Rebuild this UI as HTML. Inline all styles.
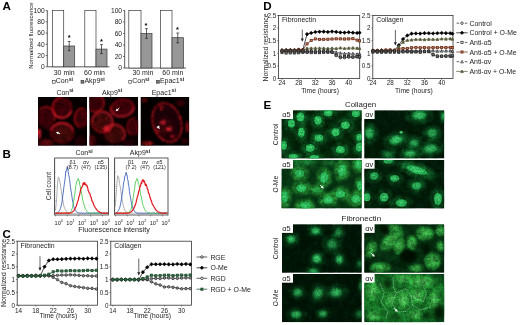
<!DOCTYPE html>
<html lang="en"><head><meta charset="utf-8"><title>Figure</title>
<style>html,body{margin:0;padding:0;background:#fff;overflow:hidden}svg{display:block}body>svg{filter:blur(0.35px)}text{font-family:"Liberation Sans",sans-serif}</style></head><body>
<svg width="520" height="325" viewBox="0 0 520 325">
<defs>
<filter id="b0_5" x="-60%" y="-60%" width="220%" height="220%"><feGaussianBlur stdDeviation="0.5"/></filter>
<filter id="b0_8" x="-60%" y="-60%" width="220%" height="220%"><feGaussianBlur stdDeviation="0.8"/></filter>
<filter id="b1_0" x="-60%" y="-60%" width="220%" height="220%"><feGaussianBlur stdDeviation="1.0"/></filter>
<filter id="b1_2" x="-60%" y="-60%" width="220%" height="220%"><feGaussianBlur stdDeviation="1.2"/></filter>
<filter id="b1_6" x="-60%" y="-60%" width="220%" height="220%"><feGaussianBlur stdDeviation="1.6"/></filter>
<filter id="b2_0" x="-60%" y="-60%" width="220%" height="220%"><feGaussianBlur stdDeviation="2.0"/></filter>
<filter id="b2_5" x="-60%" y="-60%" width="220%" height="220%"><feGaussianBlur stdDeviation="2.5"/></filter>
<filter id="b3_0" x="-60%" y="-60%" width="220%" height="220%"><feGaussianBlur stdDeviation="3.0"/></filter>
<filter id="b4_0" x="-60%" y="-60%" width="220%" height="220%"><feGaussianBlur stdDeviation="4.0"/></filter>
<filter id="nz0" x="0" y="0" width="100%" height="100%"><feTurbulence type="fractalNoise" baseFrequency="0.16" numOctaves="3" seed="3" result="n"/><feColorMatrix in="n" type="matrix" values="0 0 0 0 0  0 0 0 0 0  0 0 0 0 0  2.2 0 0 0 -0.7" result="a"/><feComposite in="SourceGraphic" in2="a" operator="in"/></filter>
<filter id="nz1" x="0" y="0" width="100%" height="100%"><feTurbulence type="fractalNoise" baseFrequency="0.16" numOctaves="3" seed="4" result="n"/><feColorMatrix in="n" type="matrix" values="0 0 0 0 0  0 0 0 0 0  0 0 0 0 0  2.2 0 0 0 -0.7" result="a"/><feComposite in="SourceGraphic" in2="a" operator="in"/></filter>
<filter id="nz2" x="0" y="0" width="100%" height="100%"><feTurbulence type="fractalNoise" baseFrequency="0.16" numOctaves="3" seed="5" result="n"/><feColorMatrix in="n" type="matrix" values="0 0 0 0 0  0 0 0 0 0  0 0 0 0 0  2.2 0 0 0 -0.7" result="a"/><feComposite in="SourceGraphic" in2="a" operator="in"/></filter>
<filter id="nz3" x="0" y="0" width="100%" height="100%"><feTurbulence type="fractalNoise" baseFrequency="0.16" numOctaves="3" seed="6" result="n"/><feColorMatrix in="n" type="matrix" values="0 0 0 0 0  0 0 0 0 0  0 0 0 0 0  2.2 0 0 0 -0.7" result="a"/><feComposite in="SourceGraphic" in2="a" operator="in"/></filter>
<filter id="nz4" x="0" y="0" width="100%" height="100%"><feTurbulence type="fractalNoise" baseFrequency="0.16" numOctaves="3" seed="7" result="n"/><feColorMatrix in="n" type="matrix" values="0 0 0 0 0  0 0 0 0 0  0 0 0 0 0  2.2 0 0 0 -0.7" result="a"/><feComposite in="SourceGraphic" in2="a" operator="in"/></filter>
<filter id="nz5" x="0" y="0" width="100%" height="100%"><feTurbulence type="fractalNoise" baseFrequency="0.16" numOctaves="3" seed="8" result="n"/><feColorMatrix in="n" type="matrix" values="0 0 0 0 0  0 0 0 0 0  0 0 0 0 0  2.2 0 0 0 -0.7" result="a"/><feComposite in="SourceGraphic" in2="a" operator="in"/></filter>
<filter id="nz6" x="0" y="0" width="100%" height="100%"><feTurbulence type="fractalNoise" baseFrequency="0.16" numOctaves="3" seed="9" result="n"/><feColorMatrix in="n" type="matrix" values="0 0 0 0 0  0 0 0 0 0  0 0 0 0 0  2.2 0 0 0 -0.7" result="a"/><feComposite in="SourceGraphic" in2="a" operator="in"/></filter>
<filter id="nz7" x="0" y="0" width="100%" height="100%"><feTurbulence type="fractalNoise" baseFrequency="0.16" numOctaves="3" seed="10" result="n"/><feColorMatrix in="n" type="matrix" values="0 0 0 0 0  0 0 0 0 0  0 0 0 0 0  2.2 0 0 0 -0.7" result="a"/><feComposite in="SourceGraphic" in2="a" operator="in"/></filter>
<filter id="nz8" x="0" y="0" width="100%" height="100%"><feTurbulence type="fractalNoise" baseFrequency="0.16" numOctaves="3" seed="11" result="n"/><feColorMatrix in="n" type="matrix" values="0 0 0 0 0  0 0 0 0 0  0 0 0 0 0  2.2 0 0 0 -0.7" result="a"/><feComposite in="SourceGraphic" in2="a" operator="in"/></filter>
<filter id="nz9" x="0" y="0" width="100%" height="100%"><feTurbulence type="fractalNoise" baseFrequency="0.16" numOctaves="3" seed="12" result="n"/><feColorMatrix in="n" type="matrix" values="0 0 0 0 0  0 0 0 0 0  0 0 0 0 0  2.2 0 0 0 -0.7" result="a"/><feComposite in="SourceGraphic" in2="a" operator="in"/></filter>
<filter id="nz10" x="0" y="0" width="100%" height="100%"><feTurbulence type="fractalNoise" baseFrequency="0.16" numOctaves="3" seed="13" result="n"/><feColorMatrix in="n" type="matrix" values="0 0 0 0 0  0 0 0 0 0  0 0 0 0 0  2.2 0 0 0 -0.7" result="a"/><feComposite in="SourceGraphic" in2="a" operator="in"/></filter>
<filter id="nz11" x="0" y="0" width="100%" height="100%"><feTurbulence type="fractalNoise" baseFrequency="0.16" numOctaves="3" seed="14" result="n"/><feColorMatrix in="n" type="matrix" values="0 0 0 0 0  0 0 0 0 0  0 0 0 0 0  2.2 0 0 0 -0.7" result="a"/><feComposite in="SourceGraphic" in2="a" operator="in"/></filter>
<filter id="nf0" x="0" y="0" width="100%" height="100%"><feTurbulence type="fractalNoise" baseFrequency="0.55" numOctaves="2" seed="31" result="n"/><feColorMatrix in="n" type="matrix" values="0 0 0 0 0  0 0 0 0 0  0 0 0 0 0  2.6 0 0 0 -0.95" result="a"/><feComposite in="SourceGraphic" in2="a" operator="in"/></filter>
<filter id="nf1" x="0" y="0" width="100%" height="100%"><feTurbulence type="fractalNoise" baseFrequency="0.55" numOctaves="2" seed="32" result="n"/><feColorMatrix in="n" type="matrix" values="0 0 0 0 0  0 0 0 0 0  0 0 0 0 0  2.6 0 0 0 -0.95" result="a"/><feComposite in="SourceGraphic" in2="a" operator="in"/></filter>
<filter id="nf2" x="0" y="0" width="100%" height="100%"><feTurbulence type="fractalNoise" baseFrequency="0.55" numOctaves="2" seed="33" result="n"/><feColorMatrix in="n" type="matrix" values="0 0 0 0 0  0 0 0 0 0  0 0 0 0 0  2.6 0 0 0 -0.95" result="a"/><feComposite in="SourceGraphic" in2="a" operator="in"/></filter>
<filter id="nf3" x="0" y="0" width="100%" height="100%"><feTurbulence type="fractalNoise" baseFrequency="0.55" numOctaves="2" seed="34" result="n"/><feColorMatrix in="n" type="matrix" values="0 0 0 0 0  0 0 0 0 0  0 0 0 0 0  2.6 0 0 0 -0.95" result="a"/><feComposite in="SourceGraphic" in2="a" operator="in"/></filter>
<filter id="nf4" x="0" y="0" width="100%" height="100%"><feTurbulence type="fractalNoise" baseFrequency="0.55" numOctaves="2" seed="35" result="n"/><feColorMatrix in="n" type="matrix" values="0 0 0 0 0  0 0 0 0 0  0 0 0 0 0  2.6 0 0 0 -0.95" result="a"/><feComposite in="SourceGraphic" in2="a" operator="in"/></filter>
<filter id="nf5" x="0" y="0" width="100%" height="100%"><feTurbulence type="fractalNoise" baseFrequency="0.55" numOctaves="2" seed="36" result="n"/><feColorMatrix in="n" type="matrix" values="0 0 0 0 0  0 0 0 0 0  0 0 0 0 0  2.6 0 0 0 -0.95" result="a"/><feComposite in="SourceGraphic" in2="a" operator="in"/></filter>
<filter id="nf6" x="0" y="0" width="100%" height="100%"><feTurbulence type="fractalNoise" baseFrequency="0.55" numOctaves="2" seed="37" result="n"/><feColorMatrix in="n" type="matrix" values="0 0 0 0 0  0 0 0 0 0  0 0 0 0 0  2.6 0 0 0 -0.95" result="a"/><feComposite in="SourceGraphic" in2="a" operator="in"/></filter>
<filter id="nf7" x="0" y="0" width="100%" height="100%"><feTurbulence type="fractalNoise" baseFrequency="0.55" numOctaves="2" seed="38" result="n"/><feColorMatrix in="n" type="matrix" values="0 0 0 0 0  0 0 0 0 0  0 0 0 0 0  2.6 0 0 0 -0.95" result="a"/><feComposite in="SourceGraphic" in2="a" operator="in"/></filter>
<filter id="nf8" x="0" y="0" width="100%" height="100%"><feTurbulence type="fractalNoise" baseFrequency="0.55" numOctaves="2" seed="39" result="n"/><feColorMatrix in="n" type="matrix" values="0 0 0 0 0  0 0 0 0 0  0 0 0 0 0  2.6 0 0 0 -0.95" result="a"/><feComposite in="SourceGraphic" in2="a" operator="in"/></filter>
<filter id="nf9" x="0" y="0" width="100%" height="100%"><feTurbulence type="fractalNoise" baseFrequency="0.55" numOctaves="2" seed="40" result="n"/><feColorMatrix in="n" type="matrix" values="0 0 0 0 0  0 0 0 0 0  0 0 0 0 0  2.6 0 0 0 -0.95" result="a"/><feComposite in="SourceGraphic" in2="a" operator="in"/></filter>
<filter id="nf10" x="0" y="0" width="100%" height="100%"><feTurbulence type="fractalNoise" baseFrequency="0.55" numOctaves="2" seed="41" result="n"/><feColorMatrix in="n" type="matrix" values="0 0 0 0 0  0 0 0 0 0  0 0 0 0 0  2.6 0 0 0 -0.95" result="a"/><feComposite in="SourceGraphic" in2="a" operator="in"/></filter>
<filter id="nf11" x="0" y="0" width="100%" height="100%"><feTurbulence type="fractalNoise" baseFrequency="0.55" numOctaves="2" seed="42" result="n"/><feColorMatrix in="n" type="matrix" values="0 0 0 0 0  0 0 0 0 0  0 0 0 0 0  2.6 0 0 0 -0.95" result="a"/><feComposite in="SourceGraphic" in2="a" operator="in"/></filter>
</defs>
<rect width="520" height="325" fill="#fff"/>
<text x="2.40" y="9.90" font-size="11.6" text-anchor="start" font-weight="bold" fill="#000" >A</text>
<text x="2.60" y="158.20" font-size="11.6" text-anchor="start" font-weight="bold" fill="#000" >B</text>
<text x="2.40" y="237.80" font-size="11.6" text-anchor="start" font-weight="bold" fill="#000" >C</text>
<text x="263.20" y="9.70" font-size="11.6" text-anchor="start" font-weight="bold" fill="#000" >D</text>
<text x="263.60" y="108.90" font-size="11.6" text-anchor="start" font-weight="bold" fill="#000" >E</text>
<text transform="translate(33.20,35.60) rotate(-90)" font-size="6.05" text-anchor="middle" fill="#1c1c1c">Normalized fluorescence</text>
<path d="M47.30 10.30V66.80H109.50" fill="none" stroke="#333" stroke-width="0.8"/>
<path d="M45.70 10.60H47.30" stroke="#333" stroke-width="0.7"/>
<text x="44.70" y="13.00" font-size="6.7" text-anchor="end" font-weight="normal" fill="#1c1c1c" >100</text>
<path d="M45.70 21.84H47.30" stroke="#333" stroke-width="0.7"/>
<text x="44.70" y="24.24" font-size="6.7" text-anchor="end" font-weight="normal" fill="#1c1c1c" >80</text>
<path d="M45.70 33.08H47.30" stroke="#333" stroke-width="0.7"/>
<text x="44.70" y="35.48" font-size="6.7" text-anchor="end" font-weight="normal" fill="#1c1c1c" >60</text>
<path d="M45.70 44.32H47.30" stroke="#333" stroke-width="0.7"/>
<text x="44.70" y="46.72" font-size="6.7" text-anchor="end" font-weight="normal" fill="#1c1c1c" >40</text>
<path d="M45.70 55.56H47.30" stroke="#333" stroke-width="0.7"/>
<text x="44.70" y="57.96" font-size="6.7" text-anchor="end" font-weight="normal" fill="#1c1c1c" >20</text>
<path d="M45.70 66.80H47.30" stroke="#333" stroke-width="0.7"/>
<text x="44.70" y="69.20" font-size="6.7" text-anchor="end" font-weight="normal" fill="#1c1c1c" >0</text>
<rect x="52.40" y="10.60" width="11.30" height="56.20" fill="#fff" stroke="#3a3a3a" stroke-width="0.7"/>
<rect x="63.70" y="46.00" width="11.00" height="20.80" fill="#979797" stroke="#3a3a3a" stroke-width="0.7"/>
<path d="M69.20 41.50V50.70M67.80 41.50h2.8M67.80 50.70h2.8" stroke="#222" stroke-width="0.7" fill="none"/>
<text x="69.30" y="40.10" font-size="7.5" text-anchor="middle" font-weight="bold" fill="#000" >*</text>
<rect x="84.80" y="10.60" width="11.20" height="56.20" fill="#fff" stroke="#3a3a3a" stroke-width="0.7"/>
<rect x="96.00" y="49.10" width="11.00" height="17.70" fill="#979797" stroke="#3a3a3a" stroke-width="0.7"/>
<path d="M101.50 44.60V53.60M100.10 44.60h2.8M100.10 53.60h2.8" stroke="#222" stroke-width="0.7" fill="none"/>
<text x="101.50" y="43.80" font-size="7.5" text-anchor="middle" font-weight="bold" fill="#000" >*</text>
<text x="53.70" y="75.00" font-size="7.0" text-anchor="start" font-weight="normal" fill="#1c1c1c" >30 min</text>
<text x="84.00" y="75.00" font-size="7.0" text-anchor="start" font-weight="normal" fill="#1c1c1c" >60 min</text>
<rect x="52.40" y="80.40" width="2.8" height="2.8" fill="#fff" stroke="#333" stroke-width="0.6"/>
<text x="55.80" y="83.40" font-size="7.0" text-anchor="start" font-weight="normal" fill="#1c1c1c" >Con<tspan font-size="5.2" dy="-2.4" font-weight="bold">si</tspan></text>
<rect x="81.00" y="80.40" width="2.8" height="2.8" fill="#777" stroke="#333" stroke-width="0.6"/>
<text x="84.40" y="83.40" font-size="7.0" text-anchor="start" font-weight="normal" fill="#1c1c1c" >Akp9<tspan font-size="5.2" dy="-2.4" font-weight="bold">si</tspan></text>
<path d="M124.70 10.20V68.00H186.00" fill="none" stroke="#333" stroke-width="0.8"/>
<path d="M123.10 10.50H124.70" stroke="#333" stroke-width="0.7"/>
<text x="122.10" y="12.90" font-size="6.7" text-anchor="end" font-weight="normal" fill="#1c1c1c" >100</text>
<path d="M123.10 22.00H124.70" stroke="#333" stroke-width="0.7"/>
<text x="122.10" y="24.40" font-size="6.7" text-anchor="end" font-weight="normal" fill="#1c1c1c" >80</text>
<path d="M123.10 33.50H124.70" stroke="#333" stroke-width="0.7"/>
<text x="122.10" y="35.90" font-size="6.7" text-anchor="end" font-weight="normal" fill="#1c1c1c" >60</text>
<path d="M123.10 45.00H124.70" stroke="#333" stroke-width="0.7"/>
<text x="122.10" y="47.40" font-size="6.7" text-anchor="end" font-weight="normal" fill="#1c1c1c" >40</text>
<path d="M123.10 56.50H124.70" stroke="#333" stroke-width="0.7"/>
<text x="122.10" y="58.90" font-size="6.7" text-anchor="end" font-weight="normal" fill="#1c1c1c" >20</text>
<path d="M123.10 68.00H124.70" stroke="#333" stroke-width="0.7"/>
<text x="122.10" y="70.40" font-size="6.7" text-anchor="end" font-weight="normal" fill="#1c1c1c" >0</text>
<rect x="128.80" y="10.50" width="12.20" height="57.50" fill="#fff" stroke="#3a3a3a" stroke-width="0.7"/>
<rect x="141.00" y="33.50" width="11.00" height="34.50" fill="#979797" stroke="#3a3a3a" stroke-width="0.7"/>
<path d="M146.50 28.60V38.40M145.10 28.60h2.8M145.10 38.40h2.8" stroke="#222" stroke-width="0.7" fill="none"/>
<text x="145.90" y="28.40" font-size="7.5" text-anchor="middle" font-weight="bold" fill="#000" >*</text>
<rect x="160.40" y="10.50" width="11.60" height="57.50" fill="#fff" stroke="#3a3a3a" stroke-width="0.7"/>
<rect x="172.00" y="37.70" width="11.50" height="30.30" fill="#979797" stroke="#3a3a3a" stroke-width="0.7"/>
<path d="M177.75 33.00V42.80M176.35 33.00h2.8M176.35 42.80h2.8" stroke="#222" stroke-width="0.7" fill="none"/>
<text x="177.50" y="32.10" font-size="7.5" text-anchor="middle" font-weight="bold" fill="#000" >*</text>
<text x="132.40" y="75.00" font-size="7.0" text-anchor="start" font-weight="normal" fill="#1c1c1c" >30 min</text>
<text x="162.30" y="75.00" font-size="7.0" text-anchor="start" font-weight="normal" fill="#1c1c1c" >60 min</text>
<rect x="128.80" y="80.40" width="2.8" height="2.8" fill="#fff" stroke="#333" stroke-width="0.6"/>
<text x="132.20" y="83.40" font-size="7.0" text-anchor="start" font-weight="normal" fill="#1c1c1c" >Con<tspan font-size="5.2" dy="-2.4" font-weight="bold">si</tspan></text>
<rect x="156.50" y="80.40" width="2.8" height="2.8" fill="#777" stroke="#333" stroke-width="0.6"/>
<text x="159.90" y="83.40" font-size="7.0" text-anchor="start" font-weight="normal" fill="#1c1c1c" >Epac1<tspan font-size="5.2" dy="-2.4" font-weight="bold">si</tspan></text>
<text x="56.40" y="94.70" font-size="7.0" text-anchor="start" font-weight="normal" fill="#1c1c1c" >Con<tspan font-size="5.2" dy="-2.4" font-weight="bold">si</tspan></text>
<text x="101.90" y="94.70" font-size="7.0" text-anchor="start" font-weight="normal" fill="#1c1c1c" >Akp9<tspan font-size="5.2" dy="-2.4" font-weight="bold">si</tspan></text>
<text x="151.70" y="94.70" font-size="7.0" text-anchor="start" font-weight="normal" fill="#1c1c1c" >Epac1<tspan font-size="5.2" dy="-2.4" font-weight="bold">si</tspan></text>
<svg x="38.00" y="97.00" width="49.00" height="48.80" viewBox="0 0 49.00 48.80" overflow="hidden">
<rect width="49.00" height="48.80" fill="#0a0102"/>
<ellipse cx="24" cy="10.8" rx="9.6" ry="10" fill="#50060b" opacity="0.95" transform="rotate(0 24 10.8)" filter="url(#b1_2)"/>
<ellipse cx="24" cy="10.8" rx="9.6" ry="10" fill="none" stroke="#8c0a12" stroke-width="1.2" opacity="0.9" transform="rotate(0 24 10.8)" filter="url(#b0_8)"/>
<ellipse cx="24" cy="36" rx="11.5" ry="10" fill="#56070c" opacity="0.95" transform="rotate(0 24 36)" filter="url(#b1_2)"/>
<ellipse cx="24" cy="36" rx="11.5" ry="10" fill="none" stroke="#8c0a12" stroke-width="1.2" opacity="0.9" transform="rotate(0 24 36)" filter="url(#b0_8)"/>
<ellipse cx="43.7" cy="21" rx="7" ry="9.5" fill="#5a060c" opacity="0.9" transform="rotate(10 43.7 21)" filter="url(#b1_2)"/>
<ellipse cx="43.7" cy="21" rx="7" ry="9.5" fill="none" stroke="#8c0a12" stroke-width="1.0" opacity="0.8" transform="rotate(10 43.7 21)" filter="url(#b0_8)"/>
<ellipse cx="8" cy="20" rx="9" ry="11" fill="#52060c" opacity="0.9" transform="rotate(0 8 20)" filter="url(#b1_6)"/>
<ellipse cx="1.2" cy="37" rx="2.2" ry="5.5" fill="#ff2838" opacity="0.95" transform="rotate(0 1.2 37)" filter="url(#b1_0)"/>
<ellipse cx="8" cy="46" rx="8" ry="4" fill="#8c0a12" opacity="0.75" transform="rotate(0 8 46)" filter="url(#b1_6)"/>
<ellipse cx="42" cy="44" rx="6" ry="5" fill="#3a0408" opacity="0.7" transform="rotate(0 42 44)" filter="url(#b1_6)"/>
<ellipse cx="13" cy="30" rx="4" ry="4" fill="#5a060c" opacity="0.7" transform="rotate(0 13 30)" filter="url(#b1_6)"/>
<rect width="49.00" height="48.80" fill="#000" opacity="0.35" filter="url(#nz0)"/>
<rect width="49.00" height="48.80" fill="#000" opacity="0.3" filter="url(#nf0)"/>
<path d="M33.02 14.22A9.6 10 0 0 1 15.69 15.80" fill="none" stroke="#ff2838" stroke-width="1.5" stroke-linecap="round" opacity="0.95" filter="url(#b0_8)" transform="rotate(0 24 10.8)"/><path d="M15.69 15.80A9.6 10 0 0 1 22.33 0.95" fill="none" stroke="#c8141e" stroke-width="1.2" stroke-linecap="round" opacity="0.8" filter="url(#b0_8)" transform="rotate(0 24 10.8)"/><path d="M12.89 33.41A11.5 10 0 0 1 35.11 33.41" fill="none" stroke="#ff2838" stroke-width="1.3" stroke-linecap="round" opacity="0.9" filter="url(#b0_8)" transform="rotate(0 24 36)"/><path d="M2.21 12.34A9 10 0 0 1 16.46 23.42" fill="none" stroke="#c8141e" stroke-width="1.4" stroke-linecap="round" opacity="0.8" filter="url(#b0_8)" transform="rotate(0 8 20)"/><path d="M41.31 29.93A7 9.5 0 0 1 44.92 11.64" fill="none" stroke="#c8141e" stroke-width="1.2" stroke-linecap="round" opacity="0.85" filter="url(#b0_8)" transform="rotate(0 43.7 21)"/><g transform="translate(18.0,35.0) rotate(205)"><path d="M-4.5 0H-1.5" stroke="#fff" stroke-width="0.9"/><path d="M0 0L-2.6 -1.4V1.4Z" fill="#fff"/></g>
</svg>
<svg x="89.30" y="97.00" width="48.90" height="48.80" viewBox="0 0 48.90 48.80" overflow="hidden">
<rect width="48.90" height="48.80" fill="#0d0102"/>
<ellipse cx="33" cy="11" rx="11.5" ry="8.5" fill="#52060c" opacity="0.95" transform="rotate(-10 33 11)" filter="url(#b1_2)"/>
<ellipse cx="13" cy="25" rx="10.5" ry="10.5" fill="#58070d" opacity="0.95" transform="rotate(0 13 25)" filter="url(#b1_2)"/>
<ellipse cx="25" cy="37" rx="10.5" ry="9.5" fill="#58070d" opacity="0.95" transform="rotate(0 25 37)" filter="url(#b1_2)"/>
<ellipse cx="6" cy="6" rx="9" ry="9" fill="#50060b" opacity="0.9" transform="rotate(0 6 6)" filter="url(#b1_2)"/>
<ellipse cx="45" cy="30" rx="7" ry="9" fill="#5a060c" opacity="0.85" transform="rotate(0 45 30)" filter="url(#b1_2)"/>
<ellipse cx="2" cy="44" rx="4" ry="6" fill="#8c0a12" opacity="0.7" transform="rotate(0 2 44)" filter="url(#b1_6)"/>
<ellipse cx="40" cy="46" rx="6" ry="4" fill="#3a0408" opacity="0.7" transform="rotate(0 40 46)" filter="url(#b1_6)"/>
<ellipse cx="17" cy="31.4" rx="2.4" ry="2.4" fill="#ff3c50" opacity="1" transform="rotate(0 17 31.4)" filter="url(#b0_8)"/>
<ellipse cx="17" cy="31.4" rx="4.5" ry="4.5" fill="#c8141e" opacity="0.6" transform="rotate(0 17 31.4)" filter="url(#b1_6)"/>
<rect width="48.90" height="48.80" fill="#000" opacity="0.35" filter="url(#nz1)"/>
<rect width="48.90" height="48.80" fill="#000" opacity="0.3" filter="url(#nf1)"/>
<path d="M44.33 12.48A11.5 8.5 0 1 1 22.19 8.09" fill="none" stroke="#ff2838" stroke-width="1.4" stroke-linecap="round" opacity="0.9" filter="url(#b0_8)" transform="rotate(-10 33 11)"/><path d="M22.19 8.09A11.5 8.5 0 0 1 44.33 12.48" fill="none" stroke="#c8141e" stroke-width="1.1" stroke-linecap="round" opacity="0.8" filter="url(#b0_8)" transform="rotate(-10 33 11)"/><path d="M2.50 25.00A10.5 10.5 0 1 1 18.25 34.09" fill="none" stroke="#ff2838" stroke-width="1.3" stroke-linecap="round" opacity="0.85" filter="url(#b0_8)" transform="rotate(0 13 25)"/><path d="M18.25 34.09A10.5 10.5 0 0 1 2.50 25.00" fill="none" stroke="#c8141e" stroke-width="1.1" stroke-linecap="round" opacity="0.8" filter="url(#b0_8)" transform="rotate(0 13 25)"/><path d="M15.13 33.75A10.5 9.5 0 1 1 33.04 43.11" fill="none" stroke="#ff2838" stroke-width="1.3" stroke-linecap="round" opacity="0.85" filter="url(#b0_8)" transform="rotate(0 25 37)"/><path d="M10.50 -1.79A9 9 0 0 1 1.50 13.79" fill="none" stroke="#c8141e" stroke-width="1.3" stroke-linecap="round" opacity="0.85" filter="url(#b0_8)" transform="rotate(0 6 6)"/><path d="M41.50 37.79A7 9 0 0 1 45.00 21.00" fill="none" stroke="#c8141e" stroke-width="1.1" stroke-linecap="round" opacity="0.8" filter="url(#b0_8)" transform="rotate(0 45 30)"/><g transform="translate(26.3,14.2) rotate(140)"><path d="M-4.8 0H-1.5" stroke="#fff" stroke-width="0.9"/><path d="M0 0L-2.6 -1.4V1.4Z" fill="#fff"/></g>
</svg>
<svg x="140.50" y="97.00" width="48.80" height="48.80" viewBox="0 0 48.80 48.80" overflow="hidden">
<rect width="48.80" height="48.80" fill="#070001"/>
<ellipse cx="26.5" cy="25.5" rx="14" ry="20" fill="#2c0307" opacity="0.85" transform="rotate(-18 26.5 25.5)" filter="url(#b1_6)"/>
<ellipse cx="25" cy="30" rx="8" ry="8" fill="#5a070d" opacity="0.6" transform="rotate(0 25 30)" filter="url(#b2_0)"/>
<ellipse cx="22.5" cy="25.5" rx="2.8" ry="2.2" fill="#ff2838" opacity="0.9" transform="rotate(0 22.5 25.5)" filter="url(#b1_0)"/>
<ellipse cx="28.5" cy="32" rx="3.0" ry="2.4" fill="#ff2838" opacity="0.85" transform="rotate(0 28.5 32)" filter="url(#b1_0)"/>
<ellipse cx="32" cy="39.5" rx="2.2" ry="2.0" fill="#c8141e" opacity="0.8" transform="rotate(0 32 39.5)" filter="url(#b1_0)"/>
<ellipse cx="17" cy="34" rx="2.0" ry="2.0" fill="#c8141e" opacity="0.8" transform="rotate(0 17 34)" filter="url(#b1_0)"/>
<ellipse cx="21" cy="11" rx="2.0" ry="3.0" fill="#c8141e" opacity="0.7" transform="rotate(0 21 11)" filter="url(#b1_0)"/>
<ellipse cx="46.8" cy="30" rx="1.6" ry="6" fill="#c8141e" opacity="0.95" transform="rotate(0 46.8 30)" filter="url(#b1_0)"/>
<ellipse cx="7" cy="46.5" rx="6" ry="2.2" fill="#c8141e" opacity="0.9" transform="rotate(0 7 46.5)" filter="url(#b1_2)"/>
<ellipse cx="4" cy="3" rx="3" ry="2.5" fill="#8c0a12" opacity="0.8" transform="rotate(0 4 3)" filter="url(#b1_2)"/>
<ellipse cx="40" cy="6" rx="5" ry="3" fill="#5a060c" opacity="0.8" transform="rotate(0 40 6)" filter="url(#b1_6)"/>
<ellipse cx="44" cy="44" rx="4" ry="3" fill="#5a060c" opacity="0.6" transform="rotate(0 44 44)" filter="url(#b1_6)"/>
<rect width="48.80" height="48.80" fill="#000" opacity="0.3" filter="url(#nz2)"/>
<rect width="48.80" height="48.80" fill="#000" opacity="0.3" filter="url(#nf2)"/>
<ellipse cx="26.5" cy="25.5" rx="14" ry="20" fill="none" stroke="#c8141e" stroke-width="1.2" opacity="0.7" transform="rotate(-18 26.5 25.5)" filter="url(#b0_8)"/><ellipse cx="26.5" cy="25.5" rx="14" ry="20" fill="none" stroke="#ff2838" stroke-width="1.5" stroke-dasharray="1.6 2.9 1.1 3.7 2.0 2.3" opacity="0.85" transform="rotate(-18 26.5 25.5)" filter="url(#b0_8)"/><g transform="translate(19.0,32.2) rotate(60)"><path d="M0 0L-3.4 -1.7V1.7Z" fill="#fff"/></g>
</svg>
<text transform="translate(51.00,186.00) rotate(-90)" font-size="6.3" text-anchor="middle" fill="#1c1c1c">Cell count</text>
<rect x="54.60" y="158.00" width="53.90" height="57.00" fill="#fff" stroke="#333" stroke-width="0.8"/>
<path d="M54.60 160.04h0.9M54.60 162.07h0.9M54.60 164.11h0.9M54.60 166.14h0.9M54.60 168.18h0.9M54.60 170.21h0.9M54.60 172.25h1.6M54.60 174.29h0.9M54.60 176.32h0.9M54.60 178.36h0.9M54.60 180.39h0.9M54.60 182.43h0.9M54.60 184.46h0.9M54.60 186.50h1.6M54.60 188.54h0.9M54.60 190.57h0.9M54.60 192.61h0.9M54.60 194.64h0.9M54.60 196.68h0.9M54.60 198.71h0.9M54.60 200.75h1.6M54.60 202.79h0.9M54.60 204.82h0.9M54.60 206.86h0.9M54.60 208.89h0.9M54.60 210.93h0.9M54.60 212.96h0.9" stroke="#333" stroke-width="0.35"/>
<path d="M55.20 210.68L55.68 208.59L56.16 204.72L56.64 198.87L57.12 190.39L57.60 182.76L58.07 178.42L58.55 176.97L59.03 178.71L59.51 180.05L59.99 182.16L60.47 185.09L60.95 188.78L61.43 191.22L61.91 195.65L62.39 198.18L62.87 200.78L63.34 203.14L63.82 205.72L64.30 207.42L64.78 208.44L65.26 209.79L65.74 210.48L66.22 211.20L66.70 211.88L67.18 212.27L67.66 212.42L68.14 212.75L68.61 212.86L69.09 213.11L69.57 213.20L70.05 213.20L70.53 213.29L71.01 213.00L71.49 213.44L71.97 213.01L72.45 213.36L72.93 213.12L73.41 212.96L73.88 213.54L74.36 213.37L74.84 213.30L75.32 213.52L75.80 213.02L76.28 213.15L76.76 212.99L77.24 213.35L77.72 213.29L78.20 213.45L78.68 213.44L79.15 213.11L79.63 213.21L80.11 213.53L80.59 213.28L81.07 213.52L81.55 213.09L82.03 213.48L82.51 213.06L82.99 212.94L83.47 213.16L83.95 213.29L84.42 213.41L84.90 213.08L85.38 213.18L85.86 213.02L86.34 212.95L86.82 212.95L87.30 213.32L87.78 213.03L88.26 213.03L88.74 213.32L89.22 213.39L89.69 213.36L90.17 213.21L90.65 213.27L91.13 213.38L91.61 213.48L92.09 213.22L92.57 213.01L93.05 212.94L93.53 212.97L94.01 213.46L94.49 213.24L94.96 212.97L95.44 212.91L95.92 213.47L96.40 212.98L96.88 213.27L97.36 213.25L97.84 213.35L98.32 213.27L98.80 213.34L99.28 212.99L99.76 213.09L100.23 213.49L100.71 213.41L101.19 213.37L101.67 213.05L102.15 213.27L102.63 213.31L103.11 213.03L103.59 213.08L104.07 213.48L104.55 213.26L105.03 213.10L105.50 213.39L105.98 213.46L106.46 213.42L106.94 212.90L107.42 212.99L107.90 213.47" fill="none" stroke="#8c8c8c" stroke-width="0.7" stroke-linejoin="round"/>
<path d="M55.20 213.30L55.68 213.23L56.16 213.10L56.64 212.98L57.12 212.69L57.60 212.52L58.07 212.26L58.55 211.69L59.03 211.13L59.51 210.53L59.99 209.68L60.47 208.33L60.95 206.71L61.43 204.87L61.91 202.62L62.39 198.63L62.87 195.21L63.34 192.07L63.82 187.62L64.30 184.25L64.78 181.08L65.26 177.35L65.74 171.19L66.22 171.58L66.70 170.21L67.18 166.86L67.66 167.36L68.14 171.24L68.61 174.54L69.09 176.93L69.57 178.72L70.05 183.73L70.53 187.29L71.01 190.73L71.49 193.19L71.97 196.91L72.45 199.96L72.93 202.40L73.41 205.21L73.88 206.91L74.36 208.55L74.84 209.24L75.32 210.42L75.80 211.22L76.28 211.57L76.76 211.98L77.24 212.27L77.72 212.58L78.20 212.85L78.68 212.96L79.15 212.92L79.63 213.17L80.11 212.92L80.59 213.29L81.07 213.02L81.55 213.05L82.03 213.49L82.51 213.52L82.99 213.21L83.47 212.95L83.95 213.22L84.42 213.44L84.90 213.39L85.38 213.23L85.86 213.48L86.34 213.16L86.82 213.18L87.30 213.44L87.78 213.06L88.26 213.51L88.74 213.15L89.22 213.48L89.69 213.03L90.17 213.21L90.65 213.49L91.13 213.49L91.61 213.07L92.09 212.94L92.57 213.16L93.05 213.44L93.53 213.03L94.01 213.39L94.49 213.03L94.96 213.46L95.44 213.37L95.92 213.21L96.40 213.02L96.88 213.31L97.36 213.20L97.84 213.02L98.32 212.98L98.80 213.04L99.28 213.36L99.76 213.17L100.23 212.94L100.71 213.37L101.19 213.31L101.67 213.48L102.15 213.24L102.63 213.44L103.11 213.09L103.59 213.36L104.07 213.04L104.55 212.97L105.03 213.42L105.50 213.32L105.98 213.01L106.46 213.16L106.94 213.33L107.42 213.26L107.90 213.01" fill="none" stroke="#2a4fb4" stroke-width="0.8" stroke-linejoin="round"/>
<path d="M55.20 213.25L55.68 213.36L56.16 213.04L56.64 212.94L57.12 213.28L57.60 212.88L58.07 213.08L58.55 213.47L59.03 212.92L59.51 213.12L59.99 213.15L60.47 213.10L60.95 213.21L61.43 213.00L61.91 213.52L62.39 213.16L62.87 213.18L63.34 213.03L63.82 213.18L64.30 213.25L64.78 213.17L65.26 213.42L65.74 213.05L66.22 212.96L66.70 213.34L67.18 212.89L67.66 212.99L68.14 212.90L68.61 213.12L69.09 212.97L69.57 212.66L70.05 212.31L70.53 211.83L71.01 211.23L71.49 210.36L71.97 209.03L72.45 207.49L72.93 205.43L73.41 202.73L73.88 200.11L74.36 196.66L74.84 193.98L75.32 189.59L75.80 185.53L76.28 184.42L76.76 181.01L77.24 180.62L77.72 180.36L78.20 178.47L78.68 180.43L79.15 180.38L79.63 184.93L80.11 185.50L80.59 189.09L81.07 190.38L81.55 193.06L82.03 195.29L82.51 198.98L82.99 200.98L83.47 202.60L83.95 204.70L84.42 205.86L84.90 207.55L85.38 208.96L85.86 209.53L86.34 210.46L86.82 211.27L87.30 211.62L87.78 212.07L88.26 212.39L88.74 212.63L89.22 212.88L89.69 212.95L90.17 212.95L90.65 213.10L91.13 212.96L91.61 212.89L92.09 213.35L92.57 213.53L93.05 213.19L93.53 213.27L94.01 213.25L94.49 213.05L94.96 213.27L95.44 213.03L95.92 213.24L96.40 213.13L96.88 213.36L97.36 212.92L97.84 213.03L98.32 213.43L98.80 213.33L99.28 213.29L99.76 213.25L100.23 213.03L100.71 213.00L101.19 213.01L101.67 213.50L102.15 213.22L102.63 213.07L103.11 213.24L103.59 213.30L104.07 212.93L104.55 213.04L105.03 213.21L105.50 213.38L105.98 213.16L106.46 213.10L106.94 213.15L107.42 213.36L107.90 213.06" fill="none" stroke="#35c23c" stroke-width="0.8" stroke-linejoin="round"/>
<path d="M55.20 213.08L55.68 213.40L56.16 213.40L56.64 213.12L57.12 213.13L57.60 213.20L58.07 212.96L58.55 213.33L59.03 213.10L59.51 213.21L59.99 212.90L60.47 213.27L60.95 213.49L61.43 212.90L61.91 213.04L62.39 213.13L62.87 213.25L63.34 213.25L63.82 212.93L64.30 212.92L64.78 213.08L65.26 213.25L65.74 212.90L66.22 213.23L66.70 212.92L67.18 213.07L67.66 213.21L68.14 213.41L68.61 212.95L69.09 213.30L69.57 213.15L70.05 213.01L70.53 212.93L71.01 212.70L71.49 212.52L71.97 212.26L72.45 211.84L72.93 211.53L73.41 211.12L73.88 210.50L74.36 209.80L74.84 209.14L75.32 208.01L75.80 206.97L76.28 206.20L76.76 204.79L77.24 202.58L77.72 201.18L78.20 200.26L78.68 197.81L79.15 196.19L79.63 194.56L80.11 192.75L80.59 189.71L81.07 189.16L81.55 187.52L82.03 186.97L82.51 186.40L82.99 183.31L83.47 184.34L83.95 182.61L84.42 184.36L84.90 182.57L85.38 184.64L85.86 184.56L86.34 185.76L86.82 185.21L87.30 186.72L87.78 188.25L88.26 190.83L88.74 191.39L89.22 193.16L89.69 193.12L90.17 194.67L90.65 196.81L91.13 197.24L91.61 199.78L92.09 201.23L92.57 201.37L93.05 202.70L93.53 204.48L94.01 205.59L94.49 206.02L94.96 207.28L95.44 207.83L95.92 208.74L96.40 209.05L96.88 209.88L97.36 210.49L97.84 210.92L98.32 211.22L98.80 211.53L99.28 211.79L99.76 212.23L100.23 212.44L100.71 212.55L101.19 212.67L101.67 212.86L102.15 212.99L102.63 213.08L103.11 213.15L103.59 213.12L104.07 213.30L104.55 213.09L105.03 213.40L105.50 213.20L105.98 213.35L106.46 213.07L106.94 212.94L107.42 213.07L107.90 213.42" fill="none" stroke="#e0181e" stroke-width="1.2" stroke-linejoin="round"/>
<path d="M55.50 215.00v1.4" stroke="#333" stroke-width="0.5"/>
<text x="54.60" y="224.70" font-size="5.6" text-anchor="start" font-weight="normal" fill="#1c1c1c" >10<tspan font-size="3.7" dy="-2.5">0</tspan></text>
<path d="M67.20 215.00v1.4" stroke="#333" stroke-width="0.5"/>
<text x="66.30" y="224.70" font-size="5.6" text-anchor="start" font-weight="normal" fill="#1c1c1c" >10<tspan font-size="3.7" dy="-2.5">1</tspan></text>
<path d="M78.90 215.00v1.4" stroke="#333" stroke-width="0.5"/>
<text x="78.00" y="224.70" font-size="5.6" text-anchor="start" font-weight="normal" fill="#1c1c1c" >10<tspan font-size="3.7" dy="-2.5">2</tspan></text>
<path d="M90.60 215.00v1.4" stroke="#333" stroke-width="0.5"/>
<text x="89.70" y="224.70" font-size="5.6" text-anchor="start" font-weight="normal" fill="#1c1c1c" >10<tspan font-size="3.7" dy="-2.5">3</tspan></text>
<path d="M102.30 215.00v1.4" stroke="#333" stroke-width="0.5"/>
<text x="101.40" y="224.70" font-size="5.6" text-anchor="start" font-weight="normal" fill="#1c1c1c" >10<tspan font-size="3.7" dy="-2.5">4</tspan></text>
<text x="84.00" y="154.90" font-size="7.0" text-anchor="middle" font-weight="normal" fill="#1c1c1c" >Con<tspan font-size="5.2" dy="-2.4" font-weight="bold">si</tspan></text>
<text x="72.60" y="163.90" font-size="5.4" text-anchor="middle" font-weight="normal" fill="#1c1c1c" >β1</text>
<text x="72.60" y="168.50" font-size="5.4" text-anchor="middle" font-weight="normal" fill="#1c1c1c" >(8.7)</text>
<text x="86.00" y="163.90" font-size="5.4" text-anchor="middle" font-weight="normal" fill="#1c1c1c" >αv</text>
<text x="86.00" y="168.50" font-size="5.4" text-anchor="middle" font-weight="normal" fill="#1c1c1c" >(47)</text>
<text x="100.80" y="163.90" font-size="5.4" text-anchor="middle" font-weight="normal" fill="#1c1c1c" >α5</text>
<text x="100.80" y="168.50" font-size="5.4" text-anchor="middle" font-weight="normal" fill="#1c1c1c" >(135)</text>
<rect x="114.60" y="158.00" width="53.40" height="57.00" fill="#fff" stroke="#333" stroke-width="0.8"/>
<path d="M114.60 160.04h0.9M114.60 162.07h0.9M114.60 164.11h0.9M114.60 166.14h0.9M114.60 168.18h0.9M114.60 170.21h0.9M114.60 172.25h1.6M114.60 174.29h0.9M114.60 176.32h0.9M114.60 178.36h0.9M114.60 180.39h0.9M114.60 182.43h0.9M114.60 184.46h0.9M114.60 186.50h1.6M114.60 188.54h0.9M114.60 190.57h0.9M114.60 192.61h0.9M114.60 194.64h0.9M114.60 196.68h0.9M114.60 198.71h0.9M114.60 200.75h1.6M114.60 202.79h0.9M114.60 204.82h0.9M114.60 206.86h0.9M114.60 208.89h0.9M114.60 210.93h0.9M114.60 212.96h0.9" stroke="#333" stroke-width="0.35"/>
<path d="M115.20 206.47L115.67 201.35L116.15 194.16L116.62 187.75L117.10 181.29L117.57 175.61L118.05 176.54L118.52 176.94L119.00 179.20L119.47 183.25L119.95 185.71L120.42 187.44L120.89 191.29L121.37 195.27L121.84 197.72L122.32 201.29L122.79 203.74L123.27 205.37L123.74 207.02L124.22 208.94L124.69 210.03L125.17 210.70L125.64 211.37L126.11 211.76L126.59 212.10L127.06 212.48L127.54 212.76L128.01 212.92L128.49 213.07L128.96 213.16L129.44 213.33L129.91 213.14L130.39 213.13L130.86 213.14L131.33 213.48L131.81 213.06L132.28 213.02L132.76 213.14L133.23 213.22L133.71 213.38L134.18 213.22L134.66 213.30L135.13 213.22L135.61 213.06L136.08 213.23L136.55 213.32L137.03 213.53L137.50 213.15L137.98 213.06L138.45 212.99L138.93 213.35L139.40 213.13L139.88 212.92L140.35 213.11L140.83 213.52L141.30 213.39L141.77 213.23L142.25 213.21L142.72 213.39L143.20 213.20L143.67 213.42L144.15 213.19L144.62 213.52L145.10 213.40L145.57 213.46L146.05 213.27L146.52 213.00L146.99 213.47L147.47 213.31L147.94 213.49L148.42 213.48L148.89 213.24L149.37 212.89L149.84 213.05L150.32 213.40L150.79 212.96L151.27 212.95L151.74 213.04L152.21 212.89L152.69 212.94L153.16 213.01L153.64 213.52L154.11 212.99L154.59 213.37L155.06 213.25L155.54 213.31L156.01 213.51L156.49 213.34L156.96 213.05L157.43 213.28L157.91 212.90L158.38 213.13L158.86 213.25L159.33 213.19L159.81 213.30L160.28 212.92L160.76 213.41L161.23 213.41L161.71 213.10L162.18 212.98L162.65 213.51L163.13 213.46L163.60 213.51L164.08 212.91L164.55 213.46L165.03 212.96L165.50 213.11L165.98 213.13L166.45 213.15L166.93 213.37L167.40 213.36" fill="none" stroke="#8c8c8c" stroke-width="0.7" stroke-linejoin="round"/>
<path d="M115.20 213.07L115.67 212.97L116.15 212.78L116.62 212.59L117.10 212.34L117.57 211.90L118.05 211.27L118.52 210.59L119.00 209.55L119.47 208.49L119.95 206.95L120.42 204.72L120.89 202.59L121.37 199.38L121.84 196.55L122.32 193.23L122.79 190.34L123.27 185.79L123.74 181.98L124.22 180.91L124.69 176.68L125.17 175.87L125.64 174.58L126.11 172.30L126.59 174.98L127.06 174.80L127.54 179.58L128.01 179.95L128.49 185.12L128.96 186.21L129.44 191.53L129.91 194.58L130.39 196.82L130.86 199.32L131.33 202.70L131.81 204.90L132.28 206.03L132.76 207.82L133.23 209.24L133.71 210.07L134.18 210.91L134.66 211.62L135.13 211.88L135.61 212.27L136.08 212.55L136.55 212.75L137.03 212.94L137.50 213.12L137.98 213.21L138.45 213.24L138.93 213.44L139.40 213.30L139.88 213.47L140.35 213.07L140.83 213.46L141.30 213.09L141.77 213.15L142.25 213.46L142.72 213.51L143.20 213.20L143.67 213.10L144.15 213.41L144.62 213.15L145.10 213.00L145.57 213.26L146.05 213.53L146.52 213.27L146.99 213.43L147.47 213.26L147.94 213.38L148.42 213.15L148.89 213.51L149.37 213.19L149.84 213.07L150.32 213.33L150.79 213.02L151.27 213.50L151.74 213.28L152.21 213.15L152.69 213.29L153.16 212.96L153.64 213.02L154.11 212.93L154.59 213.00L155.06 213.25L155.54 213.51L156.01 213.53L156.49 212.89L156.96 213.08L157.43 213.19L157.91 213.24L158.38 213.52L158.86 213.29L159.33 213.48L159.81 213.25L160.28 213.36L160.76 213.11L161.23 213.50L161.71 213.24L162.18 213.47L162.65 213.14L163.13 212.92L163.60 213.14L164.08 213.22L164.55 213.27L165.03 213.13L165.50 212.96L165.98 212.90L166.45 213.23L166.93 213.20L167.40 212.99" fill="none" stroke="#2a4fb4" stroke-width="0.8" stroke-linejoin="round"/>
<path d="M115.20 213.47L115.67 213.31L116.15 212.90L116.62 213.17L117.10 213.19L117.57 213.37L118.05 213.20L118.52 213.40L119.00 213.37L119.47 213.24L119.95 213.29L120.42 213.08L120.89 213.20L121.37 213.02L121.84 213.41L122.32 213.16L122.79 212.92L123.27 213.12L123.74 212.93L124.22 213.07L124.69 213.46L125.17 213.33L125.64 212.97L126.11 213.38L126.59 213.28L127.06 213.32L127.54 212.89L128.01 212.97L128.49 212.72L128.96 212.49L129.44 212.06L129.91 211.38L130.39 210.35L130.86 209.49L131.33 208.14L131.81 205.89L132.28 203.95L132.76 200.41L133.23 197.69L133.71 193.62L134.18 191.00L134.66 188.32L135.13 184.12L135.61 181.53L136.08 180.49L136.55 180.67L137.03 178.44L137.50 179.18L137.98 180.96L138.45 183.68L138.93 184.49L139.40 187.26L139.88 189.61L140.35 192.86L140.83 194.86L141.30 196.88L141.77 199.45L142.25 202.11L142.72 204.16L143.20 205.43L143.67 206.72L144.15 208.26L144.62 209.19L145.10 210.17L145.57 210.84L146.05 211.38L146.52 211.87L146.99 212.30L147.47 212.46L147.94 212.67L148.42 212.88L148.89 213.10L149.37 213.20L149.84 213.09L150.32 213.16L150.79 213.47L151.27 213.49L151.74 212.89L152.21 213.47L152.69 213.50L153.16 213.00L153.64 212.97L154.11 212.99L154.59 213.18L155.06 212.97L155.54 213.50L156.01 213.06L156.49 213.24L156.96 213.07L157.43 213.23L157.91 213.48L158.38 212.98L158.86 213.16L159.33 213.15L159.81 212.98L160.28 213.47L160.76 212.98L161.23 213.17L161.71 212.99L162.18 213.10L162.65 213.45L163.13 213.04L163.60 213.31L164.08 213.30L164.55 213.52L165.03 213.08L165.50 213.00L165.98 213.43L166.45 213.40L166.93 213.38L167.40 213.26" fill="none" stroke="#35c23c" stroke-width="0.8" stroke-linejoin="round"/>
<path d="M115.20 212.90L115.67 213.47L116.15 213.28L116.62 213.26L117.10 212.96L117.57 213.43L118.05 213.06L118.52 213.04L119.00 213.42L119.47 212.98L119.95 212.96L120.42 213.22L120.89 212.94L121.37 213.09L121.84 213.24L122.32 213.38L122.79 213.30L123.27 213.40L123.74 213.08L124.22 212.92L124.69 213.19L125.17 213.18L125.64 212.96L126.11 213.42L126.59 213.13L127.06 212.91L127.54 213.28L128.01 213.18L128.49 213.00L128.96 212.97L129.44 212.73L129.91 212.49L130.39 212.25L130.86 211.96L131.33 211.72L131.81 211.24L132.28 210.64L132.76 209.91L133.23 209.32L133.71 208.43L134.18 207.19L134.66 206.75L135.13 205.15L135.61 204.04L136.08 202.56L136.55 199.84L137.03 198.60L137.50 196.07L137.98 195.48L138.45 192.87L138.93 190.66L139.40 190.17L139.88 186.79L140.35 186.71L140.83 184.82L141.30 182.38L141.77 183.29L142.25 180.21L142.72 180.18L143.20 179.78L143.67 181.77L144.15 180.84L144.62 181.85L145.10 184.47L145.57 185.49L146.05 184.20L146.52 185.61L146.99 187.11L147.47 189.39L147.94 189.53L148.42 192.94L148.89 193.31L149.37 194.54L149.84 196.83L150.32 197.68L150.79 199.99L151.27 200.41L151.74 202.09L152.21 203.65L152.69 204.81L153.16 205.17L153.64 206.05L154.11 206.95L154.59 207.92L155.06 208.57L155.54 209.48L156.01 210.02L156.49 210.62L156.96 210.78L157.43 211.36L157.91 211.72L158.38 211.89L158.86 212.03L159.33 212.26L159.81 212.50L160.28 212.64L160.76 212.85L161.23 212.98L161.71 213.10L162.18 213.11L162.65 213.20L163.13 213.12L163.60 213.36L164.08 213.24L164.55 212.96L165.03 213.11L165.50 213.05L165.98 213.07L166.45 213.01L166.93 212.95L167.40 213.00" fill="none" stroke="#e0181e" stroke-width="1.2" stroke-linejoin="round"/>
<path d="M115.50 215.00v1.4" stroke="#333" stroke-width="0.5"/>
<text x="114.60" y="224.70" font-size="5.6" text-anchor="start" font-weight="normal" fill="#1c1c1c" >10<tspan font-size="3.7" dy="-2.5">0</tspan></text>
<path d="M127.20 215.00v1.4" stroke="#333" stroke-width="0.5"/>
<text x="126.30" y="224.70" font-size="5.6" text-anchor="start" font-weight="normal" fill="#1c1c1c" >10<tspan font-size="3.7" dy="-2.5">1</tspan></text>
<path d="M138.90 215.00v1.4" stroke="#333" stroke-width="0.5"/>
<text x="138.00" y="224.70" font-size="5.6" text-anchor="start" font-weight="normal" fill="#1c1c1c" >10<tspan font-size="3.7" dy="-2.5">2</tspan></text>
<path d="M150.60 215.00v1.4" stroke="#333" stroke-width="0.5"/>
<text x="149.70" y="224.70" font-size="5.6" text-anchor="start" font-weight="normal" fill="#1c1c1c" >10<tspan font-size="3.7" dy="-2.5">3</tspan></text>
<path d="M162.30 215.00v1.4" stroke="#333" stroke-width="0.5"/>
<text x="161.40" y="224.70" font-size="5.6" text-anchor="start" font-weight="normal" fill="#1c1c1c" >10<tspan font-size="3.7" dy="-2.5">4</tspan></text>
<text x="140.00" y="154.90" font-size="7.0" text-anchor="middle" font-weight="normal" fill="#1c1c1c" >Akp9<tspan font-size="5.2" dy="-2.4" font-weight="bold">si</tspan></text>
<text x="131.00" y="163.90" font-size="5.4" text-anchor="middle" font-weight="normal" fill="#1c1c1c" >β1</text>
<text x="131.00" y="168.50" font-size="5.4" text-anchor="middle" font-weight="normal" fill="#1c1c1c" >(7.2)</text>
<text x="145.00" y="163.90" font-size="5.4" text-anchor="middle" font-weight="normal" fill="#1c1c1c" >αv</text>
<text x="145.00" y="168.50" font-size="5.4" text-anchor="middle" font-weight="normal" fill="#1c1c1c" >(47)</text>
<text x="159.50" y="163.90" font-size="5.4" text-anchor="middle" font-weight="normal" fill="#1c1c1c" >α5</text>
<text x="159.50" y="168.50" font-size="5.4" text-anchor="middle" font-weight="normal" fill="#1c1c1c" >(121)</text>
<text x="114.00" y="232.00" font-size="7.2" text-anchor="middle" font-weight="normal" fill="#1c1c1c" >Fluorescence intensity</text>
<text transform="translate(6.30,273.00) rotate(-90)" font-size="6.9" text-anchor="middle" fill="#1c1c1c">Normalized resistance</text>
<rect x="17.20" y="241.20" width="80.20" height="64.00" fill="#fff" stroke="#333" stroke-width="0.8"/>
<path d="M15.90 241.20H17.20" stroke="#333" stroke-width="0.6"/>
<text x="14.90" y="243.50" font-size="6.3" text-anchor="end" font-weight="normal" fill="#1c1c1c" >2.5</text>
<path d="M15.90 254.00H17.20" stroke="#333" stroke-width="0.6"/>
<text x="14.90" y="256.30" font-size="6.3" text-anchor="end" font-weight="normal" fill="#1c1c1c" >2</text>
<path d="M15.90 266.80H17.20" stroke="#333" stroke-width="0.6"/>
<text x="14.90" y="269.10" font-size="6.3" text-anchor="end" font-weight="normal" fill="#1c1c1c" >1.5</text>
<path d="M15.90 279.60H17.20" stroke="#333" stroke-width="0.6"/>
<text x="14.90" y="281.90" font-size="6.3" text-anchor="end" font-weight="normal" fill="#1c1c1c" >1</text>
<path d="M15.90 292.40H17.20" stroke="#333" stroke-width="0.6"/>
<text x="14.90" y="294.70" font-size="6.3" text-anchor="end" font-weight="normal" fill="#1c1c1c" >0.5</text>
<path d="M15.90 305.20H17.20" stroke="#333" stroke-width="0.6"/>
<text x="14.90" y="307.50" font-size="6.3" text-anchor="end" font-weight="normal" fill="#1c1c1c" >0</text>
<path d="M18.60 305.20v1.3" stroke="#333" stroke-width="0.6"/>
<text x="18.60" y="312.60" font-size="6.3" text-anchor="middle" font-weight="normal" fill="#1c1c1c" >14</text>
<path d="M35.88 305.20v1.3" stroke="#333" stroke-width="0.6"/>
<text x="35.88" y="312.60" font-size="6.3" text-anchor="middle" font-weight="normal" fill="#1c1c1c" >18</text>
<path d="M53.16 305.20v1.3" stroke="#333" stroke-width="0.6"/>
<text x="53.16" y="312.60" font-size="6.3" text-anchor="middle" font-weight="normal" fill="#1c1c1c" >22</text>
<path d="M70.44 305.20v1.3" stroke="#333" stroke-width="0.6"/>
<text x="70.44" y="312.60" font-size="6.3" text-anchor="middle" font-weight="normal" fill="#1c1c1c" >26</text>
<path d="M87.72 305.20v1.3" stroke="#333" stroke-width="0.6"/>
<text x="87.72" y="312.60" font-size="6.3" text-anchor="middle" font-weight="normal" fill="#1c1c1c" >30</text>
<text x="20.60" y="247.60" font-size="6.9" text-anchor="start" font-weight="normal" fill="#1c1c1c" >Fibronectin</text>
<text x="58.30" y="318.00" font-size="6.7" text-anchor="middle" font-weight="normal" fill="#1c1c1c" >Time (hours)</text>
<path d="M40.00 256.20V269.80" stroke="#222" stroke-width="0.7"/>
<path d="M38.50 267.60L40.00 270.80L41.50 267.60Z" fill="#222"/>
<path d="M18.60 275.86L22.92 275.98L27.24 275.51L31.56 275.79L35.88 275.53L40.20 275.92L44.52 266.74L48.84 260.51L53.16 259.26L57.48 259.29L61.80 259.13L66.12 258.85L70.44 258.65L74.76 258.63L79.08 258.53L83.40 258.74L87.72 258.40L92.04 258.49L96.36 258.67" fill="none" stroke="#000" stroke-width="0.7"/>
<path d="M18.60 274.84V276.89M22.92 274.96V277.01M27.24 274.49V276.53M31.56 274.76V276.81M35.88 274.50V276.55M40.20 274.90V276.95M44.52 265.72V267.76M48.84 259.48V261.53M53.16 258.24V260.29M57.48 258.26V260.31M61.80 258.11V260.16M66.12 257.82V259.87M70.44 257.62V259.67M74.76 257.60V259.65M79.08 257.50V259.55M83.40 257.72V259.77M87.72 257.38V259.43M92.04 257.47V259.52M96.36 257.65V259.70" stroke="#000" stroke-width="0.6" fill="none"/>
<path d="M18.60 274.06L20.40 275.86L18.60 277.66L16.80 275.86Z" fill="#000" stroke="#000" stroke-width="0.5"/>
<path d="M22.92 274.18L24.72 275.98L22.92 277.78L21.12 275.98Z" fill="#000" stroke="#000" stroke-width="0.5"/>
<path d="M27.24 273.71L29.04 275.51L27.24 277.31L25.44 275.51Z" fill="#000" stroke="#000" stroke-width="0.5"/>
<path d="M31.56 273.99L33.36 275.79L31.56 277.59L29.76 275.79Z" fill="#000" stroke="#000" stroke-width="0.5"/>
<path d="M35.88 273.73L37.68 275.53L35.88 277.33L34.08 275.53Z" fill="#000" stroke="#000" stroke-width="0.5"/>
<path d="M40.20 274.12L42.00 275.92L40.20 277.72L38.40 275.92Z" fill="#000" stroke="#000" stroke-width="0.5"/>
<path d="M44.52 264.94L46.32 266.74L44.52 268.54L42.72 266.74Z" fill="#000" stroke="#000" stroke-width="0.5"/>
<path d="M48.84 258.71L50.64 260.51L48.84 262.31L47.04 260.51Z" fill="#000" stroke="#000" stroke-width="0.5"/>
<path d="M53.16 257.46L54.96 259.26L53.16 261.06L51.36 259.26Z" fill="#000" stroke="#000" stroke-width="0.5"/>
<path d="M57.48 257.49L59.28 259.29L57.48 261.09L55.68 259.29Z" fill="#000" stroke="#000" stroke-width="0.5"/>
<path d="M61.80 257.33L63.60 259.13L61.80 260.93L60.00 259.13Z" fill="#000" stroke="#000" stroke-width="0.5"/>
<path d="M66.12 257.05L67.92 258.85L66.12 260.65L64.32 258.85Z" fill="#000" stroke="#000" stroke-width="0.5"/>
<path d="M70.44 256.85L72.24 258.65L70.44 260.45L68.64 258.65Z" fill="#000" stroke="#000" stroke-width="0.5"/>
<path d="M74.76 256.83L76.56 258.63L74.76 260.43L72.96 258.63Z" fill="#000" stroke="#000" stroke-width="0.5"/>
<path d="M79.08 256.73L80.88 258.53L79.08 260.33L77.28 258.53Z" fill="#000" stroke="#000" stroke-width="0.5"/>
<path d="M83.40 256.94L85.20 258.74L83.40 260.54L81.60 258.74Z" fill="#000" stroke="#000" stroke-width="0.5"/>
<path d="M87.72 256.60L89.52 258.40L87.72 260.20L85.92 258.40Z" fill="#000" stroke="#000" stroke-width="0.5"/>
<path d="M92.04 256.69L93.84 258.49L92.04 260.29L90.24 258.49Z" fill="#000" stroke="#000" stroke-width="0.5"/>
<path d="M96.36 256.87L98.16 258.67L96.36 260.47L94.56 258.67Z" fill="#000" stroke="#000" stroke-width="0.5"/>
<path d="M18.60 275.64L22.92 275.64L27.24 275.73L31.56 275.74L35.88 275.79L40.20 275.70L44.52 275.68L48.84 275.54L53.16 277.27L57.48 279.66L61.80 282.45L66.12 283.67L70.44 285.74L74.76 286.49L79.08 287.08L83.40 287.65L87.72 288.33L92.04 288.40L96.36 289.05" fill="none" stroke="#222" stroke-width="0.7"/>
<path d="M18.60 274.61V276.66M22.92 274.62V276.67M27.24 274.71V276.76M31.56 274.72V276.76M35.88 274.77V276.82M40.20 274.67V276.72M44.52 274.66V276.71M48.84 274.51V276.56M53.16 276.24V278.29M57.48 278.63V280.68M61.80 281.43V283.47M66.12 282.65V284.70M70.44 284.71V286.76M74.76 285.47V287.52M79.08 286.06V288.11M83.40 286.62V288.67M87.72 287.30V289.35M92.04 287.37V289.42M96.36 288.03V290.08" stroke="#222" stroke-width="0.6" fill="none"/>
<circle cx="18.60" cy="275.64" r="1.25" fill="rgba(255,255,255,0.3)" stroke="#222" stroke-width="0.8"/>
<circle cx="22.92" cy="275.64" r="1.25" fill="rgba(255,255,255,0.3)" stroke="#222" stroke-width="0.8"/>
<circle cx="27.24" cy="275.73" r="1.25" fill="rgba(255,255,255,0.3)" stroke="#222" stroke-width="0.8"/>
<circle cx="31.56" cy="275.74" r="1.25" fill="rgba(255,255,255,0.3)" stroke="#222" stroke-width="0.8"/>
<circle cx="35.88" cy="275.79" r="1.25" fill="rgba(255,255,255,0.3)" stroke="#222" stroke-width="0.8"/>
<circle cx="40.20" cy="275.70" r="1.25" fill="rgba(255,255,255,0.3)" stroke="#222" stroke-width="0.8"/>
<circle cx="44.52" cy="275.68" r="1.25" fill="rgba(255,255,255,0.3)" stroke="#222" stroke-width="0.8"/>
<circle cx="48.84" cy="275.54" r="1.25" fill="rgba(255,255,255,0.3)" stroke="#222" stroke-width="0.8"/>
<circle cx="53.16" cy="277.27" r="1.25" fill="rgba(255,255,255,0.3)" stroke="#222" stroke-width="0.8"/>
<circle cx="57.48" cy="279.66" r="1.25" fill="rgba(255,255,255,0.3)" stroke="#222" stroke-width="0.8"/>
<circle cx="61.80" cy="282.45" r="1.25" fill="rgba(255,255,255,0.3)" stroke="#222" stroke-width="0.8"/>
<circle cx="66.12" cy="283.67" r="1.25" fill="rgba(255,255,255,0.3)" stroke="#222" stroke-width="0.8"/>
<circle cx="70.44" cy="285.74" r="1.25" fill="rgba(255,255,255,0.3)" stroke="#222" stroke-width="0.8"/>
<circle cx="74.76" cy="286.49" r="1.25" fill="rgba(255,255,255,0.3)" stroke="#222" stroke-width="0.8"/>
<circle cx="79.08" cy="287.08" r="1.25" fill="rgba(255,255,255,0.3)" stroke="#222" stroke-width="0.8"/>
<circle cx="83.40" cy="287.65" r="1.25" fill="rgba(255,255,255,0.3)" stroke="#222" stroke-width="0.8"/>
<circle cx="87.72" cy="288.33" r="1.25" fill="rgba(255,255,255,0.3)" stroke="#222" stroke-width="0.8"/>
<circle cx="92.04" cy="288.40" r="1.25" fill="rgba(255,255,255,0.3)" stroke="#222" stroke-width="0.8"/>
<circle cx="96.36" cy="289.05" r="1.25" fill="rgba(255,255,255,0.3)" stroke="#222" stroke-width="0.8"/>
<path d="M18.60 276.05L22.92 275.86L27.24 275.92L31.56 275.81L35.88 275.51L40.20 275.55L44.52 275.82L48.84 275.80L53.16 275.55L57.48 275.37L61.80 275.06L66.12 275.08L70.44 274.83L74.76 275.06L79.08 275.35L83.40 275.72L87.72 275.71L92.04 276.14L96.36 275.98" fill="none" stroke="#222" stroke-width="0.7"/>
<path d="M18.60 275.03V277.08M22.92 274.83V276.88M27.24 274.90V276.95M31.56 274.78V276.83M35.88 274.49V276.54M40.20 274.52V276.57M44.52 274.80V276.84M48.84 274.78V276.82M53.16 274.53V276.58M57.48 274.35V276.40M61.80 274.04V276.09M66.12 274.06V276.11M70.44 273.81V275.86M74.76 274.04V276.09M79.08 274.33V276.38M83.40 274.70V276.75M87.72 274.69V276.74M92.04 275.12V277.16M96.36 274.95V277.00" stroke="#222" stroke-width="0.6" fill="none"/>
<circle cx="18.60" cy="276.05" r="1.25" fill="rgba(255,255,255,0.3)" stroke="#222" stroke-width="0.8"/>
<circle cx="22.92" cy="275.86" r="1.25" fill="rgba(255,255,255,0.3)" stroke="#222" stroke-width="0.8"/>
<circle cx="27.24" cy="275.92" r="1.25" fill="rgba(255,255,255,0.3)" stroke="#222" stroke-width="0.8"/>
<circle cx="31.56" cy="275.81" r="1.25" fill="rgba(255,255,255,0.3)" stroke="#222" stroke-width="0.8"/>
<circle cx="35.88" cy="275.51" r="1.25" fill="rgba(255,255,255,0.3)" stroke="#222" stroke-width="0.8"/>
<circle cx="40.20" cy="275.55" r="1.25" fill="rgba(255,255,255,0.3)" stroke="#222" stroke-width="0.8"/>
<circle cx="44.52" cy="275.82" r="1.25" fill="rgba(255,255,255,0.3)" stroke="#222" stroke-width="0.8"/>
<circle cx="48.84" cy="275.80" r="1.25" fill="rgba(255,255,255,0.3)" stroke="#222" stroke-width="0.8"/>
<circle cx="53.16" cy="275.55" r="1.25" fill="rgba(255,255,255,0.3)" stroke="#222" stroke-width="0.8"/>
<circle cx="57.48" cy="275.37" r="1.25" fill="rgba(255,255,255,0.3)" stroke="#222" stroke-width="0.8"/>
<circle cx="61.80" cy="275.06" r="1.25" fill="rgba(255,255,255,0.3)" stroke="#222" stroke-width="0.8"/>
<circle cx="66.12" cy="275.08" r="1.25" fill="rgba(255,255,255,0.3)" stroke="#222" stroke-width="0.8"/>
<circle cx="70.44" cy="274.83" r="1.25" fill="rgba(255,255,255,0.3)" stroke="#222" stroke-width="0.8"/>
<circle cx="74.76" cy="275.06" r="1.25" fill="rgba(255,255,255,0.3)" stroke="#222" stroke-width="0.8"/>
<circle cx="79.08" cy="275.35" r="1.25" fill="rgba(255,255,255,0.3)" stroke="#222" stroke-width="0.8"/>
<circle cx="83.40" cy="275.72" r="1.25" fill="rgba(255,255,255,0.3)" stroke="#222" stroke-width="0.8"/>
<circle cx="87.72" cy="275.71" r="1.25" fill="rgba(255,255,255,0.3)" stroke="#222" stroke-width="0.8"/>
<circle cx="92.04" cy="276.14" r="1.25" fill="rgba(255,255,255,0.3)" stroke="#222" stroke-width="0.8"/>
<circle cx="96.36" cy="275.98" r="1.25" fill="rgba(255,255,255,0.3)" stroke="#222" stroke-width="0.8"/>
<path d="M18.60 275.67L22.92 276.03L27.24 276.03L31.56 275.90L35.88 276.03L40.20 275.57L44.52 275.20L48.84 274.17L53.16 271.83L57.48 270.76L61.80 271.05L66.12 270.92L70.44 270.71L74.76 270.81L79.08 270.79L83.40 270.68L87.72 270.26L92.04 270.57L96.36 270.24" fill="none" stroke="#1f4a2c" stroke-width="0.7"/>
<path d="M18.60 274.64V276.69M22.92 275.01V277.05M27.24 275.01V277.06M31.56 274.87V276.92M35.88 275.01V277.05M40.20 274.55V276.60M44.52 274.17V276.22M48.84 273.15V275.20M53.16 270.81V272.85M57.48 269.73V271.78M61.80 270.02V272.07M66.12 269.89V271.94M70.44 269.69V271.73M74.76 269.78V271.83M79.08 269.76V271.81M83.40 269.66V271.71M87.72 269.23V271.28M92.04 269.55V271.60M96.36 269.21V271.26" stroke="#1f4a2c" stroke-width="0.6" fill="none"/>
<rect x="17.50" y="274.57" width="2.20" height="2.20" fill="#32704a" stroke="#1f4a2c" stroke-width="0.75"/>
<rect x="21.82" y="274.93" width="2.20" height="2.20" fill="#32704a" stroke="#1f4a2c" stroke-width="0.75"/>
<rect x="26.14" y="274.93" width="2.20" height="2.20" fill="#32704a" stroke="#1f4a2c" stroke-width="0.75"/>
<rect x="30.46" y="274.80" width="2.20" height="2.20" fill="#32704a" stroke="#1f4a2c" stroke-width="0.75"/>
<rect x="34.78" y="274.93" width="2.20" height="2.20" fill="#32704a" stroke="#1f4a2c" stroke-width="0.75"/>
<rect x="39.10" y="274.47" width="2.20" height="2.20" fill="#32704a" stroke="#1f4a2c" stroke-width="0.75"/>
<rect x="43.42" y="274.10" width="2.20" height="2.20" fill="#32704a" stroke="#1f4a2c" stroke-width="0.75"/>
<rect x="47.74" y="273.07" width="2.20" height="2.20" fill="#32704a" stroke="#1f4a2c" stroke-width="0.75"/>
<rect x="52.06" y="270.73" width="2.20" height="2.20" fill="#32704a" stroke="#1f4a2c" stroke-width="0.75"/>
<rect x="56.38" y="269.66" width="2.20" height="2.20" fill="#32704a" stroke="#1f4a2c" stroke-width="0.75"/>
<rect x="60.70" y="269.95" width="2.20" height="2.20" fill="#32704a" stroke="#1f4a2c" stroke-width="0.75"/>
<rect x="65.02" y="269.82" width="2.20" height="2.20" fill="#32704a" stroke="#1f4a2c" stroke-width="0.75"/>
<rect x="69.34" y="269.61" width="2.20" height="2.20" fill="#32704a" stroke="#1f4a2c" stroke-width="0.75"/>
<rect x="73.66" y="269.71" width="2.20" height="2.20" fill="#32704a" stroke="#1f4a2c" stroke-width="0.75"/>
<rect x="77.98" y="269.69" width="2.20" height="2.20" fill="#32704a" stroke="#1f4a2c" stroke-width="0.75"/>
<rect x="82.30" y="269.58" width="2.20" height="2.20" fill="#32704a" stroke="#1f4a2c" stroke-width="0.75"/>
<rect x="86.62" y="269.16" width="2.20" height="2.20" fill="#32704a" stroke="#1f4a2c" stroke-width="0.75"/>
<rect x="90.94" y="269.47" width="2.20" height="2.20" fill="#32704a" stroke="#1f4a2c" stroke-width="0.75"/>
<rect x="95.26" y="269.14" width="2.20" height="2.20" fill="#32704a" stroke="#1f4a2c" stroke-width="0.75"/>
<rect x="110.80" y="241.20" width="80.70" height="64.00" fill="#fff" stroke="#333" stroke-width="0.8"/>
<path d="M109.50 241.20H110.80" stroke="#333" stroke-width="0.6"/>
<text x="108.50" y="243.50" font-size="6.3" text-anchor="end" font-weight="normal" fill="#1c1c1c" >2.5</text>
<path d="M109.50 254.00H110.80" stroke="#333" stroke-width="0.6"/>
<text x="108.50" y="256.30" font-size="6.3" text-anchor="end" font-weight="normal" fill="#1c1c1c" >2</text>
<path d="M109.50 266.80H110.80" stroke="#333" stroke-width="0.6"/>
<text x="108.50" y="269.10" font-size="6.3" text-anchor="end" font-weight="normal" fill="#1c1c1c" >1.5</text>
<path d="M109.50 279.60H110.80" stroke="#333" stroke-width="0.6"/>
<text x="108.50" y="281.90" font-size="6.3" text-anchor="end" font-weight="normal" fill="#1c1c1c" >1</text>
<path d="M109.50 292.40H110.80" stroke="#333" stroke-width="0.6"/>
<text x="108.50" y="294.70" font-size="6.3" text-anchor="end" font-weight="normal" fill="#1c1c1c" >0.5</text>
<path d="M109.50 305.20H110.80" stroke="#333" stroke-width="0.6"/>
<text x="108.50" y="307.50" font-size="6.3" text-anchor="end" font-weight="normal" fill="#1c1c1c" >0</text>
<path d="M112.80 305.20v1.3" stroke="#333" stroke-width="0.6"/>
<text x="112.80" y="312.60" font-size="6.3" text-anchor="middle" font-weight="normal" fill="#1c1c1c" >14</text>
<path d="M130.00 305.20v1.3" stroke="#333" stroke-width="0.6"/>
<text x="130.00" y="312.60" font-size="6.3" text-anchor="middle" font-weight="normal" fill="#1c1c1c" >18</text>
<path d="M147.20 305.20v1.3" stroke="#333" stroke-width="0.6"/>
<text x="147.20" y="312.60" font-size="6.3" text-anchor="middle" font-weight="normal" fill="#1c1c1c" >22</text>
<path d="M164.40 305.20v1.3" stroke="#333" stroke-width="0.6"/>
<text x="164.40" y="312.60" font-size="6.3" text-anchor="middle" font-weight="normal" fill="#1c1c1c" >26</text>
<path d="M181.60 305.20v1.3" stroke="#333" stroke-width="0.6"/>
<text x="181.60" y="312.60" font-size="6.3" text-anchor="middle" font-weight="normal" fill="#1c1c1c" >30</text>
<text x="114.20" y="247.60" font-size="6.9" text-anchor="start" font-weight="normal" fill="#1c1c1c" >Collagen</text>
<text x="152.15" y="318.00" font-size="6.7" text-anchor="middle" font-weight="normal" fill="#1c1c1c" >Time (hours)</text>
<path d="M138.80 258.50V274.40" stroke="#222" stroke-width="0.7"/>
<path d="M137.30 272.20L138.80 275.40L140.30 272.20Z" fill="#222"/>
<path d="M112.80 279.79L117.10 279.84L121.40 279.69L125.70 279.57L130.00 279.62L134.30 279.47L138.60 279.90L142.90 272.15L147.20 267.28L151.50 264.18L155.80 264.28L160.10 264.27L164.40 264.15L168.70 264.36L173.00 264.42L177.30 263.96L181.60 264.35L185.90 263.95L190.20 264.38" fill="none" stroke="#000" stroke-width="0.7"/>
<path d="M112.80 278.76V280.81M117.10 278.82V280.87M121.40 278.67V280.72M125.70 278.54V280.59M130.00 278.60V280.64M134.30 278.44V280.49M138.60 278.88V280.92M142.90 271.13V273.17M147.20 266.26V268.31M151.50 263.16V265.21M155.80 263.26V265.31M160.10 263.24V265.29M164.40 263.12V265.17M168.70 263.33V265.38M173.00 263.40V265.44M177.30 262.94V264.98M181.60 263.32V265.37M185.90 262.93V264.97M190.20 263.36V265.40" stroke="#000" stroke-width="0.6" fill="none"/>
<path d="M112.80 277.99L114.60 279.79L112.80 281.59L111.00 279.79Z" fill="#000" stroke="#000" stroke-width="0.5"/>
<path d="M117.10 278.04L118.90 279.84L117.10 281.64L115.30 279.84Z" fill="#000" stroke="#000" stroke-width="0.5"/>
<path d="M121.40 277.89L123.20 279.69L121.40 281.49L119.60 279.69Z" fill="#000" stroke="#000" stroke-width="0.5"/>
<path d="M125.70 277.77L127.50 279.57L125.70 281.37L123.90 279.57Z" fill="#000" stroke="#000" stroke-width="0.5"/>
<path d="M130.00 277.82L131.80 279.62L130.00 281.42L128.20 279.62Z" fill="#000" stroke="#000" stroke-width="0.5"/>
<path d="M134.30 277.67L136.10 279.47L134.30 281.27L132.50 279.47Z" fill="#000" stroke="#000" stroke-width="0.5"/>
<path d="M138.60 278.10L140.40 279.90L138.60 281.70L136.80 279.90Z" fill="#000" stroke="#000" stroke-width="0.5"/>
<path d="M142.90 270.35L144.70 272.15L142.90 273.95L141.10 272.15Z" fill="#000" stroke="#000" stroke-width="0.5"/>
<path d="M147.20 265.48L149.00 267.28L147.20 269.08L145.40 267.28Z" fill="#000" stroke="#000" stroke-width="0.5"/>
<path d="M151.50 262.38L153.30 264.18L151.50 265.98L149.70 264.18Z" fill="#000" stroke="#000" stroke-width="0.5"/>
<path d="M155.80 262.48L157.60 264.28L155.80 266.08L154.00 264.28Z" fill="#000" stroke="#000" stroke-width="0.5"/>
<path d="M160.10 262.47L161.90 264.27L160.10 266.07L158.30 264.27Z" fill="#000" stroke="#000" stroke-width="0.5"/>
<path d="M164.40 262.35L166.20 264.15L164.40 265.95L162.60 264.15Z" fill="#000" stroke="#000" stroke-width="0.5"/>
<path d="M168.70 262.56L170.50 264.36L168.70 266.16L166.90 264.36Z" fill="#000" stroke="#000" stroke-width="0.5"/>
<path d="M173.00 262.62L174.80 264.42L173.00 266.22L171.20 264.42Z" fill="#000" stroke="#000" stroke-width="0.5"/>
<path d="M177.30 262.16L179.10 263.96L177.30 265.76L175.50 263.96Z" fill="#000" stroke="#000" stroke-width="0.5"/>
<path d="M181.60 262.55L183.40 264.35L181.60 266.15L179.80 264.35Z" fill="#000" stroke="#000" stroke-width="0.5"/>
<path d="M185.90 262.15L187.70 263.95L185.90 265.75L184.10 263.95Z" fill="#000" stroke="#000" stroke-width="0.5"/>
<path d="M190.20 262.58L192.00 264.38L190.20 266.18L188.40 264.38Z" fill="#000" stroke="#000" stroke-width="0.5"/>
<path d="M112.80 279.45L117.10 279.53L121.40 279.59L125.70 279.55L130.00 279.41L134.30 279.79L138.60 279.56L142.90 279.62L147.20 279.71L151.50 281.86L155.80 283.83L160.10 285.04L164.40 287.01L168.70 286.82L173.00 287.30L177.30 288.05L181.60 288.77L185.90 288.61L190.20 288.58" fill="none" stroke="#222" stroke-width="0.7"/>
<path d="M112.80 278.42V280.47M117.10 278.51V280.56M121.40 278.57V280.62M125.70 278.52V280.57M130.00 278.39V280.44M134.30 278.77V280.82M138.60 278.54V280.59M142.90 278.59V280.64M147.20 278.68V280.73M151.50 280.84V282.89M155.80 282.81V284.85M160.10 284.02V286.06M164.40 285.99V288.04M168.70 285.79V287.84M173.00 286.27V288.32M177.30 287.03V289.08M181.60 287.74V289.79M185.90 287.59V289.64M190.20 287.55V289.60" stroke="#222" stroke-width="0.6" fill="none"/>
<circle cx="112.80" cy="279.45" r="1.25" fill="rgba(255,255,255,0.3)" stroke="#222" stroke-width="0.8"/>
<circle cx="117.10" cy="279.53" r="1.25" fill="rgba(255,255,255,0.3)" stroke="#222" stroke-width="0.8"/>
<circle cx="121.40" cy="279.59" r="1.25" fill="rgba(255,255,255,0.3)" stroke="#222" stroke-width="0.8"/>
<circle cx="125.70" cy="279.55" r="1.25" fill="rgba(255,255,255,0.3)" stroke="#222" stroke-width="0.8"/>
<circle cx="130.00" cy="279.41" r="1.25" fill="rgba(255,255,255,0.3)" stroke="#222" stroke-width="0.8"/>
<circle cx="134.30" cy="279.79" r="1.25" fill="rgba(255,255,255,0.3)" stroke="#222" stroke-width="0.8"/>
<circle cx="138.60" cy="279.56" r="1.25" fill="rgba(255,255,255,0.3)" stroke="#222" stroke-width="0.8"/>
<circle cx="142.90" cy="279.62" r="1.25" fill="rgba(255,255,255,0.3)" stroke="#222" stroke-width="0.8"/>
<circle cx="147.20" cy="279.71" r="1.25" fill="rgba(255,255,255,0.3)" stroke="#222" stroke-width="0.8"/>
<circle cx="151.50" cy="281.86" r="1.25" fill="rgba(255,255,255,0.3)" stroke="#222" stroke-width="0.8"/>
<circle cx="155.80" cy="283.83" r="1.25" fill="rgba(255,255,255,0.3)" stroke="#222" stroke-width="0.8"/>
<circle cx="160.10" cy="285.04" r="1.25" fill="rgba(255,255,255,0.3)" stroke="#222" stroke-width="0.8"/>
<circle cx="164.40" cy="287.01" r="1.25" fill="rgba(255,255,255,0.3)" stroke="#222" stroke-width="0.8"/>
<circle cx="168.70" cy="286.82" r="1.25" fill="rgba(255,255,255,0.3)" stroke="#222" stroke-width="0.8"/>
<circle cx="173.00" cy="287.30" r="1.25" fill="rgba(255,255,255,0.3)" stroke="#222" stroke-width="0.8"/>
<circle cx="177.30" cy="288.05" r="1.25" fill="rgba(255,255,255,0.3)" stroke="#222" stroke-width="0.8"/>
<circle cx="181.60" cy="288.77" r="1.25" fill="rgba(255,255,255,0.3)" stroke="#222" stroke-width="0.8"/>
<circle cx="185.90" cy="288.61" r="1.25" fill="rgba(255,255,255,0.3)" stroke="#222" stroke-width="0.8"/>
<circle cx="190.20" cy="288.58" r="1.25" fill="rgba(255,255,255,0.3)" stroke="#222" stroke-width="0.8"/>
<path d="M112.80 279.31L117.10 279.45L121.40 279.24L125.70 279.52L130.00 279.47L134.30 279.40L138.60 279.23L142.90 279.20L147.20 279.30L151.50 278.53L155.80 278.48L160.10 278.50L164.40 278.00L168.70 277.96L173.00 278.43L177.30 278.39L181.60 278.09L185.90 277.90L190.20 277.84" fill="none" stroke="#222" stroke-width="0.7"/>
<path d="M112.80 278.28V280.33M117.10 278.43V280.47M121.40 278.21V280.26M125.70 278.50V280.54M130.00 278.45V280.50M134.30 278.38V280.42M138.60 278.20V280.25M142.90 278.17V280.22M147.20 278.28V280.33M151.50 277.51V279.55M155.80 277.45V279.50M160.10 277.47V279.52M164.40 276.97V279.02M168.70 276.93V278.98M173.00 277.40V279.45M177.30 277.37V279.42M181.60 277.06V279.11M185.90 276.87V278.92M190.20 276.81V278.86" stroke="#222" stroke-width="0.6" fill="none"/>
<circle cx="112.80" cy="279.31" r="1.25" fill="rgba(255,255,255,0.3)" stroke="#222" stroke-width="0.8"/>
<circle cx="117.10" cy="279.45" r="1.25" fill="rgba(255,255,255,0.3)" stroke="#222" stroke-width="0.8"/>
<circle cx="121.40" cy="279.24" r="1.25" fill="rgba(255,255,255,0.3)" stroke="#222" stroke-width="0.8"/>
<circle cx="125.70" cy="279.52" r="1.25" fill="rgba(255,255,255,0.3)" stroke="#222" stroke-width="0.8"/>
<circle cx="130.00" cy="279.47" r="1.25" fill="rgba(255,255,255,0.3)" stroke="#222" stroke-width="0.8"/>
<circle cx="134.30" cy="279.40" r="1.25" fill="rgba(255,255,255,0.3)" stroke="#222" stroke-width="0.8"/>
<circle cx="138.60" cy="279.23" r="1.25" fill="rgba(255,255,255,0.3)" stroke="#222" stroke-width="0.8"/>
<circle cx="142.90" cy="279.20" r="1.25" fill="rgba(255,255,255,0.3)" stroke="#222" stroke-width="0.8"/>
<circle cx="147.20" cy="279.30" r="1.25" fill="rgba(255,255,255,0.3)" stroke="#222" stroke-width="0.8"/>
<circle cx="151.50" cy="278.53" r="1.25" fill="rgba(255,255,255,0.3)" stroke="#222" stroke-width="0.8"/>
<circle cx="155.80" cy="278.48" r="1.25" fill="rgba(255,255,255,0.3)" stroke="#222" stroke-width="0.8"/>
<circle cx="160.10" cy="278.50" r="1.25" fill="rgba(255,255,255,0.3)" stroke="#222" stroke-width="0.8"/>
<circle cx="164.40" cy="278.00" r="1.25" fill="rgba(255,255,255,0.3)" stroke="#222" stroke-width="0.8"/>
<circle cx="168.70" cy="277.96" r="1.25" fill="rgba(255,255,255,0.3)" stroke="#222" stroke-width="0.8"/>
<circle cx="173.00" cy="278.43" r="1.25" fill="rgba(255,255,255,0.3)" stroke="#222" stroke-width="0.8"/>
<circle cx="177.30" cy="278.39" r="1.25" fill="rgba(255,255,255,0.3)" stroke="#222" stroke-width="0.8"/>
<circle cx="181.60" cy="278.09" r="1.25" fill="rgba(255,255,255,0.3)" stroke="#222" stroke-width="0.8"/>
<circle cx="185.90" cy="277.90" r="1.25" fill="rgba(255,255,255,0.3)" stroke="#222" stroke-width="0.8"/>
<circle cx="190.20" cy="277.84" r="1.25" fill="rgba(255,255,255,0.3)" stroke="#222" stroke-width="0.8"/>
<path d="M112.80 279.80L117.10 279.39L121.40 279.37L125.70 279.67L130.00 279.63L134.30 279.66L138.60 279.67L142.90 278.42L147.20 276.94L151.50 275.21L155.80 275.74L160.10 275.52L164.40 275.16L168.70 275.17L173.00 275.60L177.30 275.25L181.60 275.10L185.90 275.27L190.20 275.00" fill="none" stroke="#1f4a2c" stroke-width="0.7"/>
<path d="M112.80 278.78V280.83M117.10 278.37V280.41M121.40 278.35V280.40M125.70 278.65V280.70M130.00 278.61V280.66M134.30 278.63V280.68M138.60 278.64V280.69M142.90 277.40V279.45M147.20 275.92V277.97M151.50 274.19V276.23M155.80 274.72V276.77M160.10 274.49V276.54M164.40 274.14V276.19M168.70 274.14V276.19M173.00 274.57V276.62M177.30 274.22V276.27M181.60 274.08V276.12M185.90 274.24V276.29M190.20 273.97V276.02" stroke="#1f4a2c" stroke-width="0.6" fill="none"/>
<rect x="111.70" y="278.70" width="2.20" height="2.20" fill="#32704a" stroke="#1f4a2c" stroke-width="0.75"/>
<rect x="116.00" y="278.29" width="2.20" height="2.20" fill="#32704a" stroke="#1f4a2c" stroke-width="0.75"/>
<rect x="120.30" y="278.27" width="2.20" height="2.20" fill="#32704a" stroke="#1f4a2c" stroke-width="0.75"/>
<rect x="124.60" y="278.57" width="2.20" height="2.20" fill="#32704a" stroke="#1f4a2c" stroke-width="0.75"/>
<rect x="128.90" y="278.53" width="2.20" height="2.20" fill="#32704a" stroke="#1f4a2c" stroke-width="0.75"/>
<rect x="133.20" y="278.56" width="2.20" height="2.20" fill="#32704a" stroke="#1f4a2c" stroke-width="0.75"/>
<rect x="137.50" y="278.57" width="2.20" height="2.20" fill="#32704a" stroke="#1f4a2c" stroke-width="0.75"/>
<rect x="141.80" y="277.32" width="2.20" height="2.20" fill="#32704a" stroke="#1f4a2c" stroke-width="0.75"/>
<rect x="146.10" y="275.84" width="2.20" height="2.20" fill="#32704a" stroke="#1f4a2c" stroke-width="0.75"/>
<rect x="150.40" y="274.11" width="2.20" height="2.20" fill="#32704a" stroke="#1f4a2c" stroke-width="0.75"/>
<rect x="154.70" y="274.64" width="2.20" height="2.20" fill="#32704a" stroke="#1f4a2c" stroke-width="0.75"/>
<rect x="159.00" y="274.42" width="2.20" height="2.20" fill="#32704a" stroke="#1f4a2c" stroke-width="0.75"/>
<rect x="163.30" y="274.06" width="2.20" height="2.20" fill="#32704a" stroke="#1f4a2c" stroke-width="0.75"/>
<rect x="167.60" y="274.07" width="2.20" height="2.20" fill="#32704a" stroke="#1f4a2c" stroke-width="0.75"/>
<rect x="171.90" y="274.50" width="2.20" height="2.20" fill="#32704a" stroke="#1f4a2c" stroke-width="0.75"/>
<rect x="176.20" y="274.15" width="2.20" height="2.20" fill="#32704a" stroke="#1f4a2c" stroke-width="0.75"/>
<rect x="180.50" y="274.00" width="2.20" height="2.20" fill="#32704a" stroke="#1f4a2c" stroke-width="0.75"/>
<rect x="184.80" y="274.17" width="2.20" height="2.20" fill="#32704a" stroke="#1f4a2c" stroke-width="0.75"/>
<rect x="189.10" y="273.90" width="2.20" height="2.20" fill="#32704a" stroke="#1f4a2c" stroke-width="0.75"/>
<path d="M196.5 257.0H207.3" stroke="#222" stroke-width="0.7"/>
<circle cx="201.90" cy="257.00" r="1.25" fill="#fff" stroke="#222" stroke-width="0.8"/>
<text x="210.40" y="259.50" font-size="6.9" text-anchor="start" font-weight="normal" fill="#1c1c1c" >RGE</text>
<path d="M196.5 267.8H207.3" stroke="#000" stroke-width="0.7"/>
<path d="M201.90 266.00L203.70 267.80L201.90 269.60L200.10 267.80Z" fill="#000" stroke="#000" stroke-width="0.5"/>
<text x="210.40" y="270.30" font-size="6.9" text-anchor="start" font-weight="normal" fill="#1c1c1c" >O-Me</text>
<path d="M196.5 278.3H207.3" stroke="#222" stroke-width="0.7"/>
<circle cx="201.90" cy="278.30" r="1.25" fill="#fff" stroke="#222" stroke-width="0.8"/>
<text x="210.40" y="280.80" font-size="6.9" text-anchor="start" font-weight="normal" fill="#1c1c1c" >RGD</text>
<path d="M196.5 289.2H207.3" stroke="#1f4a2c" stroke-width="0.7"/>
<rect x="200.80" y="288.10" width="2.20" height="2.20" fill="#32704a" stroke="#1f4a2c" stroke-width="0.75"/>
<text x="210.40" y="291.70" font-size="6.9" text-anchor="start" font-weight="normal" fill="#1c1c1c" >RGD + O-Me</text>
<text transform="translate(267.80,47.50) rotate(-90)" font-size="6.9" text-anchor="middle" fill="#1c1c1c">Normalized resistance</text>
<rect x="278.50" y="15.40" width="81.20" height="63.10" fill="#fff" stroke="#333" stroke-width="0.8"/>
<path d="M277.20 15.40H278.50" stroke="#333" stroke-width="0.6"/>
<text x="276.20" y="17.70" font-size="6.3" text-anchor="end" font-weight="normal" fill="#1c1c1c" >2.5</text>
<path d="M277.20 28.02H278.50" stroke="#333" stroke-width="0.6"/>
<text x="276.20" y="30.32" font-size="6.3" text-anchor="end" font-weight="normal" fill="#1c1c1c" >2</text>
<path d="M277.20 40.64H278.50" stroke="#333" stroke-width="0.6"/>
<text x="276.20" y="42.94" font-size="6.3" text-anchor="end" font-weight="normal" fill="#1c1c1c" >1.5</text>
<path d="M277.20 53.26H278.50" stroke="#333" stroke-width="0.6"/>
<text x="276.20" y="55.56" font-size="6.3" text-anchor="end" font-weight="normal" fill="#1c1c1c" >1</text>
<path d="M277.20 65.88H278.50" stroke="#333" stroke-width="0.6"/>
<text x="276.20" y="68.18" font-size="6.3" text-anchor="end" font-weight="normal" fill="#1c1c1c" >0.5</text>
<path d="M277.20 78.50H278.50" stroke="#333" stroke-width="0.6"/>
<text x="276.20" y="80.80" font-size="6.3" text-anchor="end" font-weight="normal" fill="#1c1c1c" >0</text>
<path d="M282.00 78.50v1.3" stroke="#333" stroke-width="0.6"/>
<text x="282.00" y="84.60" font-size="6.3" text-anchor="middle" font-weight="normal" fill="#1c1c1c" >24</text>
<path d="M298.68 78.50v1.3" stroke="#333" stroke-width="0.6"/>
<text x="298.68" y="84.60" font-size="6.3" text-anchor="middle" font-weight="normal" fill="#1c1c1c" >28</text>
<path d="M315.36 78.50v1.3" stroke="#333" stroke-width="0.6"/>
<text x="315.36" y="84.60" font-size="6.3" text-anchor="middle" font-weight="normal" fill="#1c1c1c" >32</text>
<path d="M332.04 78.50v1.3" stroke="#333" stroke-width="0.6"/>
<text x="332.04" y="84.60" font-size="6.3" text-anchor="middle" font-weight="normal" fill="#1c1c1c" >36</text>
<path d="M348.72 78.50v1.3" stroke="#333" stroke-width="0.6"/>
<text x="348.72" y="84.60" font-size="6.3" text-anchor="middle" font-weight="normal" fill="#1c1c1c" >40</text>
<text x="281.90" y="21.80" font-size="6.9" text-anchor="start" font-weight="normal" fill="#1c1c1c" >Fibronectin</text>
<text x="320.10" y="92.60" font-size="6.7" text-anchor="middle" font-weight="normal" fill="#1c1c1c" >Time (hours)</text>
<path d="M302.30 29.60V40.80" stroke="#222" stroke-width="0.7"/>
<path d="M300.80 38.60L302.30 41.80L303.80 38.60Z" fill="#222"/>
<path d="M282.00 50.39L286.17 50.16L290.34 49.98L294.51 50.08L298.68 49.64L302.85 49.80L307.02 34.17L311.19 32.95L315.36 32.03L319.53 31.72L323.70 31.65L327.87 31.96L332.04 31.53L336.21 31.88L340.38 32.45L344.55 32.60L348.72 32.30L352.89 32.66L357.06 32.99L359.56 32.73" fill="none" stroke="#000" stroke-width="0.7"/>
<path d="M282.00 49.38V51.40M286.17 49.15V51.17M290.34 48.97V50.99M294.51 49.07V51.09M298.68 48.63V50.65M302.85 48.79V50.81M307.02 33.16V35.18M311.19 31.94V33.96M315.36 31.02V33.04M319.53 30.71V32.73M323.70 30.64V32.66M327.87 30.95V32.97M332.04 30.52V32.54M336.21 30.87V32.89M340.38 31.44V33.46M344.55 31.59V33.61M348.72 31.29V33.31M352.89 31.65V33.67M357.06 31.98V34.00M359.56 31.72V33.74" stroke="#000" stroke-width="0.6" fill="none"/>
<path d="M282.00 48.59L283.80 50.39L282.00 52.19L280.20 50.39Z" fill="#000" stroke="#000" stroke-width="0.5"/>
<path d="M286.17 48.36L287.97 50.16L286.17 51.96L284.37 50.16Z" fill="#000" stroke="#000" stroke-width="0.5"/>
<path d="M290.34 48.18L292.14 49.98L290.34 51.78L288.54 49.98Z" fill="#000" stroke="#000" stroke-width="0.5"/>
<path d="M294.51 48.28L296.31 50.08L294.51 51.88L292.71 50.08Z" fill="#000" stroke="#000" stroke-width="0.5"/>
<path d="M298.68 47.84L300.48 49.64L298.68 51.44L296.88 49.64Z" fill="#000" stroke="#000" stroke-width="0.5"/>
<path d="M302.85 48.00L304.65 49.80L302.85 51.60L301.05 49.80Z" fill="#000" stroke="#000" stroke-width="0.5"/>
<path d="M307.02 32.37L308.82 34.17L307.02 35.97L305.22 34.17Z" fill="#000" stroke="#000" stroke-width="0.5"/>
<path d="M311.19 31.15L312.99 32.95L311.19 34.75L309.39 32.95Z" fill="#000" stroke="#000" stroke-width="0.5"/>
<path d="M315.36 30.23L317.16 32.03L315.36 33.83L313.56 32.03Z" fill="#000" stroke="#000" stroke-width="0.5"/>
<path d="M319.53 29.92L321.33 31.72L319.53 33.52L317.73 31.72Z" fill="#000" stroke="#000" stroke-width="0.5"/>
<path d="M323.70 29.85L325.50 31.65L323.70 33.45L321.90 31.65Z" fill="#000" stroke="#000" stroke-width="0.5"/>
<path d="M327.87 30.16L329.67 31.96L327.87 33.76L326.07 31.96Z" fill="#000" stroke="#000" stroke-width="0.5"/>
<path d="M332.04 29.73L333.84 31.53L332.04 33.33L330.24 31.53Z" fill="#000" stroke="#000" stroke-width="0.5"/>
<path d="M336.21 30.08L338.01 31.88L336.21 33.68L334.41 31.88Z" fill="#000" stroke="#000" stroke-width="0.5"/>
<path d="M340.38 30.65L342.18 32.45L340.38 34.25L338.58 32.45Z" fill="#000" stroke="#000" stroke-width="0.5"/>
<path d="M344.55 30.80L346.35 32.60L344.55 34.40L342.75 32.60Z" fill="#000" stroke="#000" stroke-width="0.5"/>
<path d="M348.72 30.50L350.52 32.30L348.72 34.10L346.92 32.30Z" fill="#000" stroke="#000" stroke-width="0.5"/>
<path d="M352.89 30.86L354.69 32.66L352.89 34.46L351.09 32.66Z" fill="#000" stroke="#000" stroke-width="0.5"/>
<path d="M357.06 31.19L358.86 32.99L357.06 34.79L355.26 32.99Z" fill="#000" stroke="#000" stroke-width="0.5"/>
<path d="M359.56 30.93L361.36 32.73L359.56 34.53L357.76 32.73Z" fill="#000" stroke="#000" stroke-width="0.5"/>
<path d="M282.00 50.24L286.17 50.17L290.34 50.25L294.51 50.04L298.68 50.28L302.85 50.52L307.02 48.33L311.19 48.20L315.36 48.20L319.53 48.13L323.70 48.24L327.87 48.50L332.04 48.23L336.21 48.48L340.38 47.91L344.55 48.38L348.72 48.09L352.89 47.94L357.06 48.17L359.56 48.34" fill="none" stroke="#58583a" stroke-width="0.7"/>
<path d="M282.00 49.23V51.25M286.17 49.16V51.18M290.34 49.24V51.25M294.51 49.03V51.05M298.68 49.27V51.29M302.85 49.51V51.53M307.02 47.32V49.34M311.19 47.19V49.20M315.36 47.19V49.21M319.53 47.12V49.14M323.70 47.23V49.25M327.87 47.49V49.51M332.04 47.22V49.24M336.21 47.47V49.49M340.38 46.90V48.92M344.55 47.37V49.39M348.72 47.08V49.10M352.89 46.93V48.95M357.06 47.16V49.18M359.56 47.33V49.35" stroke="#58583a" stroke-width="0.6" fill="none"/>
<path d="M282.00 48.84L283.40 51.44H280.60Z" fill="#58583a" stroke="#58583a" stroke-width="0.7"/>
<path d="M286.17 48.77L287.57 51.37H284.77Z" fill="#58583a" stroke="#58583a" stroke-width="0.7"/>
<path d="M290.34 48.85L291.74 51.45H288.94Z" fill="#58583a" stroke="#58583a" stroke-width="0.7"/>
<path d="M294.51 48.64L295.91 51.24H293.11Z" fill="#58583a" stroke="#58583a" stroke-width="0.7"/>
<path d="M298.68 48.88L300.08 51.48H297.28Z" fill="#58583a" stroke="#58583a" stroke-width="0.7"/>
<path d="M302.85 49.12L304.25 51.72H301.45Z" fill="#58583a" stroke="#58583a" stroke-width="0.7"/>
<path d="M307.02 46.93L308.42 49.53H305.62Z" fill="#58583a" stroke="#58583a" stroke-width="0.7"/>
<path d="M311.19 46.80L312.59 49.40H309.79Z" fill="#58583a" stroke="#58583a" stroke-width="0.7"/>
<path d="M315.36 46.80L316.76 49.40H313.96Z" fill="#58583a" stroke="#58583a" stroke-width="0.7"/>
<path d="M319.53 46.73L320.93 49.33H318.13Z" fill="#58583a" stroke="#58583a" stroke-width="0.7"/>
<path d="M323.70 46.84L325.10 49.44H322.30Z" fill="#58583a" stroke="#58583a" stroke-width="0.7"/>
<path d="M327.87 47.10L329.27 49.70H326.47Z" fill="#58583a" stroke="#58583a" stroke-width="0.7"/>
<path d="M332.04 46.83L333.44 49.43H330.64Z" fill="#58583a" stroke="#58583a" stroke-width="0.7"/>
<path d="M336.21 47.08L337.61 49.68H334.81Z" fill="#58583a" stroke="#58583a" stroke-width="0.7"/>
<path d="M340.38 46.51L341.78 49.11H338.98Z" fill="#58583a" stroke="#58583a" stroke-width="0.7"/>
<path d="M344.55 46.98L345.95 49.58H343.15Z" fill="#58583a" stroke="#58583a" stroke-width="0.7"/>
<path d="M348.72 46.69L350.12 49.29H347.32Z" fill="#58583a" stroke="#58583a" stroke-width="0.7"/>
<path d="M352.89 46.54L354.29 49.14H351.49Z" fill="#58583a" stroke="#58583a" stroke-width="0.7"/>
<path d="M357.06 46.77L358.46 49.37H355.66Z" fill="#58583a" stroke="#58583a" stroke-width="0.7"/>
<path d="M359.56 46.94L360.96 49.54H358.16Z" fill="#58583a" stroke="#58583a" stroke-width="0.7"/>
<path d="M282.00 50.92L286.17 50.54L290.34 50.42L294.51 50.35L298.68 50.04L302.85 50.02L307.02 43.87L311.19 40.44L315.36 38.93L319.53 39.36L323.70 39.36L327.87 39.23L332.04 39.00L336.21 38.84L340.38 38.88L344.55 39.03L348.72 38.91L352.89 38.67L357.06 40.08L359.56 40.82" fill="none" stroke="#6a2a18" stroke-width="0.7"/>
<path d="M282.00 49.91V51.93M286.17 49.53V51.55M290.34 49.41V51.43M294.51 49.34V51.36M298.68 49.03V51.05M302.85 49.01V51.03M307.02 42.86V44.88M311.19 39.43V41.45M315.36 37.92V39.94M319.53 38.35V40.37M323.70 38.35V40.37M327.87 38.22V40.24M332.04 37.99V40.01M336.21 37.83V39.85M340.38 37.88V39.89M344.55 38.02V40.04M348.72 37.90V39.92M352.89 37.66V39.68M357.06 39.07V41.09M359.56 39.81V41.83" stroke="#6a2a18" stroke-width="0.6" fill="none"/>
<rect x="280.90" y="49.82" width="2.20" height="2.20" fill="#c58058" stroke="#6a2a18" stroke-width="0.75"/>
<rect x="285.07" y="49.44" width="2.20" height="2.20" fill="#c58058" stroke="#6a2a18" stroke-width="0.75"/>
<rect x="289.24" y="49.32" width="2.20" height="2.20" fill="#c58058" stroke="#6a2a18" stroke-width="0.75"/>
<rect x="293.41" y="49.25" width="2.20" height="2.20" fill="#c58058" stroke="#6a2a18" stroke-width="0.75"/>
<rect x="297.58" y="48.94" width="2.20" height="2.20" fill="#c58058" stroke="#6a2a18" stroke-width="0.75"/>
<rect x="301.75" y="48.92" width="2.20" height="2.20" fill="#c58058" stroke="#6a2a18" stroke-width="0.75"/>
<rect x="305.92" y="42.77" width="2.20" height="2.20" fill="#c58058" stroke="#6a2a18" stroke-width="0.75"/>
<rect x="310.09" y="39.34" width="2.20" height="2.20" fill="#c58058" stroke="#6a2a18" stroke-width="0.75"/>
<rect x="314.26" y="37.83" width="2.20" height="2.20" fill="#c58058" stroke="#6a2a18" stroke-width="0.75"/>
<rect x="318.43" y="38.26" width="2.20" height="2.20" fill="#c58058" stroke="#6a2a18" stroke-width="0.75"/>
<rect x="322.60" y="38.26" width="2.20" height="2.20" fill="#c58058" stroke="#6a2a18" stroke-width="0.75"/>
<rect x="326.77" y="38.13" width="2.20" height="2.20" fill="#c58058" stroke="#6a2a18" stroke-width="0.75"/>
<rect x="330.94" y="37.90" width="2.20" height="2.20" fill="#c58058" stroke="#6a2a18" stroke-width="0.75"/>
<rect x="335.11" y="37.74" width="2.20" height="2.20" fill="#c58058" stroke="#6a2a18" stroke-width="0.75"/>
<rect x="339.28" y="37.78" width="2.20" height="2.20" fill="#c58058" stroke="#6a2a18" stroke-width="0.75"/>
<rect x="343.45" y="37.93" width="2.20" height="2.20" fill="#c58058" stroke="#6a2a18" stroke-width="0.75"/>
<rect x="347.62" y="37.81" width="2.20" height="2.20" fill="#c58058" stroke="#6a2a18" stroke-width="0.75"/>
<rect x="351.79" y="37.57" width="2.20" height="2.20" fill="#c58058" stroke="#6a2a18" stroke-width="0.75"/>
<rect x="355.96" y="38.98" width="2.20" height="2.20" fill="#c58058" stroke="#6a2a18" stroke-width="0.75"/>
<rect x="358.46" y="39.72" width="2.20" height="2.20" fill="#c58058" stroke="#6a2a18" stroke-width="0.75"/>
<path d="M282.00 52.58L286.17 53.03L290.34 52.87L294.51 52.97L298.68 52.76L302.85 52.37L307.02 52.52L311.19 52.69L315.36 52.61L319.53 52.66L323.70 52.31L327.87 52.37L332.04 52.43L336.21 54.92L340.38 56.87L344.55 56.64L348.72 56.54L352.89 57.05L357.06 56.64L359.56 57.07" fill="none" stroke="#222" stroke-width="0.7" stroke-dasharray="1.2 0.8"/>
<path d="M282.00 51.58V53.59M286.17 52.02V54.04M290.34 51.86V53.88M294.51 51.96V53.98M298.68 51.75V53.77M302.85 51.36V53.38M307.02 51.51V53.53M311.19 51.68V53.70M315.36 51.61V53.62M319.53 51.65V53.67M323.70 51.30V53.32M327.87 51.36V53.38M332.04 51.42V53.44M336.21 53.91V55.93M340.38 55.86V57.88M344.55 55.63V57.65M348.72 55.53V57.55M352.89 56.04V58.06M357.06 55.63V57.65M359.56 56.06V58.08" stroke="#222" stroke-width="0.6" fill="none"/>
<rect x="280.90" y="51.48" width="2.20" height="2.20" fill="rgba(255,255,255,0.3)" stroke="#222" stroke-width="0.75"/>
<rect x="285.07" y="51.93" width="2.20" height="2.20" fill="rgba(255,255,255,0.3)" stroke="#222" stroke-width="0.75"/>
<rect x="289.24" y="51.77" width="2.20" height="2.20" fill="rgba(255,255,255,0.3)" stroke="#222" stroke-width="0.75"/>
<rect x="293.41" y="51.87" width="2.20" height="2.20" fill="rgba(255,255,255,0.3)" stroke="#222" stroke-width="0.75"/>
<rect x="297.58" y="51.66" width="2.20" height="2.20" fill="rgba(255,255,255,0.3)" stroke="#222" stroke-width="0.75"/>
<rect x="301.75" y="51.27" width="2.20" height="2.20" fill="rgba(255,255,255,0.3)" stroke="#222" stroke-width="0.75"/>
<rect x="305.92" y="51.42" width="2.20" height="2.20" fill="rgba(255,255,255,0.3)" stroke="#222" stroke-width="0.75"/>
<rect x="310.09" y="51.59" width="2.20" height="2.20" fill="rgba(255,255,255,0.3)" stroke="#222" stroke-width="0.75"/>
<rect x="314.26" y="51.51" width="2.20" height="2.20" fill="rgba(255,255,255,0.3)" stroke="#222" stroke-width="0.75"/>
<rect x="318.43" y="51.56" width="2.20" height="2.20" fill="rgba(255,255,255,0.3)" stroke="#222" stroke-width="0.75"/>
<rect x="322.60" y="51.21" width="2.20" height="2.20" fill="rgba(255,255,255,0.3)" stroke="#222" stroke-width="0.75"/>
<rect x="326.77" y="51.27" width="2.20" height="2.20" fill="rgba(255,255,255,0.3)" stroke="#222" stroke-width="0.75"/>
<rect x="330.94" y="51.33" width="2.20" height="2.20" fill="rgba(255,255,255,0.3)" stroke="#222" stroke-width="0.75"/>
<rect x="335.11" y="53.82" width="2.20" height="2.20" fill="rgba(255,255,255,0.3)" stroke="#222" stroke-width="0.75"/>
<rect x="339.28" y="55.77" width="2.20" height="2.20" fill="rgba(255,255,255,0.3)" stroke="#222" stroke-width="0.75"/>
<rect x="343.45" y="55.54" width="2.20" height="2.20" fill="rgba(255,255,255,0.3)" stroke="#222" stroke-width="0.75"/>
<rect x="347.62" y="55.44" width="2.20" height="2.20" fill="rgba(255,255,255,0.3)" stroke="#222" stroke-width="0.75"/>
<rect x="351.79" y="55.95" width="2.20" height="2.20" fill="rgba(255,255,255,0.3)" stroke="#222" stroke-width="0.75"/>
<rect x="355.96" y="55.54" width="2.20" height="2.20" fill="rgba(255,255,255,0.3)" stroke="#222" stroke-width="0.75"/>
<rect x="358.46" y="55.97" width="2.20" height="2.20" fill="rgba(255,255,255,0.3)" stroke="#222" stroke-width="0.75"/>
<path d="M282.00 51.33L286.17 51.69L290.34 51.74L294.51 51.61L298.68 51.42L302.85 51.87L307.02 51.74L311.19 51.46L315.36 51.94L319.53 51.51L323.70 51.60L327.87 51.71L332.04 52.02L336.21 55.50L340.38 57.60L344.55 57.64L348.72 57.16L352.89 57.15L357.06 56.85L359.56 56.64" fill="none" stroke="#222" stroke-width="0.7" stroke-dasharray="1.2 0.8"/>
<path d="M282.00 50.32V52.34M286.17 50.68V52.69M290.34 50.73V52.75M294.51 50.60V52.62M298.68 50.41V52.43M302.85 50.86V52.88M307.02 50.73V52.75M311.19 50.45V52.47M315.36 50.93V52.95M319.53 50.50V52.52M323.70 50.59V52.61M327.87 50.70V52.72M332.04 51.01V53.02M336.21 54.49V56.51M340.38 56.59V58.61M344.55 56.63V58.65M348.72 56.15V58.17M352.89 56.14V58.16M357.06 55.84V57.86M359.56 55.63V57.65" stroke="#222" stroke-width="0.6" fill="none"/>
<circle cx="282.00" cy="51.33" r="1.25" fill="rgba(255,255,255,0.3)" stroke="#222" stroke-width="0.8"/>
<circle cx="286.17" cy="51.69" r="1.25" fill="rgba(255,255,255,0.3)" stroke="#222" stroke-width="0.8"/>
<circle cx="290.34" cy="51.74" r="1.25" fill="rgba(255,255,255,0.3)" stroke="#222" stroke-width="0.8"/>
<circle cx="294.51" cy="51.61" r="1.25" fill="rgba(255,255,255,0.3)" stroke="#222" stroke-width="0.8"/>
<circle cx="298.68" cy="51.42" r="1.25" fill="rgba(255,255,255,0.3)" stroke="#222" stroke-width="0.8"/>
<circle cx="302.85" cy="51.87" r="1.25" fill="rgba(255,255,255,0.3)" stroke="#222" stroke-width="0.8"/>
<circle cx="307.02" cy="51.74" r="1.25" fill="rgba(255,255,255,0.3)" stroke="#222" stroke-width="0.8"/>
<circle cx="311.19" cy="51.46" r="1.25" fill="rgba(255,255,255,0.3)" stroke="#222" stroke-width="0.8"/>
<circle cx="315.36" cy="51.94" r="1.25" fill="rgba(255,255,255,0.3)" stroke="#222" stroke-width="0.8"/>
<circle cx="319.53" cy="51.51" r="1.25" fill="rgba(255,255,255,0.3)" stroke="#222" stroke-width="0.8"/>
<circle cx="323.70" cy="51.60" r="1.25" fill="rgba(255,255,255,0.3)" stroke="#222" stroke-width="0.8"/>
<circle cx="327.87" cy="51.71" r="1.25" fill="rgba(255,255,255,0.3)" stroke="#222" stroke-width="0.8"/>
<circle cx="332.04" cy="52.02" r="1.25" fill="rgba(255,255,255,0.3)" stroke="#222" stroke-width="0.8"/>
<circle cx="336.21" cy="55.50" r="1.25" fill="rgba(255,255,255,0.3)" stroke="#222" stroke-width="0.8"/>
<circle cx="340.38" cy="57.60" r="1.25" fill="rgba(255,255,255,0.3)" stroke="#222" stroke-width="0.8"/>
<circle cx="344.55" cy="57.64" r="1.25" fill="rgba(255,255,255,0.3)" stroke="#222" stroke-width="0.8"/>
<circle cx="348.72" cy="57.16" r="1.25" fill="rgba(255,255,255,0.3)" stroke="#222" stroke-width="0.8"/>
<circle cx="352.89" cy="57.15" r="1.25" fill="rgba(255,255,255,0.3)" stroke="#222" stroke-width="0.8"/>
<circle cx="357.06" cy="56.85" r="1.25" fill="rgba(255,255,255,0.3)" stroke="#222" stroke-width="0.8"/>
<circle cx="359.56" cy="56.64" r="1.25" fill="rgba(255,255,255,0.3)" stroke="#222" stroke-width="0.8"/>
<path d="M282.00 50.09L286.17 50.09L290.34 50.08L294.51 50.45L298.68 50.57L302.85 50.60L307.02 50.34L311.19 50.62L315.36 50.87L319.53 50.63L323.70 50.42L327.87 50.39L332.04 51.03L336.21 52.24L340.38 53.08L344.55 53.53L348.72 53.38L352.89 53.72L357.06 54.15L359.56 53.91" fill="none" stroke="#222" stroke-width="0.7" stroke-dasharray="1.2 0.8"/>
<path d="M282.00 49.08V51.10M286.17 49.08V51.10M290.34 49.08V51.09M294.51 49.44V51.46M298.68 49.56V51.58M302.85 49.59V51.61M307.02 49.33V51.35M311.19 49.61V51.63M315.36 49.86V51.88M319.53 49.62V51.64M323.70 49.41V51.43M327.87 49.38V51.40M332.04 50.02V52.04M336.21 51.23V53.25M340.38 52.07V54.08M344.55 52.52V54.54M348.72 52.37V54.39M352.89 52.71V54.73M357.06 53.14V55.16M359.56 52.90V54.91" stroke="#222" stroke-width="0.6" fill="none"/>
<path d="M282.00 48.69L283.40 51.29H280.60Z" fill="rgba(255,255,255,0.3)" stroke="#222" stroke-width="0.7"/>
<path d="M286.17 48.69L287.57 51.29H284.77Z" fill="rgba(255,255,255,0.3)" stroke="#222" stroke-width="0.7"/>
<path d="M290.34 48.68L291.74 51.28H288.94Z" fill="rgba(255,255,255,0.3)" stroke="#222" stroke-width="0.7"/>
<path d="M294.51 49.05L295.91 51.65H293.11Z" fill="rgba(255,255,255,0.3)" stroke="#222" stroke-width="0.7"/>
<path d="M298.68 49.17L300.08 51.77H297.28Z" fill="rgba(255,255,255,0.3)" stroke="#222" stroke-width="0.7"/>
<path d="M302.85 49.20L304.25 51.80H301.45Z" fill="rgba(255,255,255,0.3)" stroke="#222" stroke-width="0.7"/>
<path d="M307.02 48.94L308.42 51.54H305.62Z" fill="rgba(255,255,255,0.3)" stroke="#222" stroke-width="0.7"/>
<path d="M311.19 49.22L312.59 51.82H309.79Z" fill="rgba(255,255,255,0.3)" stroke="#222" stroke-width="0.7"/>
<path d="M315.36 49.47L316.76 52.07H313.96Z" fill="rgba(255,255,255,0.3)" stroke="#222" stroke-width="0.7"/>
<path d="M319.53 49.23L320.93 51.83H318.13Z" fill="rgba(255,255,255,0.3)" stroke="#222" stroke-width="0.7"/>
<path d="M323.70 49.02L325.10 51.62H322.30Z" fill="rgba(255,255,255,0.3)" stroke="#222" stroke-width="0.7"/>
<path d="M327.87 48.99L329.27 51.59H326.47Z" fill="rgba(255,255,255,0.3)" stroke="#222" stroke-width="0.7"/>
<path d="M332.04 49.63L333.44 52.23H330.64Z" fill="rgba(255,255,255,0.3)" stroke="#222" stroke-width="0.7"/>
<path d="M336.21 50.84L337.61 53.44H334.81Z" fill="rgba(255,255,255,0.3)" stroke="#222" stroke-width="0.7"/>
<path d="M340.38 51.68L341.78 54.28H338.98Z" fill="rgba(255,255,255,0.3)" stroke="#222" stroke-width="0.7"/>
<path d="M344.55 52.13L345.95 54.73H343.15Z" fill="rgba(255,255,255,0.3)" stroke="#222" stroke-width="0.7"/>
<path d="M348.72 51.98L350.12 54.58H347.32Z" fill="rgba(255,255,255,0.3)" stroke="#222" stroke-width="0.7"/>
<path d="M352.89 52.32L354.29 54.92H351.49Z" fill="rgba(255,255,255,0.3)" stroke="#222" stroke-width="0.7"/>
<path d="M357.06 52.75L358.46 55.35H355.66Z" fill="rgba(255,255,255,0.3)" stroke="#222" stroke-width="0.7"/>
<path d="M359.56 52.51L360.96 55.11H358.16Z" fill="rgba(255,255,255,0.3)" stroke="#222" stroke-width="0.7"/>
<rect x="372.80" y="15.40" width="80.20" height="63.10" fill="#fff" stroke="#333" stroke-width="0.8"/>
<path d="M371.50 15.40H372.80" stroke="#333" stroke-width="0.6"/>
<text x="370.50" y="17.70" font-size="6.3" text-anchor="end" font-weight="normal" fill="#1c1c1c" >2.5</text>
<path d="M371.50 28.02H372.80" stroke="#333" stroke-width="0.6"/>
<text x="370.50" y="30.32" font-size="6.3" text-anchor="end" font-weight="normal" fill="#1c1c1c" >2</text>
<path d="M371.50 40.64H372.80" stroke="#333" stroke-width="0.6"/>
<text x="370.50" y="42.94" font-size="6.3" text-anchor="end" font-weight="normal" fill="#1c1c1c" >1.5</text>
<path d="M371.50 53.26H372.80" stroke="#333" stroke-width="0.6"/>
<text x="370.50" y="55.56" font-size="6.3" text-anchor="end" font-weight="normal" fill="#1c1c1c" >1</text>
<path d="M371.50 65.88H372.80" stroke="#333" stroke-width="0.6"/>
<text x="370.50" y="68.18" font-size="6.3" text-anchor="end" font-weight="normal" fill="#1c1c1c" >0.5</text>
<path d="M371.50 78.50H372.80" stroke="#333" stroke-width="0.6"/>
<text x="370.50" y="80.80" font-size="6.3" text-anchor="end" font-weight="normal" fill="#1c1c1c" >0</text>
<path d="M373.00 78.50v1.3" stroke="#333" stroke-width="0.6"/>
<text x="373.00" y="84.60" font-size="6.3" text-anchor="middle" font-weight="normal" fill="#1c1c1c" >24</text>
<path d="M390.16 78.50v1.3" stroke="#333" stroke-width="0.6"/>
<text x="390.16" y="84.60" font-size="6.3" text-anchor="middle" font-weight="normal" fill="#1c1c1c" >28</text>
<path d="M407.32 78.50v1.3" stroke="#333" stroke-width="0.6"/>
<text x="407.32" y="84.60" font-size="6.3" text-anchor="middle" font-weight="normal" fill="#1c1c1c" >32</text>
<path d="M424.48 78.50v1.3" stroke="#333" stroke-width="0.6"/>
<text x="424.48" y="84.60" font-size="6.3" text-anchor="middle" font-weight="normal" fill="#1c1c1c" >36</text>
<path d="M441.64 78.50v1.3" stroke="#333" stroke-width="0.6"/>
<text x="441.64" y="84.60" font-size="6.3" text-anchor="middle" font-weight="normal" fill="#1c1c1c" >40</text>
<text x="376.20" y="21.80" font-size="6.9" text-anchor="start" font-weight="normal" fill="#1c1c1c" >Collagen</text>
<text x="413.90" y="92.60" font-size="6.7" text-anchor="middle" font-weight="normal" fill="#1c1c1c" >Time (hours)</text>
<path d="M395.40 30.00V44.40" stroke="#222" stroke-width="0.7"/>
<path d="M393.90 42.20L395.40 45.40L396.90 42.20Z" fill="#222"/>
<path d="M373.00 50.53L377.29 50.60L381.58 50.28L385.87 50.36L390.16 50.30L394.45 50.53L398.74 45.28L403.03 39.12L407.32 35.49L411.61 33.67L415.90 33.43L420.19 33.60L424.48 33.14L428.77 33.27L433.06 33.43L437.35 33.18L441.64 32.96L445.93 33.16L450.22 33.23L452.37 33.69" fill="none" stroke="#000" stroke-width="0.7"/>
<path d="M373.00 49.52V51.54M377.29 49.59V51.61M381.58 49.27V51.29M385.87 49.35V51.37M390.16 49.29V51.31M394.45 49.52V51.53M398.74 44.27V46.28M403.03 38.11V40.13M407.32 34.48V36.50M411.61 32.66V34.68M415.90 32.42V34.44M420.19 32.59V34.61M424.48 32.13V34.15M428.77 32.26V34.28M433.06 32.42V34.44M437.35 32.17V34.19M441.64 31.95V33.97M445.93 32.15V34.17M450.22 32.22V34.24M452.37 32.68V34.70" stroke="#000" stroke-width="0.6" fill="none"/>
<path d="M373.00 48.73L374.80 50.53L373.00 52.33L371.20 50.53Z" fill="#000" stroke="#000" stroke-width="0.5"/>
<path d="M377.29 48.80L379.09 50.60L377.29 52.40L375.49 50.60Z" fill="#000" stroke="#000" stroke-width="0.5"/>
<path d="M381.58 48.48L383.38 50.28L381.58 52.08L379.78 50.28Z" fill="#000" stroke="#000" stroke-width="0.5"/>
<path d="M385.87 48.56L387.67 50.36L385.87 52.16L384.07 50.36Z" fill="#000" stroke="#000" stroke-width="0.5"/>
<path d="M390.16 48.50L391.96 50.30L390.16 52.10L388.36 50.30Z" fill="#000" stroke="#000" stroke-width="0.5"/>
<path d="M394.45 48.73L396.25 50.53L394.45 52.33L392.65 50.53Z" fill="#000" stroke="#000" stroke-width="0.5"/>
<path d="M398.74 43.48L400.54 45.28L398.74 47.08L396.94 45.28Z" fill="#000" stroke="#000" stroke-width="0.5"/>
<path d="M403.03 37.32L404.83 39.12L403.03 40.92L401.23 39.12Z" fill="#000" stroke="#000" stroke-width="0.5"/>
<path d="M407.32 33.69L409.12 35.49L407.32 37.29L405.52 35.49Z" fill="#000" stroke="#000" stroke-width="0.5"/>
<path d="M411.61 31.87L413.41 33.67L411.61 35.47L409.81 33.67Z" fill="#000" stroke="#000" stroke-width="0.5"/>
<path d="M415.90 31.63L417.70 33.43L415.90 35.23L414.10 33.43Z" fill="#000" stroke="#000" stroke-width="0.5"/>
<path d="M420.19 31.80L421.99 33.60L420.19 35.40L418.39 33.60Z" fill="#000" stroke="#000" stroke-width="0.5"/>
<path d="M424.48 31.34L426.28 33.14L424.48 34.94L422.68 33.14Z" fill="#000" stroke="#000" stroke-width="0.5"/>
<path d="M428.77 31.47L430.57 33.27L428.77 35.07L426.97 33.27Z" fill="#000" stroke="#000" stroke-width="0.5"/>
<path d="M433.06 31.63L434.86 33.43L433.06 35.23L431.26 33.43Z" fill="#000" stroke="#000" stroke-width="0.5"/>
<path d="M437.35 31.38L439.15 33.18L437.35 34.98L435.55 33.18Z" fill="#000" stroke="#000" stroke-width="0.5"/>
<path d="M441.64 31.16L443.44 32.96L441.64 34.76L439.84 32.96Z" fill="#000" stroke="#000" stroke-width="0.5"/>
<path d="M445.93 31.36L447.73 33.16L445.93 34.96L444.13 33.16Z" fill="#000" stroke="#000" stroke-width="0.5"/>
<path d="M450.22 31.43L452.02 33.23L450.22 35.03L448.42 33.23Z" fill="#000" stroke="#000" stroke-width="0.5"/>
<path d="M452.37 31.89L454.17 33.69L452.37 35.49L450.56 33.69Z" fill="#000" stroke="#000" stroke-width="0.5"/>
<path d="M373.00 50.89L377.29 50.63L381.58 50.57L385.87 50.48L390.16 50.55L394.45 50.27L398.74 46.51L403.03 42.13L407.32 40.17L411.61 39.91L415.90 39.41L420.19 39.30L424.48 39.52L428.77 39.20L433.06 39.34L437.35 39.30L441.64 38.82L445.93 38.97L450.22 38.71L452.37 38.99" fill="none" stroke="#58583a" stroke-width="0.7"/>
<path d="M373.00 49.88V51.90M377.29 49.62V51.64M381.58 49.56V51.58M385.87 49.47V51.49M390.16 49.54V51.56M394.45 49.26V51.28M398.74 45.50V47.52M403.03 41.12V43.14M407.32 39.16V41.18M411.61 38.90V40.92M415.90 38.40V40.42M420.19 38.30V40.31M424.48 38.51V40.53M428.77 38.19V40.21M433.06 38.33V40.35M437.35 38.29V40.31M441.64 37.81V39.83M445.93 37.96V39.98M450.22 37.70V39.72M452.37 37.98V40.00" stroke="#58583a" stroke-width="0.6" fill="none"/>
<path d="M373.00 49.49L374.40 52.09H371.60Z" fill="#58583a" stroke="#58583a" stroke-width="0.7"/>
<path d="M377.29 49.23L378.69 51.83H375.89Z" fill="#58583a" stroke="#58583a" stroke-width="0.7"/>
<path d="M381.58 49.17L382.98 51.77H380.18Z" fill="#58583a" stroke="#58583a" stroke-width="0.7"/>
<path d="M385.87 49.08L387.27 51.68H384.47Z" fill="#58583a" stroke="#58583a" stroke-width="0.7"/>
<path d="M390.16 49.15L391.56 51.75H388.76Z" fill="#58583a" stroke="#58583a" stroke-width="0.7"/>
<path d="M394.45 48.87L395.85 51.47H393.05Z" fill="#58583a" stroke="#58583a" stroke-width="0.7"/>
<path d="M398.74 45.11L400.14 47.71H397.34Z" fill="#58583a" stroke="#58583a" stroke-width="0.7"/>
<path d="M403.03 40.73L404.43 43.33H401.63Z" fill="#58583a" stroke="#58583a" stroke-width="0.7"/>
<path d="M407.32 38.77L408.72 41.37H405.92Z" fill="#58583a" stroke="#58583a" stroke-width="0.7"/>
<path d="M411.61 38.51L413.01 41.11H410.21Z" fill="#58583a" stroke="#58583a" stroke-width="0.7"/>
<path d="M415.90 38.01L417.30 40.61H414.50Z" fill="#58583a" stroke="#58583a" stroke-width="0.7"/>
<path d="M420.19 37.90L421.59 40.50H418.79Z" fill="#58583a" stroke="#58583a" stroke-width="0.7"/>
<path d="M424.48 38.12L425.88 40.72H423.08Z" fill="#58583a" stroke="#58583a" stroke-width="0.7"/>
<path d="M428.77 37.80L430.17 40.40H427.37Z" fill="#58583a" stroke="#58583a" stroke-width="0.7"/>
<path d="M433.06 37.94L434.46 40.54H431.66Z" fill="#58583a" stroke="#58583a" stroke-width="0.7"/>
<path d="M437.35 37.90L438.75 40.50H435.95Z" fill="#58583a" stroke="#58583a" stroke-width="0.7"/>
<path d="M441.64 37.42L443.04 40.02H440.24Z" fill="#58583a" stroke="#58583a" stroke-width="0.7"/>
<path d="M445.93 37.57L447.33 40.17H444.53Z" fill="#58583a" stroke="#58583a" stroke-width="0.7"/>
<path d="M450.22 37.31L451.62 39.91H448.82Z" fill="#58583a" stroke="#58583a" stroke-width="0.7"/>
<path d="M452.37 37.59L453.76 40.19H450.97Z" fill="#58583a" stroke="#58583a" stroke-width="0.7"/>
<path d="M373.00 50.58L377.29 50.67L381.58 50.49L385.87 50.15L390.16 50.05L394.45 50.36L398.74 49.53L403.03 48.52L407.32 48.46L411.61 47.75L415.90 47.45L420.19 47.74L424.48 47.61L428.77 47.87L433.06 47.53L437.35 47.65L441.64 47.51L445.93 47.56L450.22 47.44L452.37 47.64" fill="none" stroke="#6a2a18" stroke-width="0.7"/>
<path d="M373.00 49.57V51.59M377.29 49.66V51.68M381.58 49.48V51.50M385.87 49.14V51.16M390.16 49.05V51.06M394.45 49.35V51.37M398.74 48.52V50.54M403.03 47.51V49.53M407.32 47.45V49.47M411.61 46.74V48.76M415.90 46.44V48.46M420.19 46.73V48.75M424.48 46.60V48.62M428.77 46.86V48.88M433.06 46.52V48.54M437.35 46.64V48.66M441.64 46.50V48.52M445.93 46.55V48.57M450.22 46.43V48.45M452.37 46.63V48.65" stroke="#6a2a18" stroke-width="0.6" fill="none"/>
<rect x="371.90" y="49.48" width="2.20" height="2.20" fill="#c58058" stroke="#6a2a18" stroke-width="0.75"/>
<rect x="376.19" y="49.57" width="2.20" height="2.20" fill="#c58058" stroke="#6a2a18" stroke-width="0.75"/>
<rect x="380.48" y="49.39" width="2.20" height="2.20" fill="#c58058" stroke="#6a2a18" stroke-width="0.75"/>
<rect x="384.77" y="49.05" width="2.20" height="2.20" fill="#c58058" stroke="#6a2a18" stroke-width="0.75"/>
<rect x="389.06" y="48.95" width="2.20" height="2.20" fill="#c58058" stroke="#6a2a18" stroke-width="0.75"/>
<rect x="393.35" y="49.26" width="2.20" height="2.20" fill="#c58058" stroke="#6a2a18" stroke-width="0.75"/>
<rect x="397.64" y="48.43" width="2.20" height="2.20" fill="#c58058" stroke="#6a2a18" stroke-width="0.75"/>
<rect x="401.93" y="47.42" width="2.20" height="2.20" fill="#c58058" stroke="#6a2a18" stroke-width="0.75"/>
<rect x="406.22" y="47.36" width="2.20" height="2.20" fill="#c58058" stroke="#6a2a18" stroke-width="0.75"/>
<rect x="410.51" y="46.65" width="2.20" height="2.20" fill="#c58058" stroke="#6a2a18" stroke-width="0.75"/>
<rect x="414.80" y="46.35" width="2.20" height="2.20" fill="#c58058" stroke="#6a2a18" stroke-width="0.75"/>
<rect x="419.09" y="46.64" width="2.20" height="2.20" fill="#c58058" stroke="#6a2a18" stroke-width="0.75"/>
<rect x="423.38" y="46.51" width="2.20" height="2.20" fill="#c58058" stroke="#6a2a18" stroke-width="0.75"/>
<rect x="427.67" y="46.77" width="2.20" height="2.20" fill="#c58058" stroke="#6a2a18" stroke-width="0.75"/>
<rect x="431.96" y="46.43" width="2.20" height="2.20" fill="#c58058" stroke="#6a2a18" stroke-width="0.75"/>
<rect x="436.25" y="46.55" width="2.20" height="2.20" fill="#c58058" stroke="#6a2a18" stroke-width="0.75"/>
<rect x="440.54" y="46.41" width="2.20" height="2.20" fill="#c58058" stroke="#6a2a18" stroke-width="0.75"/>
<rect x="444.83" y="46.46" width="2.20" height="2.20" fill="#c58058" stroke="#6a2a18" stroke-width="0.75"/>
<rect x="449.12" y="46.34" width="2.20" height="2.20" fill="#c58058" stroke="#6a2a18" stroke-width="0.75"/>
<rect x="451.27" y="46.54" width="2.20" height="2.20" fill="#c58058" stroke="#6a2a18" stroke-width="0.75"/>
<path d="M373.00 52.01L377.29 52.16L381.58 52.23L385.87 52.21L390.16 52.21L394.45 52.19L398.74 52.38L403.03 51.92L407.32 51.85L411.61 52.08L415.90 51.98L420.19 52.30L424.48 51.76L428.77 51.71L433.06 54.91L437.35 56.58L441.64 56.31L445.93 56.25L450.22 56.50L452.37 56.18" fill="none" stroke="#222" stroke-width="0.7" stroke-dasharray="1.2 0.8"/>
<path d="M373.00 51.00V53.02M377.29 51.15V53.17M381.58 51.22V53.24M385.87 51.20V53.22M390.16 51.20V53.22M394.45 51.18V53.20M398.74 51.37V53.39M403.03 50.91V52.93M407.32 50.84V52.86M411.61 51.07V53.09M415.90 50.97V52.99M420.19 51.29V53.31M424.48 50.75V52.77M428.77 50.70V52.72M433.06 53.90V55.92M437.35 55.57V57.59M441.64 55.30V57.32M445.93 55.24V57.26M450.22 55.49V57.51M452.37 55.17V57.18" stroke="#222" stroke-width="0.6" fill="none"/>
<rect x="371.90" y="50.91" width="2.20" height="2.20" fill="rgba(255,255,255,0.3)" stroke="#222" stroke-width="0.75"/>
<rect x="376.19" y="51.06" width="2.20" height="2.20" fill="rgba(255,255,255,0.3)" stroke="#222" stroke-width="0.75"/>
<rect x="380.48" y="51.13" width="2.20" height="2.20" fill="rgba(255,255,255,0.3)" stroke="#222" stroke-width="0.75"/>
<rect x="384.77" y="51.11" width="2.20" height="2.20" fill="rgba(255,255,255,0.3)" stroke="#222" stroke-width="0.75"/>
<rect x="389.06" y="51.11" width="2.20" height="2.20" fill="rgba(255,255,255,0.3)" stroke="#222" stroke-width="0.75"/>
<rect x="393.35" y="51.09" width="2.20" height="2.20" fill="rgba(255,255,255,0.3)" stroke="#222" stroke-width="0.75"/>
<rect x="397.64" y="51.28" width="2.20" height="2.20" fill="rgba(255,255,255,0.3)" stroke="#222" stroke-width="0.75"/>
<rect x="401.93" y="50.82" width="2.20" height="2.20" fill="rgba(255,255,255,0.3)" stroke="#222" stroke-width="0.75"/>
<rect x="406.22" y="50.75" width="2.20" height="2.20" fill="rgba(255,255,255,0.3)" stroke="#222" stroke-width="0.75"/>
<rect x="410.51" y="50.98" width="2.20" height="2.20" fill="rgba(255,255,255,0.3)" stroke="#222" stroke-width="0.75"/>
<rect x="414.80" y="50.88" width="2.20" height="2.20" fill="rgba(255,255,255,0.3)" stroke="#222" stroke-width="0.75"/>
<rect x="419.09" y="51.20" width="2.20" height="2.20" fill="rgba(255,255,255,0.3)" stroke="#222" stroke-width="0.75"/>
<rect x="423.38" y="50.66" width="2.20" height="2.20" fill="rgba(255,255,255,0.3)" stroke="#222" stroke-width="0.75"/>
<rect x="427.67" y="50.61" width="2.20" height="2.20" fill="rgba(255,255,255,0.3)" stroke="#222" stroke-width="0.75"/>
<rect x="431.96" y="53.81" width="2.20" height="2.20" fill="rgba(255,255,255,0.3)" stroke="#222" stroke-width="0.75"/>
<rect x="436.25" y="55.48" width="2.20" height="2.20" fill="rgba(255,255,255,0.3)" stroke="#222" stroke-width="0.75"/>
<rect x="440.54" y="55.21" width="2.20" height="2.20" fill="rgba(255,255,255,0.3)" stroke="#222" stroke-width="0.75"/>
<rect x="444.83" y="55.15" width="2.20" height="2.20" fill="rgba(255,255,255,0.3)" stroke="#222" stroke-width="0.75"/>
<rect x="449.12" y="55.40" width="2.20" height="2.20" fill="rgba(255,255,255,0.3)" stroke="#222" stroke-width="0.75"/>
<rect x="451.27" y="55.08" width="2.20" height="2.20" fill="rgba(255,255,255,0.3)" stroke="#222" stroke-width="0.75"/>
<path d="M373.00 51.51L377.29 51.40L381.58 51.43L385.87 51.46L390.16 51.20L394.45 51.33L398.74 51.41L403.03 51.23L407.32 51.33L411.61 51.32L415.90 51.39L420.19 51.07L424.48 51.27L428.77 51.17L433.06 54.33L437.35 55.70L441.64 55.98L445.93 55.70L450.22 55.31L452.37 55.27" fill="none" stroke="#222" stroke-width="0.7" stroke-dasharray="1.2 0.8"/>
<path d="M373.00 50.50V52.52M377.29 50.39V52.41M381.58 50.42V52.44M385.87 50.45V52.47M390.16 50.19V52.21M394.45 50.32V52.34M398.74 50.40V52.42M403.03 50.22V52.24M407.32 50.32V52.34M411.61 50.31V52.32M415.90 50.38V52.40M420.19 50.06V52.08M424.48 50.26V52.28M428.77 50.16V52.18M433.06 53.32V55.34M437.35 54.69V56.71M441.64 54.97V56.99M445.93 54.69V56.71M450.22 54.30V56.32M452.37 54.26V56.28" stroke="#222" stroke-width="0.6" fill="none"/>
<circle cx="373.00" cy="51.51" r="1.25" fill="rgba(255,255,255,0.3)" stroke="#222" stroke-width="0.8"/>
<circle cx="377.29" cy="51.40" r="1.25" fill="rgba(255,255,255,0.3)" stroke="#222" stroke-width="0.8"/>
<circle cx="381.58" cy="51.43" r="1.25" fill="rgba(255,255,255,0.3)" stroke="#222" stroke-width="0.8"/>
<circle cx="385.87" cy="51.46" r="1.25" fill="rgba(255,255,255,0.3)" stroke="#222" stroke-width="0.8"/>
<circle cx="390.16" cy="51.20" r="1.25" fill="rgba(255,255,255,0.3)" stroke="#222" stroke-width="0.8"/>
<circle cx="394.45" cy="51.33" r="1.25" fill="rgba(255,255,255,0.3)" stroke="#222" stroke-width="0.8"/>
<circle cx="398.74" cy="51.41" r="1.25" fill="rgba(255,255,255,0.3)" stroke="#222" stroke-width="0.8"/>
<circle cx="403.03" cy="51.23" r="1.25" fill="rgba(255,255,255,0.3)" stroke="#222" stroke-width="0.8"/>
<circle cx="407.32" cy="51.33" r="1.25" fill="rgba(255,255,255,0.3)" stroke="#222" stroke-width="0.8"/>
<circle cx="411.61" cy="51.32" r="1.25" fill="rgba(255,255,255,0.3)" stroke="#222" stroke-width="0.8"/>
<circle cx="415.90" cy="51.39" r="1.25" fill="rgba(255,255,255,0.3)" stroke="#222" stroke-width="0.8"/>
<circle cx="420.19" cy="51.07" r="1.25" fill="rgba(255,255,255,0.3)" stroke="#222" stroke-width="0.8"/>
<circle cx="424.48" cy="51.27" r="1.25" fill="rgba(255,255,255,0.3)" stroke="#222" stroke-width="0.8"/>
<circle cx="428.77" cy="51.17" r="1.25" fill="rgba(255,255,255,0.3)" stroke="#222" stroke-width="0.8"/>
<circle cx="433.06" cy="54.33" r="1.25" fill="rgba(255,255,255,0.3)" stroke="#222" stroke-width="0.8"/>
<circle cx="437.35" cy="55.70" r="1.25" fill="rgba(255,255,255,0.3)" stroke="#222" stroke-width="0.8"/>
<circle cx="441.64" cy="55.98" r="1.25" fill="rgba(255,255,255,0.3)" stroke="#222" stroke-width="0.8"/>
<circle cx="445.93" cy="55.70" r="1.25" fill="rgba(255,255,255,0.3)" stroke="#222" stroke-width="0.8"/>
<circle cx="450.22" cy="55.31" r="1.25" fill="rgba(255,255,255,0.3)" stroke="#222" stroke-width="0.8"/>
<circle cx="452.37" cy="55.27" r="1.25" fill="rgba(255,255,255,0.3)" stroke="#222" stroke-width="0.8"/>
<path d="M373.00 50.54L377.29 50.47L381.58 50.97L385.87 51.00L390.16 50.69L394.45 50.57L398.74 50.80L403.03 50.97L407.32 50.59L411.61 50.74L415.90 50.93L420.19 50.63L424.48 50.88L428.77 51.05L433.06 50.65L437.35 51.16L441.64 50.94L445.93 50.95L450.22 50.86L452.37 51.26" fill="none" stroke="#222" stroke-width="0.7" stroke-dasharray="1.2 0.8"/>
<path d="M373.00 49.53V51.55M377.29 49.46V51.48M381.58 49.96V51.98M385.87 49.99V52.01M390.16 49.69V51.70M394.45 49.57V51.58M398.74 49.79V51.81M403.03 49.96V51.98M407.32 49.58V51.60M411.61 49.73V51.75M415.90 49.92V51.94M420.19 49.62V51.64M424.48 49.87V51.89M428.77 50.04V52.05M433.06 49.64V51.66M437.35 50.15V52.17M441.64 49.93V51.95M445.93 49.94V51.96M450.22 49.85V51.87M452.37 50.25V52.27" stroke="#222" stroke-width="0.6" fill="none"/>
<path d="M373.00 49.14L374.40 51.74H371.60Z" fill="rgba(255,255,255,0.3)" stroke="#222" stroke-width="0.7"/>
<path d="M377.29 49.07L378.69 51.67H375.89Z" fill="rgba(255,255,255,0.3)" stroke="#222" stroke-width="0.7"/>
<path d="M381.58 49.57L382.98 52.17H380.18Z" fill="rgba(255,255,255,0.3)" stroke="#222" stroke-width="0.7"/>
<path d="M385.87 49.60L387.27 52.20H384.47Z" fill="rgba(255,255,255,0.3)" stroke="#222" stroke-width="0.7"/>
<path d="M390.16 49.29L391.56 51.89H388.76Z" fill="rgba(255,255,255,0.3)" stroke="#222" stroke-width="0.7"/>
<path d="M394.45 49.17L395.85 51.77H393.05Z" fill="rgba(255,255,255,0.3)" stroke="#222" stroke-width="0.7"/>
<path d="M398.74 49.40L400.14 52.00H397.34Z" fill="rgba(255,255,255,0.3)" stroke="#222" stroke-width="0.7"/>
<path d="M403.03 49.57L404.43 52.17H401.63Z" fill="rgba(255,255,255,0.3)" stroke="#222" stroke-width="0.7"/>
<path d="M407.32 49.19L408.72 51.79H405.92Z" fill="rgba(255,255,255,0.3)" stroke="#222" stroke-width="0.7"/>
<path d="M411.61 49.34L413.01 51.94H410.21Z" fill="rgba(255,255,255,0.3)" stroke="#222" stroke-width="0.7"/>
<path d="M415.90 49.53L417.30 52.13H414.50Z" fill="rgba(255,255,255,0.3)" stroke="#222" stroke-width="0.7"/>
<path d="M420.19 49.23L421.59 51.83H418.79Z" fill="rgba(255,255,255,0.3)" stroke="#222" stroke-width="0.7"/>
<path d="M424.48 49.48L425.88 52.08H423.08Z" fill="rgba(255,255,255,0.3)" stroke="#222" stroke-width="0.7"/>
<path d="M428.77 49.65L430.17 52.25H427.37Z" fill="rgba(255,255,255,0.3)" stroke="#222" stroke-width="0.7"/>
<path d="M433.06 49.25L434.46 51.85H431.66Z" fill="rgba(255,255,255,0.3)" stroke="#222" stroke-width="0.7"/>
<path d="M437.35 49.76L438.75 52.36H435.95Z" fill="rgba(255,255,255,0.3)" stroke="#222" stroke-width="0.7"/>
<path d="M441.64 49.54L443.04 52.14H440.24Z" fill="rgba(255,255,255,0.3)" stroke="#222" stroke-width="0.7"/>
<path d="M445.93 49.55L447.33 52.15H444.53Z" fill="rgba(255,255,255,0.3)" stroke="#222" stroke-width="0.7"/>
<path d="M450.22 49.46L451.62 52.06H448.82Z" fill="rgba(255,255,255,0.3)" stroke="#222" stroke-width="0.7"/>
<path d="M452.37 49.86L453.76 52.46H450.97Z" fill="rgba(255,255,255,0.3)" stroke="#222" stroke-width="0.7"/>
<path d="M456.6 23.2h2.6M464.8 23.2h2.6" stroke="#222" stroke-width="0.7"/>
<circle cx="462.00" cy="23.20" r="1.25" fill="#fff" stroke="#222" stroke-width="0.8"/>
<text x="469.50" y="25.70" font-size="6.9" text-anchor="start" font-weight="normal" fill="#1c1c1c" >Control</text>
<path d="M456.2 32.8H467.7" stroke="#000" stroke-width="0.7"/>
<path d="M462.00 31.00L463.80 32.80L462.00 34.60L460.20 32.80Z" fill="#000" stroke="#000" stroke-width="0.5"/>
<text x="469.50" y="35.30" font-size="6.9" text-anchor="start" font-weight="normal" fill="#1c1c1c" >Control + O-Me</text>
<path d="M456.6 42.4h2.6M464.8 42.4h2.6" stroke="#222" stroke-width="0.7"/>
<rect x="460.90" y="41.30" width="2.20" height="2.20" fill="#fff" stroke="#222" stroke-width="0.75"/>
<text x="469.50" y="44.90" font-size="6.9" text-anchor="start" font-weight="normal" fill="#1c1c1c" >Anti-α5</text>
<path d="M456.2 52.0H467.7" stroke="#6a2a18" stroke-width="0.7"/>
<rect x="460.90" y="50.90" width="2.20" height="2.20" fill="#c58058" stroke="#6a2a18" stroke-width="0.75"/>
<text x="469.50" y="54.50" font-size="6.9" text-anchor="start" font-weight="normal" fill="#1c1c1c" >Anti-α5 + O-Me</text>
<path d="M456.6 61.7h2.6M464.8 61.7h2.6" stroke="#222" stroke-width="0.7"/>
<path d="M462.00 60.30L463.40 62.90H460.60Z" fill="#fff" stroke="#222" stroke-width="0.7"/>
<text x="469.50" y="64.20" font-size="6.9" text-anchor="start" font-weight="normal" fill="#1c1c1c" >Anti-αv</text>
<path d="M456.2 71.4H467.7" stroke="#58583a" stroke-width="0.7"/>
<path d="M462.00 70.00L463.40 72.60H460.60Z" fill="#58583a" stroke="#58583a" stroke-width="0.7"/>
<text x="469.50" y="73.90" font-size="6.9" text-anchor="start" font-weight="normal" fill="#1c1c1c" >Anti-αv + O-Me</text>
<text x="360.60" y="106.60" font-size="7.9" text-anchor="middle" font-weight="normal" fill="#1c1c1c" >Collagen</text>
<text x="361.30" y="221.20" font-size="8.0" text-anchor="middle" font-weight="normal" fill="#1c1c1c" >Fibronectin</text>
<text transform="translate(277.60,134.40) rotate(-90)" font-size="6.7" text-anchor="middle" fill="#1c1c1c">Control</text>
<text transform="translate(277.60,184.20) rotate(-90)" font-size="6.7" text-anchor="middle" fill="#1c1c1c">O-Me</text>
<text transform="translate(277.60,248.50) rotate(-90)" font-size="6.7" text-anchor="middle" fill="#1c1c1c">Control</text>
<text transform="translate(277.60,298.00) rotate(-90)" font-size="6.7" text-anchor="middle" fill="#1c1c1c">O-Me</text>
<svg x="281.40" y="110.30" width="80.40" height="48.20" viewBox="0 0 80.40 48.20" overflow="hidden">
<rect width="80.40" height="48.20" fill="#07300f"/>
<ellipse cx="19" cy="6.7" rx="7.9799999999999995" ry="8.64" fill="#17863a" opacity="0.6" transform="rotate(0 19 6.7)" filter="url(#b1_6)"/>
<ellipse cx="10" cy="13.2" rx="7.22" ry="7.5600000000000005" fill="#17863a" opacity="0.6" transform="rotate(0 10 13.2)" filter="url(#b1_6)"/>
<ellipse cx="36.5" cy="10" rx="7.22" ry="8.28" fill="#17863a" opacity="0.6" transform="rotate(0 36.5 10)" filter="url(#b1_6)"/>
<ellipse cx="46.8" cy="2.6" rx="8.549999999999999" ry="6.3" fill="#17863a" opacity="0.6" transform="rotate(0 46.8 2.6)" filter="url(#b1_6)"/>
<ellipse cx="19.9" cy="22.2" rx="6.84" ry="9.0" fill="#17863a" opacity="0.6" transform="rotate(0 19.9 22.2)" filter="url(#b1_6)"/>
<ellipse cx="37.5" cy="27.6" rx="8.739999999999998" ry="6.48" fill="#17863a" opacity="0.6" transform="rotate(0 37.5 27.6)" filter="url(#b1_6)"/>
<ellipse cx="54.2" cy="21.9" rx="7.9799999999999995" ry="7.5600000000000005" fill="#17863a" opacity="0.6" transform="rotate(0 54.2 21.9)" filter="url(#b1_6)"/>
<ellipse cx="64" cy="14.9" rx="9.12" ry="7.2" fill="#17863a" opacity="0.6" transform="rotate(0 64 14.9)" filter="url(#b1_6)"/>
<ellipse cx="28.8" cy="37.7" rx="8.739999999999998" ry="7.2" fill="#17863a" opacity="0.6" transform="rotate(0 28.8 37.7)" filter="url(#b1_6)"/>
<ellipse cx="59" cy="39.4" rx="8.739999999999998" ry="7.2" fill="#17863a" opacity="0.6" transform="rotate(0 59 39.4)" filter="url(#b1_6)"/>
<ellipse cx="74.6" cy="3.4" rx="7.9799999999999995" ry="6.48" fill="#17863a" opacity="0.6" transform="rotate(0 74.6 3.4)" filter="url(#b1_6)"/>
<ellipse cx="77.9" cy="36.9" rx="6.6499999999999995" ry="8.28" fill="#17863a" opacity="0.6" transform="rotate(0 77.9 36.9)" filter="url(#b1_6)"/>
<ellipse cx="2.7" cy="35.3" rx="5.699999999999999" ry="8.1" fill="#17863a" opacity="0.6" transform="rotate(0 2.7 35.3)" filter="url(#b1_6)"/>
<ellipse cx="77.9" cy="27" rx="6.08" ry="6.3" fill="#17863a" opacity="0.6" transform="rotate(0 77.9 27)" filter="url(#b1_6)"/>
<ellipse cx="33" cy="47" rx="9.5" ry="4.5" fill="#17863a" opacity="0.6" transform="rotate(0 33 47)" filter="url(#b1_6)"/>
<ellipse cx="12" cy="46" rx="9.5" ry="4.5" fill="#17863a" opacity="0.6" transform="rotate(0 12 46)" filter="url(#b1_6)"/>
<rect width="80.40" height="48.20" fill="#021206" opacity="0.6" filter="url(#nz3)"/>
<ellipse cx="19" cy="6.7" rx="3.9899999999999998" ry="4.56" fill="#2cc65e" opacity="0.97" transform="rotate(0 19 6.7)" filter="url(#b0_5)"/>
<ellipse cx="18.8" cy="6.5" rx="2.3100000000000005" ry="2.64" fill="#5cee8c" opacity="0.6" transform="rotate(0 18.8 6.5)" filter="url(#b0_8)"/>
<ellipse cx="10" cy="13.2" rx="3.61" ry="3.9899999999999998" fill="#2cc65e" opacity="0.97" transform="rotate(0 10 13.2)" filter="url(#b0_5)"/>
<ellipse cx="9.8" cy="13.0" rx="2.09" ry="2.3100000000000005" fill="#5cee8c" opacity="0.6" transform="rotate(0 9.8 13.0)" filter="url(#b0_8)"/>
<ellipse cx="36.5" cy="10" rx="3.61" ry="4.369999999999999" fill="#2cc65e" opacity="0.97" transform="rotate(0 36.5 10)" filter="url(#b0_5)"/>
<ellipse cx="36.3" cy="9.8" rx="2.09" ry="2.53" fill="#5cee8c" opacity="0.6" transform="rotate(0 36.3 9.8)" filter="url(#b0_8)"/>
<ellipse cx="46.8" cy="2.6" rx="4.2749999999999995" ry="3.3249999999999997" fill="#2cc65e" opacity="0.97" transform="rotate(0 46.8 2.6)" filter="url(#b0_5)"/>
<ellipse cx="46.599999999999994" cy="2.4" rx="2.475" ry="1.9250000000000003" fill="#5cee8c" opacity="0.6" transform="rotate(0 46.599999999999994 2.4)" filter="url(#b0_8)"/>
<ellipse cx="19.9" cy="22.2" rx="3.42" ry="4.75" fill="#2cc65e" opacity="0.97" transform="rotate(0 19.9 22.2)" filter="url(#b0_5)"/>
<ellipse cx="19.7" cy="22.0" rx="1.9800000000000002" ry="2.75" fill="#5cee8c" opacity="0.6" transform="rotate(0 19.7 22.0)" filter="url(#b0_8)"/>
<ellipse cx="37.5" cy="27.6" rx="4.369999999999999" ry="3.42" fill="#2cc65e" opacity="0.97" transform="rotate(0 37.5 27.6)" filter="url(#b0_5)"/>
<ellipse cx="37.3" cy="27.400000000000002" rx="2.53" ry="1.9800000000000002" fill="#5cee8c" opacity="0.6" transform="rotate(0 37.3 27.400000000000002)" filter="url(#b0_8)"/>
<ellipse cx="54.2" cy="21.9" rx="3.9899999999999998" ry="3.9899999999999998" fill="#2cc65e" opacity="0.97" transform="rotate(0 54.2 21.9)" filter="url(#b0_5)"/>
<ellipse cx="54.0" cy="21.7" rx="2.3100000000000005" ry="2.3100000000000005" fill="#5cee8c" opacity="0.6" transform="rotate(0 54.0 21.7)" filter="url(#b0_8)"/>
<ellipse cx="64" cy="14.9" rx="4.56" ry="3.8" fill="#2cc65e" opacity="0.97" transform="rotate(0 64 14.9)" filter="url(#b0_5)"/>
<ellipse cx="63.8" cy="14.700000000000001" rx="2.64" ry="2.2" fill="#5cee8c" opacity="0.6" transform="rotate(0 63.8 14.700000000000001)" filter="url(#b0_8)"/>
<ellipse cx="28.8" cy="37.7" rx="4.369999999999999" ry="3.8" fill="#2cc65e" opacity="0.97" transform="rotate(0 28.8 37.7)" filter="url(#b0_5)"/>
<ellipse cx="28.6" cy="37.5" rx="2.53" ry="2.2" fill="#5cee8c" opacity="0.6" transform="rotate(0 28.6 37.5)" filter="url(#b0_8)"/>
<ellipse cx="59" cy="39.4" rx="4.369999999999999" ry="3.8" fill="#2cc65e" opacity="0.97" transform="rotate(0 59 39.4)" filter="url(#b0_5)"/>
<ellipse cx="58.8" cy="39.199999999999996" rx="2.53" ry="2.2" fill="#5cee8c" opacity="0.6" transform="rotate(0 58.8 39.199999999999996)" filter="url(#b0_8)"/>
<ellipse cx="74.6" cy="3.4" rx="3.9899999999999998" ry="3.42" fill="#2cc65e" opacity="0.97" transform="rotate(0 74.6 3.4)" filter="url(#b0_5)"/>
<ellipse cx="74.39999999999999" cy="3.1999999999999997" rx="2.3100000000000005" ry="1.9800000000000002" fill="#5cee8c" opacity="0.6" transform="rotate(0 74.39999999999999 3.1999999999999997)" filter="url(#b0_8)"/>
<ellipse cx="77.9" cy="36.9" rx="3.3249999999999997" ry="4.369999999999999" fill="#2cc65e" opacity="0.97" transform="rotate(0 77.9 36.9)" filter="url(#b0_5)"/>
<ellipse cx="77.7" cy="36.699999999999996" rx="1.9250000000000003" ry="2.53" fill="#5cee8c" opacity="0.6" transform="rotate(0 77.7 36.699999999999996)" filter="url(#b0_8)"/>
<ellipse cx="2.7" cy="35.3" rx="2.8499999999999996" ry="4.2749999999999995" fill="#2cc65e" opacity="0.97" transform="rotate(0 2.7 35.3)" filter="url(#b0_5)"/>
<ellipse cx="2.5" cy="35.099999999999994" rx="1.6500000000000001" ry="2.475" fill="#5cee8c" opacity="0.6" transform="rotate(0 2.5 35.099999999999994)" filter="url(#b0_8)"/>
<ellipse cx="77.9" cy="27" rx="3.04" ry="3.3249999999999997" fill="#2cc65e" opacity="0.97" transform="rotate(0 77.9 27)" filter="url(#b0_5)"/>
<ellipse cx="77.7" cy="26.8" rx="1.7600000000000002" ry="1.9250000000000003" fill="#5cee8c" opacity="0.6" transform="rotate(0 77.7 26.8)" filter="url(#b0_8)"/>
<ellipse cx="33" cy="47" rx="4.75" ry="2.375" fill="#2cc65e" opacity="0.97" transform="rotate(0 33 47)" filter="url(#b0_5)"/>
<ellipse cx="32.8" cy="46.8" rx="2.75" ry="1.375" fill="#5cee8c" opacity="0.6" transform="rotate(0 32.8 46.8)" filter="url(#b0_8)"/>
<ellipse cx="12" cy="46" rx="4.75" ry="2.375" fill="#2cc65e" opacity="0.97" transform="rotate(0 12 46)" filter="url(#b0_5)"/>
<ellipse cx="11.8" cy="45.8" rx="2.75" ry="1.375" fill="#5cee8c" opacity="0.6" transform="rotate(0 11.8 45.8)" filter="url(#b0_8)"/>
<rect width="80.40" height="48.20" fill="#021206" opacity="0.3" filter="url(#nf3)"/>

</svg>
<svg x="364.20" y="110.30" width="80.10" height="48.20" viewBox="0 0 80.10 48.20" overflow="hidden">
<rect width="80.10" height="48.20" fill="#04220c"/>
<ellipse cx="55" cy="5" rx="14.25" ry="9.0" fill="#17863a" opacity="0.48" transform="rotate(0 55 5)" filter="url(#b1_6)"/>
<ellipse cx="5.2" cy="23" rx="8.549999999999999" ry="10.8" fill="#17863a" opacity="0.48" transform="rotate(0 5.2 23)" filter="url(#b1_6)"/>
<ellipse cx="32" cy="29.5" rx="13.299999999999999" ry="8.28" fill="#17863a" opacity="0.48" transform="rotate(-20 32 29.5)" filter="url(#b1_6)"/>
<ellipse cx="68" cy="23" rx="9.5" ry="8.64" fill="#17863a" opacity="0.48" transform="rotate(0 68 23)" filter="url(#b1_6)"/>
<ellipse cx="50" cy="32.8" rx="9.12" ry="7.920000000000001" fill="#17863a" opacity="0.48" transform="rotate(0 50 32.8)" filter="url(#b1_6)"/>
<ellipse cx="66.4" cy="38.5" rx="14.25" ry="8.1" fill="#17863a" opacity="0.48" transform="rotate(-10 66.4 38.5)" filter="url(#b1_6)"/>
<ellipse cx="46" cy="43.4" rx="11.399999999999999" ry="6.48" fill="#17863a" opacity="0.48" transform="rotate(0 46 43.4)" filter="url(#b1_6)"/>
<ellipse cx="79.5" cy="6" rx="4.75" ry="7.2" fill="#17863a" opacity="0.48" transform="rotate(0 79.5 6)" filter="url(#b1_6)"/>
<ellipse cx="24" cy="44" rx="9.5" ry="5.4" fill="#17863a" opacity="0.48" transform="rotate(0 24 44)" filter="url(#b1_6)"/>
<rect width="80.10" height="48.20" fill="#010c04" opacity="0.6" filter="url(#nz4)"/>
<ellipse cx="55" cy="5" rx="7.125" ry="4.75" fill="#2cc65e" opacity="0.776" transform="rotate(0 55 5)" filter="url(#b1_2)"/>
<ellipse cx="54.8" cy="4.8" rx="4.125" ry="2.75" fill="#5cee8c" opacity="0.48" transform="rotate(0 54.8 4.8)" filter="url(#b0_8)"/>
<ellipse cx="5.2" cy="23" rx="4.2749999999999995" ry="5.699999999999999" fill="#2cc65e" opacity="0.776" transform="rotate(0 5.2 23)" filter="url(#b1_2)"/>
<ellipse cx="5.0" cy="22.8" rx="2.475" ry="3.3000000000000003" fill="#5cee8c" opacity="0.48" transform="rotate(0 5.0 22.8)" filter="url(#b0_8)"/>
<ellipse cx="32" cy="29.5" rx="6.6499999999999995" ry="4.369999999999999" fill="#2cc65e" opacity="0.9215" transform="rotate(-20 32 29.5)" filter="url(#b1_2)"/>
<ellipse cx="31.8" cy="29.3" rx="3.8500000000000005" ry="2.53" fill="#5cee8c" opacity="0.57" transform="rotate(-20 31.8 29.3)" filter="url(#b0_8)"/>
<ellipse cx="68" cy="23" rx="4.75" ry="4.56" fill="#2cc65e" opacity="0.6305" transform="rotate(0 68 23)" filter="url(#b1_2)"/>
<ellipse cx="67.8" cy="22.8" rx="2.75" ry="2.64" fill="#5cee8c" opacity="0.39" transform="rotate(0 67.8 22.8)" filter="url(#b0_8)"/>
<ellipse cx="50" cy="32.8" rx="4.56" ry="4.18" fill="#2cc65e" opacity="0.582" transform="rotate(0 50 32.8)" filter="url(#b1_2)"/>
<ellipse cx="49.8" cy="32.599999999999994" rx="2.64" ry="2.4200000000000004" fill="#5cee8c" opacity="0.36" transform="rotate(0 49.8 32.599999999999994)" filter="url(#b0_8)"/>
<ellipse cx="66.4" cy="38.5" rx="7.125" ry="4.2749999999999995" fill="#2cc65e" opacity="0.7275" transform="rotate(-10 66.4 38.5)" filter="url(#b1_2)"/>
<ellipse cx="66.2" cy="38.3" rx="4.125" ry="2.475" fill="#5cee8c" opacity="0.44999999999999996" transform="rotate(-10 66.2 38.3)" filter="url(#b0_8)"/>
<ellipse cx="46" cy="43.4" rx="5.699999999999999" ry="3.42" fill="#2cc65e" opacity="0.7275" transform="rotate(0 46 43.4)" filter="url(#b1_2)"/>
<ellipse cx="45.8" cy="43.199999999999996" rx="3.3000000000000003" ry="1.9800000000000002" fill="#5cee8c" opacity="0.44999999999999996" transform="rotate(0 45.8 43.199999999999996)" filter="url(#b0_8)"/>
<ellipse cx="79.5" cy="6" rx="2.375" ry="3.8" fill="#2cc65e" opacity="0.6789999999999999" transform="rotate(0 79.5 6)" filter="url(#b1_2)"/>
<ellipse cx="79.3" cy="5.8" rx="1.375" ry="2.2" fill="#5cee8c" opacity="0.42" transform="rotate(0 79.3 5.8)" filter="url(#b0_8)"/>
<ellipse cx="24" cy="44" rx="4.75" ry="2.8499999999999996" fill="#2cc65e" opacity="0.388" transform="rotate(0 24 44)" filter="url(#b1_2)"/>
<ellipse cx="23.8" cy="43.8" rx="2.75" ry="1.6500000000000001" fill="#5cee8c" opacity="0.24" transform="rotate(0 23.8 43.8)" filter="url(#b0_8)"/>
<ellipse cx="37" cy="22" rx="1.6" ry="1.4" fill="#5cee8c" opacity="0.9" transform="rotate(0 37 22)" filter="url(#b0_5)"/>
<rect width="80.10" height="48.20" fill="#010c04" opacity="0.3" filter="url(#nf4)"/>

</svg>
<svg x="281.40" y="160.00" width="80.40" height="48.50" viewBox="0 0 80.40 48.50" overflow="hidden">
<rect width="80.40" height="48.50" fill="#0a3c17"/>
<ellipse cx="22" cy="2" rx="14" ry="4" fill="#2aae4e" opacity="0.8" transform="rotate(0 22 2)" filter="url(#b2_0)"/>
<ellipse cx="50" cy="3" rx="10" ry="3" fill="#2aae4e" opacity="0.6" transform="rotate(0 50 3)" filter="url(#b2_0)"/>
<ellipse cx="42.7" cy="17.6" rx="7.6" ry="10.8" fill="#30ae42" opacity="0.87" transform="rotate(10 42.7 17.6)" filter="url(#b1_6)"/>
<ellipse cx="60.7" cy="10.3" rx="7.6" ry="11.16" fill="#30ae42" opacity="0.87" transform="rotate(10 60.7 10.3)" filter="url(#b1_6)"/>
<ellipse cx="19.9" cy="28.2" rx="9.5" ry="7.2" fill="#30ae42" opacity="0.87" transform="rotate(0 19.9 28.2)" filter="url(#b1_6)"/>
<ellipse cx="18.2" cy="13.5" rx="9.5" ry="7.2" fill="#30ae42" opacity="0.87" transform="rotate(0 18.2 13.5)" filter="url(#b1_6)"/>
<ellipse cx="59" cy="34" rx="9.5" ry="7.2" fill="#30ae42" opacity="0.87" transform="rotate(0 59 34)" filter="url(#b1_6)"/>
<ellipse cx="46.8" cy="39.7" rx="9.5" ry="7.2" fill="#30ae42" opacity="0.87" transform="rotate(0 46.8 39.7)" filter="url(#b1_6)"/>
<ellipse cx="74.6" cy="38.9" rx="9.5" ry="7.5600000000000005" fill="#30ae42" opacity="0.87" transform="rotate(0 74.6 38.9)" filter="url(#b1_6)"/>
<ellipse cx="78.7" cy="25.8" rx="5.699999999999999" ry="9.0" fill="#30ae42" opacity="0.87" transform="rotate(0 78.7 25.8)" filter="url(#b1_6)"/>
<ellipse cx="24" cy="45.4" rx="10.45" ry="6.3" fill="#30ae42" opacity="0.87" transform="rotate(0 24 45.4)" filter="url(#b1_6)"/>
<ellipse cx="77" cy="4.5" rx="6.6499999999999995" ry="8.1" fill="#30ae42" opacity="0.87" transform="rotate(0 77 4.5)" filter="url(#b1_6)"/>
<ellipse cx="3.5" cy="37" rx="6.6499999999999995" ry="10.8" fill="#30ae42" opacity="0.87" transform="rotate(0 3.5 37)" filter="url(#b1_6)"/>
<ellipse cx="35" cy="30" rx="7.6" ry="5.4" fill="#30ae42" opacity="0.87" transform="rotate(0 35 30)" filter="url(#b1_6)"/>
<rect width="80.40" height="48.50" fill="#03210b" opacity="0.55" filter="url(#nz5)"/>
<ellipse cx="42.7" cy="17.6" rx="3.8" ry="5.699999999999999" fill="#2cc65e" opacity="0.97" transform="rotate(10 42.7 17.6)" filter="url(#b0_5)"/>
<ellipse cx="42.5" cy="17.400000000000002" rx="2.2" ry="3.3000000000000003" fill="#5cee8c" opacity="0.6" transform="rotate(10 42.5 17.400000000000002)" filter="url(#b0_8)"/>
<ellipse cx="60.7" cy="10.3" rx="3.8" ry="5.89" fill="#2cc65e" opacity="0.97" transform="rotate(10 60.7 10.3)" filter="url(#b0_5)"/>
<ellipse cx="60.5" cy="10.100000000000001" rx="2.2" ry="3.4100000000000006" fill="#5cee8c" opacity="0.6" transform="rotate(10 60.5 10.100000000000001)" filter="url(#b0_8)"/>
<ellipse cx="19.9" cy="28.2" rx="4.75" ry="3.8" fill="#2cc65e" opacity="0.97" transform="rotate(0 19.9 28.2)" filter="url(#b0_5)"/>
<ellipse cx="19.7" cy="28.0" rx="2.75" ry="2.2" fill="#5cee8c" opacity="0.6" transform="rotate(0 19.7 28.0)" filter="url(#b0_8)"/>
<ellipse cx="18.2" cy="13.5" rx="4.75" ry="3.8" fill="#2cc65e" opacity="0.7275" transform="rotate(0 18.2 13.5)" filter="url(#b0_5)"/>
<ellipse cx="18.0" cy="13.3" rx="2.75" ry="2.2" fill="#5cee8c" opacity="0.44999999999999996" transform="rotate(0 18.0 13.3)" filter="url(#b0_8)"/>
<ellipse cx="59" cy="34" rx="4.75" ry="3.8" fill="#2cc65e" opacity="0.97" transform="rotate(0 59 34)" filter="url(#b0_5)"/>
<ellipse cx="58.8" cy="33.8" rx="2.75" ry="2.2" fill="#5cee8c" opacity="0.6" transform="rotate(0 58.8 33.8)" filter="url(#b0_8)"/>
<ellipse cx="46.8" cy="39.7" rx="4.75" ry="3.8" fill="#2cc65e" opacity="0.97" transform="rotate(0 46.8 39.7)" filter="url(#b0_5)"/>
<ellipse cx="46.599999999999994" cy="39.5" rx="2.75" ry="2.2" fill="#5cee8c" opacity="0.6" transform="rotate(0 46.599999999999994 39.5)" filter="url(#b0_8)"/>
<ellipse cx="74.6" cy="38.9" rx="4.75" ry="3.9899999999999998" fill="#2cc65e" opacity="0.97" transform="rotate(0 74.6 38.9)" filter="url(#b0_5)"/>
<ellipse cx="74.39999999999999" cy="38.699999999999996" rx="2.75" ry="2.3100000000000005" fill="#5cee8c" opacity="0.6" transform="rotate(0 74.39999999999999 38.699999999999996)" filter="url(#b0_8)"/>
<ellipse cx="78.7" cy="25.8" rx="2.8499999999999996" ry="4.75" fill="#2cc65e" opacity="0.97" transform="rotate(0 78.7 25.8)" filter="url(#b0_5)"/>
<ellipse cx="78.5" cy="25.6" rx="1.6500000000000001" ry="2.75" fill="#5cee8c" opacity="0.6" transform="rotate(0 78.5 25.6)" filter="url(#b0_8)"/>
<ellipse cx="24" cy="45.4" rx="5.225" ry="3.3249999999999997" fill="#2cc65e" opacity="0.873" transform="rotate(0 24 45.4)" filter="url(#b0_5)"/>
<ellipse cx="23.8" cy="45.199999999999996" rx="3.0250000000000004" ry="1.9250000000000003" fill="#5cee8c" opacity="0.54" transform="rotate(0 23.8 45.199999999999996)" filter="url(#b0_8)"/>
<ellipse cx="77" cy="4.5" rx="3.3249999999999997" ry="4.2749999999999995" fill="#2cc65e" opacity="0.873" transform="rotate(0 77 4.5)" filter="url(#b0_5)"/>
<ellipse cx="76.8" cy="4.3" rx="1.9250000000000003" ry="2.475" fill="#5cee8c" opacity="0.54" transform="rotate(0 76.8 4.3)" filter="url(#b0_8)"/>
<ellipse cx="3.5" cy="37" rx="3.3249999999999997" ry="5.699999999999999" fill="#2cc65e" opacity="0.873" transform="rotate(0 3.5 37)" filter="url(#b0_5)"/>
<ellipse cx="3.3" cy="36.8" rx="1.9250000000000003" ry="3.3000000000000003" fill="#5cee8c" opacity="0.54" transform="rotate(0 3.3 36.8)" filter="url(#b0_8)"/>
<ellipse cx="35" cy="30" rx="3.8" ry="2.8499999999999996" fill="#2cc65e" opacity="0.388" transform="rotate(0 35 30)" filter="url(#b0_5)"/>
<ellipse cx="34.8" cy="29.8" rx="2.2" ry="1.6500000000000001" fill="#5cee8c" opacity="0.24" transform="rotate(0 34.8 29.8)" filter="url(#b0_8)"/>
<rect width="80.40" height="48.50" fill="#03210b" opacity="0.3" filter="url(#nf5)"/>
<g transform="translate(42.3,28.6) rotate(45)"><path d="M-5.0 0H-1.5" stroke="#fff" stroke-width="0.9"/><path d="M0 0L-2.6 -1.4V1.4Z" fill="#fff"/></g>
</svg>
<svg x="364.20" y="160.00" width="80.10" height="48.50" viewBox="0 0 80.10 48.50" overflow="hidden">
<rect width="80.10" height="48.50" fill="#04240d"/>
<ellipse cx="52.5" cy="10" rx="17" ry="5.5" fill="#2aae4e" opacity="0.75" transform="rotate(18 52.5 10)" filter="url(#b2_0)"/>
<ellipse cx="52.5" cy="10" rx="21.849999999999998" ry="6.84" fill="#17863a" opacity="0.48" transform="rotate(18 52.5 10)" filter="url(#b1_6)"/>
<ellipse cx="30.5" cy="18.4" rx="9.5" ry="6.48" fill="#17863a" opacity="0.48" transform="rotate(0 30.5 18.4)" filter="url(#b1_6)"/>
<ellipse cx="10" cy="16" rx="8.739999999999998" ry="7.2" fill="#17863a" opacity="0.48" transform="rotate(0 10 16)" filter="url(#b1_6)"/>
<ellipse cx="52.5" cy="25.8" rx="9.879999999999999" ry="7.2" fill="#17863a" opacity="0.48" transform="rotate(-10 52.5 25.8)" filter="url(#b1_6)"/>
<ellipse cx="19.9" cy="37.2" rx="8.739999999999998" ry="8.28" fill="#17863a" opacity="0.48" transform="rotate(0 19.9 37.2)" filter="url(#b1_6)"/>
<ellipse cx="2.7" cy="37.2" rx="6.84" ry="7.5600000000000005" fill="#17863a" opacity="0.48" transform="rotate(0 2.7 37.2)" filter="url(#b1_6)"/>
<ellipse cx="37" cy="43" rx="11.399999999999999" ry="7.2" fill="#17863a" opacity="0.48" transform="rotate(0 37 43)" filter="url(#b1_6)"/>
<ellipse cx="73.8" cy="38.8" rx="7.9799999999999995" ry="11.700000000000001" fill="#17863a" opacity="0.48" transform="rotate(0 73.8 38.8)" filter="url(#b1_6)"/>
<ellipse cx="24" cy="1.3" rx="9.5" ry="4.5" fill="#17863a" opacity="0.48" transform="rotate(0 24 1.3)" filter="url(#b1_6)"/>
<rect width="80.10" height="48.50" fill="#010c04" opacity="0.6" filter="url(#nz6)"/>
<ellipse cx="52.5" cy="10" rx="10.924999999999999" ry="3.61" fill="#2cc65e" opacity="0.97" transform="rotate(18 52.5 10)" filter="url(#b0_5)"/>
<ellipse cx="52.3" cy="9.8" rx="6.325" ry="2.09" fill="#5cee8c" opacity="0.6" transform="rotate(18 52.3 9.8)" filter="url(#b0_8)"/>
<ellipse cx="30.5" cy="18.4" rx="4.75" ry="3.42" fill="#2cc65e" opacity="0.873" transform="rotate(0 30.5 18.4)" filter="url(#b0_5)"/>
<ellipse cx="30.3" cy="18.2" rx="2.75" ry="1.9800000000000002" fill="#5cee8c" opacity="0.54" transform="rotate(0 30.3 18.2)" filter="url(#b0_8)"/>
<ellipse cx="10" cy="16" rx="4.369999999999999" ry="3.8" fill="#2cc65e" opacity="0.776" transform="rotate(0 10 16)" filter="url(#b0_5)"/>
<ellipse cx="9.8" cy="15.8" rx="2.53" ry="2.2" fill="#5cee8c" opacity="0.48" transform="rotate(0 9.8 15.8)" filter="url(#b0_8)"/>
<ellipse cx="52.5" cy="25.8" rx="4.9399999999999995" ry="3.8" fill="#2cc65e" opacity="0.8245" transform="rotate(-10 52.5 25.8)" filter="url(#b0_5)"/>
<ellipse cx="52.3" cy="25.6" rx="2.8600000000000003" ry="2.2" fill="#5cee8c" opacity="0.51" transform="rotate(-10 52.3 25.6)" filter="url(#b0_8)"/>
<ellipse cx="19.9" cy="37.2" rx="4.369999999999999" ry="4.369999999999999" fill="#2cc65e" opacity="0.873" transform="rotate(0 19.9 37.2)" filter="url(#b0_5)"/>
<ellipse cx="19.7" cy="37.0" rx="2.53" ry="2.53" fill="#5cee8c" opacity="0.54" transform="rotate(0 19.7 37.0)" filter="url(#b0_8)"/>
<ellipse cx="2.7" cy="37.2" rx="3.42" ry="3.9899999999999998" fill="#2cc65e" opacity="0.97" transform="rotate(0 2.7 37.2)" filter="url(#b0_5)"/>
<ellipse cx="2.5" cy="37.0" rx="1.9800000000000002" ry="2.3100000000000005" fill="#5cee8c" opacity="0.6" transform="rotate(0 2.5 37.0)" filter="url(#b0_8)"/>
<ellipse cx="37" cy="43" rx="5.699999999999999" ry="3.8" fill="#2cc65e" opacity="0.873" transform="rotate(0 37 43)" filter="url(#b0_5)"/>
<ellipse cx="36.8" cy="42.8" rx="3.3000000000000003" ry="2.2" fill="#5cee8c" opacity="0.54" transform="rotate(0 36.8 42.8)" filter="url(#b0_8)"/>
<ellipse cx="73.8" cy="38.8" rx="3.9899999999999998" ry="6.175" fill="#2cc65e" opacity="0.9215" transform="rotate(0 73.8 38.8)" filter="url(#b0_5)"/>
<ellipse cx="73.6" cy="38.599999999999994" rx="2.3100000000000005" ry="3.575" fill="#5cee8c" opacity="0.57" transform="rotate(0 73.6 38.599999999999994)" filter="url(#b0_8)"/>
<ellipse cx="24" cy="1.3" rx="4.75" ry="2.375" fill="#2cc65e" opacity="0.776" transform="rotate(0 24 1.3)" filter="url(#b0_5)"/>
<ellipse cx="23.8" cy="1.1" rx="2.75" ry="1.375" fill="#5cee8c" opacity="0.48" transform="rotate(0 23.8 1.1)" filter="url(#b0_8)"/>
<rect width="80.10" height="48.50" fill="#010c04" opacity="0.3" filter="url(#nf6)"/>

</svg>
<svg x="282.00" y="224.20" width="79.80" height="48.60" viewBox="0 0 79.80 48.60" overflow="hidden">
<rect width="79.80" height="48.60" fill="#031d0a"/>
<ellipse cx="33.7" cy="6.7" rx="8.74" ry="6.6240000000000006" fill="#17863a" opacity="0.36" transform="rotate(0 33.7 6.7)" filter="url(#b1_6)"/>
<ellipse cx="9.2" cy="14.9" rx="8.74" ry="7.452000000000001" fill="#17863a" opacity="0.36" transform="rotate(0 9.2 14.9)" filter="url(#b1_6)"/>
<ellipse cx="50" cy="19.8" rx="10.488" ry="9.936000000000002" fill="#17863a" opacity="0.36" transform="rotate(0 50 19.8)" filter="url(#b1_6)"/>
<ellipse cx="56.3" cy="8.3" rx="6.992" ry="8.280000000000001" fill="#17863a" opacity="0.36" transform="rotate(0 56.3 8.3)" filter="url(#b1_6)"/>
<ellipse cx="35" cy="34.5" rx="8.74" ry="8.280000000000001" fill="#17863a" opacity="0.36" transform="rotate(0 35 34.5)" filter="url(#b1_6)"/>
<ellipse cx="57.4" cy="35.3" rx="6.992" ry="8.280000000000001" fill="#17863a" opacity="0.36" transform="rotate(0 57.4 35.3)" filter="url(#b1_6)"/>
<ellipse cx="31.3" cy="47" rx="8.74" ry="4.968000000000001" fill="#17863a" opacity="0.36" transform="rotate(0 31.3 47)" filter="url(#b1_6)"/>
<ellipse cx="78" cy="40" rx="5.244" ry="6.6240000000000006" fill="#17863a" opacity="0.36" transform="rotate(0 78 40)" filter="url(#b1_6)"/>
<rect width="79.80" height="48.60" fill="#010b03" opacity="0.6" filter="url(#nz7)"/>
<ellipse cx="33.7" cy="6.7" rx="4.37" ry="3.496" fill="#2cc65e" opacity="0.84778" transform="rotate(0 33.7 6.7)" filter="url(#b1_0)"/>
<ellipse cx="33.5" cy="6.5" rx="2.5300000000000007" ry="2.0240000000000005" fill="#5cee8c" opacity="0.5244" transform="rotate(0 33.5 6.5)" filter="url(#b0_8)"/>
<ellipse cx="9.2" cy="14.9" rx="4.37" ry="3.9330000000000003" fill="#2cc65e" opacity="0.75854" transform="rotate(0 9.2 14.9)" filter="url(#b1_0)"/>
<ellipse cx="9.0" cy="14.700000000000001" rx="2.5300000000000007" ry="2.2770000000000006" fill="#5cee8c" opacity="0.4692" transform="rotate(0 9.0 14.700000000000001)" filter="url(#b0_8)"/>
<ellipse cx="50" cy="19.8" rx="5.244" ry="5.244" fill="#2cc65e" opacity="0.4462" transform="rotate(0 50 19.8)" filter="url(#b1_0)"/>
<ellipse cx="49.8" cy="19.6" rx="3.0360000000000005" ry="3.0360000000000005" fill="#5cee8c" opacity="0.276" transform="rotate(0 49.8 19.6)" filter="url(#b0_8)"/>
<ellipse cx="56.3" cy="8.3" rx="3.496" ry="4.37" fill="#2cc65e" opacity="0.4462" transform="rotate(0 56.3 8.3)" filter="url(#b1_0)"/>
<ellipse cx="56.099999999999994" cy="8.100000000000001" rx="2.0240000000000005" ry="2.5300000000000007" fill="#5cee8c" opacity="0.276" transform="rotate(0 56.099999999999994 8.100000000000001)" filter="url(#b0_8)"/>
<ellipse cx="35" cy="34.5" rx="4.37" ry="4.37" fill="#2cc65e" opacity="0.8924" transform="rotate(0 35 34.5)" filter="url(#b1_0)"/>
<ellipse cx="34.8" cy="34.3" rx="2.5300000000000007" ry="2.5300000000000007" fill="#5cee8c" opacity="0.552" transform="rotate(0 34.8 34.3)" filter="url(#b0_8)"/>
<ellipse cx="57.4" cy="35.3" rx="3.496" ry="4.37" fill="#2cc65e" opacity="0.8031600000000001" transform="rotate(0 57.4 35.3)" filter="url(#b1_0)"/>
<ellipse cx="57.199999999999996" cy="35.099999999999994" rx="2.0240000000000005" ry="2.5300000000000007" fill="#5cee8c" opacity="0.4968" transform="rotate(0 57.199999999999996 35.099999999999994)" filter="url(#b0_8)"/>
<ellipse cx="31.3" cy="47" rx="4.37" ry="2.622" fill="#2cc65e" opacity="0.7139200000000001" transform="rotate(0 31.3 47)" filter="url(#b1_0)"/>
<ellipse cx="31.1" cy="46.8" rx="2.5300000000000007" ry="1.5180000000000002" fill="#5cee8c" opacity="0.44160000000000005" transform="rotate(0 31.1 46.8)" filter="url(#b0_8)"/>
<ellipse cx="78" cy="40" rx="2.622" ry="3.496" fill="#2cc65e" opacity="0.26772" transform="rotate(0 78 40)" filter="url(#b1_0)"/>
<ellipse cx="77.8" cy="39.8" rx="1.5180000000000002" ry="2.0240000000000005" fill="#5cee8c" opacity="0.1656" transform="rotate(0 77.8 39.8)" filter="url(#b0_8)"/>
<rect width="79.80" height="48.60" fill="#010b03" opacity="0.3" filter="url(#nf7)"/>

</svg>
<svg x="364.20" y="224.20" width="80.10" height="48.60" viewBox="0 0 80.10 48.60" overflow="hidden">
<rect width="80.10" height="48.60" fill="#062a11"/>
<ellipse cx="40" cy="24" rx="44" ry="26" fill="#0b4a1e" opacity="0.55" transform="rotate(0 40 24)" filter="url(#b3_0)"/>
<ellipse cx="27.3" cy="15.6" rx="14" ry="6.5" fill="#33b244" opacity="1" transform="rotate(-42 27.3 15.6)" filter="url(#b1_2)"/>
<ellipse cx="27.3" cy="15.6" rx="7.700000000000001" ry="3.575" fill="#55da60" opacity="0.7" transform="rotate(-42 27.3 15.6)" filter="url(#b1_2)"/>
<ellipse cx="35" cy="21.5" rx="5.5" ry="9" fill="#33b244" opacity="0.98" transform="rotate(15 35 21.5)" filter="url(#b1_2)"/>
<ellipse cx="35" cy="21.5" rx="3.0250000000000004" ry="4.95" fill="#55da60" opacity="0.7" transform="rotate(15 35 21.5)" filter="url(#b1_2)"/>
<ellipse cx="47.5" cy="18.7" rx="5" ry="8" fill="#33b244" opacity="0.98" transform="rotate(0 47.5 18.7)" filter="url(#b1_2)"/>
<ellipse cx="47.5" cy="18.7" rx="2.75" ry="4.4" fill="#55da60" opacity="0.7" transform="rotate(0 47.5 18.7)" filter="url(#b1_2)"/>
<ellipse cx="60.7" cy="9.3" rx="9" ry="7" fill="#33b244" opacity="0.98" transform="rotate(0 60.7 9.3)" filter="url(#b1_2)"/>
<ellipse cx="60.7" cy="9.3" rx="4.95" ry="3.8500000000000005" fill="#55da60" opacity="0.7" transform="rotate(0 60.7 9.3)" filter="url(#b1_2)"/>
<ellipse cx="30" cy="3.5" rx="8" ry="3.5" fill="#33b244" opacity="0.88" transform="rotate(0 30 3.5)" filter="url(#b1_2)"/>
<ellipse cx="30" cy="3.5" rx="4.4" ry="1.9250000000000003" fill="#55da60" opacity="0.7" transform="rotate(0 30 3.5)" filter="url(#b1_2)"/>
<ellipse cx="7" cy="25" rx="5" ry="9" fill="#33b244" opacity="0.9299999999999999" transform="rotate(20 7 25)" filter="url(#b1_2)"/>
<ellipse cx="7" cy="25" rx="2.75" ry="4.95" fill="#55da60" opacity="0.7" transform="rotate(20 7 25)" filter="url(#b1_2)"/>
<ellipse cx="68.5" cy="36.6" rx="8" ry="9" fill="#33b244" opacity="0.98" transform="rotate(0 68.5 36.6)" filter="url(#b1_2)"/>
<ellipse cx="68.5" cy="36.6" rx="4.4" ry="4.95" fill="#55da60" opacity="0.7" transform="rotate(0 68.5 36.6)" filter="url(#b1_2)"/>
<ellipse cx="15.6" cy="43.6" rx="11" ry="5" fill="#33b244" opacity="0.98" transform="rotate(0 15.6 43.6)" filter="url(#b1_2)"/>
<ellipse cx="15.6" cy="43.6" rx="6.050000000000001" ry="2.75" fill="#55da60" opacity="0.7" transform="rotate(0 15.6 43.6)" filter="url(#b1_2)"/>
<ellipse cx="76" cy="6" rx="5" ry="6" fill="#33b244" opacity="0.88" transform="rotate(0 76 6)" filter="url(#b1_2)"/>
<ellipse cx="76" cy="6" rx="2.75" ry="3.3000000000000003" fill="#55da60" opacity="0.7" transform="rotate(0 76 6)" filter="url(#b1_2)"/>
<ellipse cx="52" cy="44" rx="8" ry="4" fill="#33b244" opacity="0.63" transform="rotate(0 52 44)" filter="url(#b1_2)"/>
<ellipse cx="52" cy="44" rx="4.4" ry="2.2" fill="#55da60" opacity="0.7" transform="rotate(0 52 44)" filter="url(#b1_2)"/>
<ellipse cx="76" cy="22" rx="4" ry="6" fill="#33b244" opacity="0.6799999999999999" transform="rotate(0 76 22)" filter="url(#b1_2)"/>
<ellipse cx="76" cy="22" rx="2.2" ry="3.3000000000000003" fill="#55da60" opacity="0.7" transform="rotate(0 76 22)" filter="url(#b1_2)"/>
<ellipse cx="44.4" cy="32" rx="8.5" ry="6.5" fill="#020d05" opacity="0.95" transform="rotate(0 44.4 32)" filter="url(#b1_6)"/>
<ellipse cx="20" cy="4.7" rx="5" ry="4" fill="#020d05" opacity="0.8" transform="rotate(0 20 4.7)" filter="url(#b1_6)"/>
<ellipse cx="62" cy="25" rx="4.5" ry="5.5" fill="#020d05" opacity="0.75" transform="rotate(0 62 25)" filter="url(#b1_6)"/>
<ellipse cx="3" cy="43" rx="4" ry="5" fill="#020d05" opacity="0.7" transform="rotate(0 3 43)" filter="url(#b2_0)"/>
<ellipse cx="36" cy="40" rx="6" ry="4" fill="#020d05" opacity="0.5" transform="rotate(0 36 40)" filter="url(#b2_0)"/>
<rect width="80.10" height="48.60" fill="#021207" opacity="0.45" filter="url(#nz8)"/>
<rect width="80.10" height="48.60" fill="#021207" opacity="0.3" filter="url(#nf8)"/>
<g transform="translate(10.6,32.6) rotate(45)"><path d="M-5.0 0H-1.5" stroke="#fff" stroke-width="0.9"/><path d="M0 0L-2.6 -1.4V1.4Z" fill="#fff"/></g>
</svg>
<svg x="282.00" y="274.00" width="79.80" height="48.20" viewBox="0 0 79.80 48.20" overflow="hidden">
<rect width="79.80" height="48.20" fill="#031b09"/>
<ellipse cx="15.8" cy="18.4" rx="8.74" ry="6.9552000000000005" fill="#17863a" opacity="0.33" transform="rotate(0 15.8 18.4)" filter="url(#b1_6)"/>
<ellipse cx="36.2" cy="19.2" rx="9.614" ry="10.764000000000001" fill="#17863a" opacity="0.33" transform="rotate(30 36.2 19.2)" filter="url(#b1_6)"/>
<ellipse cx="54.2" cy="18.4" rx="12.236" ry="8.280000000000001" fill="#17863a" opacity="0.33" transform="rotate(0 54.2 18.4)" filter="url(#b1_6)"/>
<ellipse cx="14.1" cy="40.5" rx="10.488" ry="6.6240000000000006" fill="#17863a" opacity="0.33" transform="rotate(0 14.1 40.5)" filter="url(#b1_6)"/>
<ellipse cx="41" cy="39.7" rx="8.74" ry="5.961600000000001" fill="#17863a" opacity="0.33" transform="rotate(0 41 39.7)" filter="url(#b1_6)"/>
<ellipse cx="77.9" cy="40.5" rx="6.992" ry="6.6240000000000006" fill="#17863a" opacity="0.33" transform="rotate(0 77.9 40.5)" filter="url(#b1_6)"/>
<ellipse cx="79" cy="12" rx="3.496" ry="8.280000000000001" fill="#17863a" opacity="0.33" transform="rotate(0 79 12)" filter="url(#b1_6)"/>
<rect width="79.80" height="48.20" fill="#010b03" opacity="0.6" filter="url(#nz9)"/>
<ellipse cx="15.8" cy="18.4" rx="4.37" ry="3.6708000000000003" fill="#2cc65e" opacity="0.6596000000000001" transform="rotate(0 15.8 18.4)" filter="url(#b1_2)"/>
<ellipse cx="15.600000000000001" cy="18.2" rx="2.5300000000000007" ry="2.1252000000000004" fill="#5cee8c" opacity="0.40800000000000003" transform="rotate(0 15.600000000000001 18.2)" filter="url(#b0_8)"/>
<ellipse cx="36.2" cy="19.2" rx="4.807" ry="5.681" fill="#2cc65e" opacity="0.6183749999999999" transform="rotate(30 36.2 19.2)" filter="url(#b1_2)"/>
<ellipse cx="36.0" cy="19.0" rx="2.7830000000000004" ry="3.2890000000000006" fill="#5cee8c" opacity="0.38249999999999995" transform="rotate(30 36.0 19.0)" filter="url(#b0_8)"/>
<ellipse cx="54.2" cy="18.4" rx="6.118" ry="4.37" fill="#2cc65e" opacity="0.7008249999999999" transform="rotate(0 54.2 18.4)" filter="url(#b1_2)"/>
<ellipse cx="54.0" cy="18.2" rx="3.5420000000000007" ry="2.5300000000000007" fill="#5cee8c" opacity="0.43349999999999994" transform="rotate(0 54.0 18.2)" filter="url(#b0_8)"/>
<ellipse cx="14.1" cy="40.5" rx="5.244" ry="3.496" fill="#2cc65e" opacity="0.74205" transform="rotate(0 14.1 40.5)" filter="url(#b1_2)"/>
<ellipse cx="13.9" cy="40.3" rx="3.0360000000000005" ry="2.0240000000000005" fill="#5cee8c" opacity="0.45899999999999996" transform="rotate(0 13.9 40.3)" filter="url(#b0_8)"/>
<ellipse cx="41" cy="39.7" rx="4.37" ry="3.1464000000000003" fill="#2cc65e" opacity="0.6596000000000001" transform="rotate(0 41 39.7)" filter="url(#b1_2)"/>
<ellipse cx="40.8" cy="39.5" rx="2.5300000000000007" ry="1.8216000000000003" fill="#5cee8c" opacity="0.40800000000000003" transform="rotate(0 40.8 39.5)" filter="url(#b0_8)"/>
<ellipse cx="77.9" cy="40.5" rx="3.496" ry="3.496" fill="#2cc65e" opacity="0.28857499999999997" transform="rotate(0 77.9 40.5)" filter="url(#b1_2)"/>
<ellipse cx="77.7" cy="40.3" rx="2.0240000000000005" ry="2.0240000000000005" fill="#5cee8c" opacity="0.1785" transform="rotate(0 77.7 40.3)" filter="url(#b0_8)"/>
<ellipse cx="79" cy="12" rx="1.748" ry="4.37" fill="#2cc65e" opacity="0.4947" transform="rotate(0 79 12)" filter="url(#b1_2)"/>
<ellipse cx="78.8" cy="11.8" rx="1.0120000000000002" ry="2.5300000000000007" fill="#5cee8c" opacity="0.306" transform="rotate(0 78.8 11.8)" filter="url(#b0_8)"/>
<rect width="79.80" height="48.20" fill="#010b03" opacity="0.3" filter="url(#nf9)"/>

</svg>
<svg x="364.20" y="274.00" width="80.10" height="48.20" viewBox="0 0 80.10 48.20" overflow="hidden">
<rect width="80.10" height="48.20" fill="#0f5222"/>
<ellipse cx="40" cy="24" rx="46" ry="28" fill="#209634" opacity="0.9" transform="rotate(0 40 24)" filter="url(#b3_0)"/>
<ellipse cx="39" cy="25.7" rx="7" ry="9" fill="#40ca50" opacity="0.95" transform="rotate(15 39 25.7)" filter="url(#b1_2)"/>
<ellipse cx="39" cy="25.7" rx="3.5" ry="4.5" fill="#6ee878" opacity="0.6" transform="rotate(15 39 25.7)" filter="url(#b1_2)"/>
<ellipse cx="53" cy="21.8" rx="8" ry="7" fill="#40ca50" opacity="0.85" transform="rotate(0 53 21.8)" filter="url(#b1_2)"/>
<ellipse cx="53" cy="21.8" rx="4.0" ry="3.5" fill="#6ee878" opacity="0.6" transform="rotate(0 53 21.8)" filter="url(#b1_2)"/>
<ellipse cx="7.8" cy="17" rx="7" ry="9" fill="#40ca50" opacity="0.9" transform="rotate(0 7.8 17)" filter="url(#b1_2)"/>
<ellipse cx="7.8" cy="17" rx="3.5" ry="4.5" fill="#6ee878" opacity="0.6" transform="rotate(0 7.8 17)" filter="url(#b1_2)"/>
<ellipse cx="26.5" cy="25" rx="5" ry="8" fill="#40ca50" opacity="0.8" transform="rotate(20 26.5 25)" filter="url(#b1_2)"/>
<ellipse cx="26.5" cy="25" rx="2.5" ry="4.0" fill="#6ee878" opacity="0.6" transform="rotate(20 26.5 25)" filter="url(#b1_2)"/>
<ellipse cx="57.6" cy="7.8" rx="13" ry="6" fill="#40ca50" opacity="0.9" transform="rotate(0 57.6 7.8)" filter="url(#b1_2)"/>
<ellipse cx="57.6" cy="7.8" rx="6.5" ry="3.0" fill="#6ee878" opacity="0.6" transform="rotate(0 57.6 7.8)" filter="url(#b1_2)"/>
<ellipse cx="70" cy="26.5" rx="6" ry="10" fill="#40ca50" opacity="0.85" transform="rotate(0 70 26.5)" filter="url(#b1_2)"/>
<ellipse cx="70" cy="26.5" rx="3.0" ry="5.0" fill="#6ee878" opacity="0.6" transform="rotate(0 70 26.5)" filter="url(#b1_2)"/>
<ellipse cx="39" cy="4.7" rx="8" ry="4" fill="#40ca50" opacity="0.8" transform="rotate(0 39 4.7)" filter="url(#b1_2)"/>
<ellipse cx="39" cy="4.7" rx="4.0" ry="2.0" fill="#6ee878" opacity="0.6" transform="rotate(0 39 4.7)" filter="url(#b1_2)"/>
<ellipse cx="9.3" cy="42" rx="8" ry="5" fill="#40ca50" opacity="0.85" transform="rotate(0 9.3 42)" filter="url(#b1_2)"/>
<ellipse cx="9.3" cy="42" rx="4.0" ry="2.5" fill="#6ee878" opacity="0.6" transform="rotate(0 9.3 42)" filter="url(#b1_2)"/>
<ellipse cx="51.4" cy="40.5" rx="8" ry="5" fill="#40ca50" opacity="0.6" transform="rotate(0 51.4 40.5)" filter="url(#b1_2)"/>
<ellipse cx="51.4" cy="40.5" rx="4.0" ry="2.5" fill="#6ee878" opacity="0.6" transform="rotate(0 51.4 40.5)" filter="url(#b1_2)"/>
<ellipse cx="74.8" cy="38" rx="6" ry="8" fill="#020d05" opacity="0.85" transform="rotate(0 74.8 38)" filter="url(#b2_0)"/>
<ellipse cx="23.4" cy="9.3" rx="4" ry="6" fill="#020d05" opacity="0.75" transform="rotate(0 23.4 9.3)" filter="url(#b2_0)"/>
<ellipse cx="62" cy="42" rx="5" ry="4" fill="#020d05" opacity="0.6" transform="rotate(0 62 42)" filter="url(#b2_0)"/>
<ellipse cx="30" cy="44" rx="6" ry="3" fill="#020d05" opacity="0.4" transform="rotate(0 30 44)" filter="url(#b2_0)"/>
<rect width="80.10" height="48.20" fill="#021508" opacity="0.4" filter="url(#nz10)"/>
<rect width="80.10" height="48.20" fill="#021508" opacity="0.3" filter="url(#nf10)"/>
<path d="M32 18.7L42 14.8L46.7 21.8L48.3 31L42 37.4L33.5 38L28 29.6Z M15.6 9.3L20 18.7L17 28L23.4 37.4L21.8 45 M46.7 21.8L59 28L62.3 18.7L59 12.5 M28.8 3L29.6 14L32 18.7 M48.3 31L56 36L66 33" fill="none" stroke="#b8ffc6" stroke-width="0.6" stroke-dasharray="1.6 0.7" opacity="0.8"/><g transform="translate(33.4,37.8) rotate(45)"><path d="M-5.0 0H-1.5" stroke="#fff" stroke-width="0.9"/><path d="M0 0L-2.6 -1.4V1.4Z" fill="#fff"/></g>
</svg>
<rect x="281.00" y="110.00" width="12.00" height="9.00" fill="#fff"/>
<text x="282.20" y="117.00" font-size="7.4" text-anchor="start" font-weight="normal" fill="#1c1c1c" >α5</text>
<rect x="364.00" y="110.00" width="10.60" height="9.00" fill="#fff"/>
<text x="365.20" y="117.00" font-size="7.4" text-anchor="start" font-weight="normal" fill="#1c1c1c" >αv</text>
<rect x="281.00" y="159.70" width="12.00" height="9.00" fill="#fff"/>
<text x="282.20" y="166.70" font-size="7.4" text-anchor="start" font-weight="normal" fill="#1c1c1c" >α5</text>
<rect x="364.00" y="159.70" width="10.60" height="9.00" fill="#fff"/>
<text x="365.20" y="166.70" font-size="7.4" text-anchor="start" font-weight="normal" fill="#1c1c1c" >αv</text>
<rect x="281.00" y="223.90" width="12.00" height="9.00" fill="#fff"/>
<text x="282.20" y="230.90" font-size="7.4" text-anchor="start" font-weight="normal" fill="#1c1c1c" >α5</text>
<rect x="364.00" y="223.90" width="10.60" height="9.00" fill="#fff"/>
<text x="365.20" y="230.90" font-size="7.4" text-anchor="start" font-weight="normal" fill="#1c1c1c" >αv</text>
<rect x="281.00" y="273.70" width="12.00" height="9.00" fill="#fff"/>
<text x="282.20" y="280.70" font-size="7.4" text-anchor="start" font-weight="normal" fill="#1c1c1c" >α5</text>
<rect x="364.00" y="273.70" width="10.60" height="9.00" fill="#fff"/>
<text x="365.20" y="280.70" font-size="7.4" text-anchor="start" font-weight="normal" fill="#1c1c1c" >αv</text>
</svg></body></html>
